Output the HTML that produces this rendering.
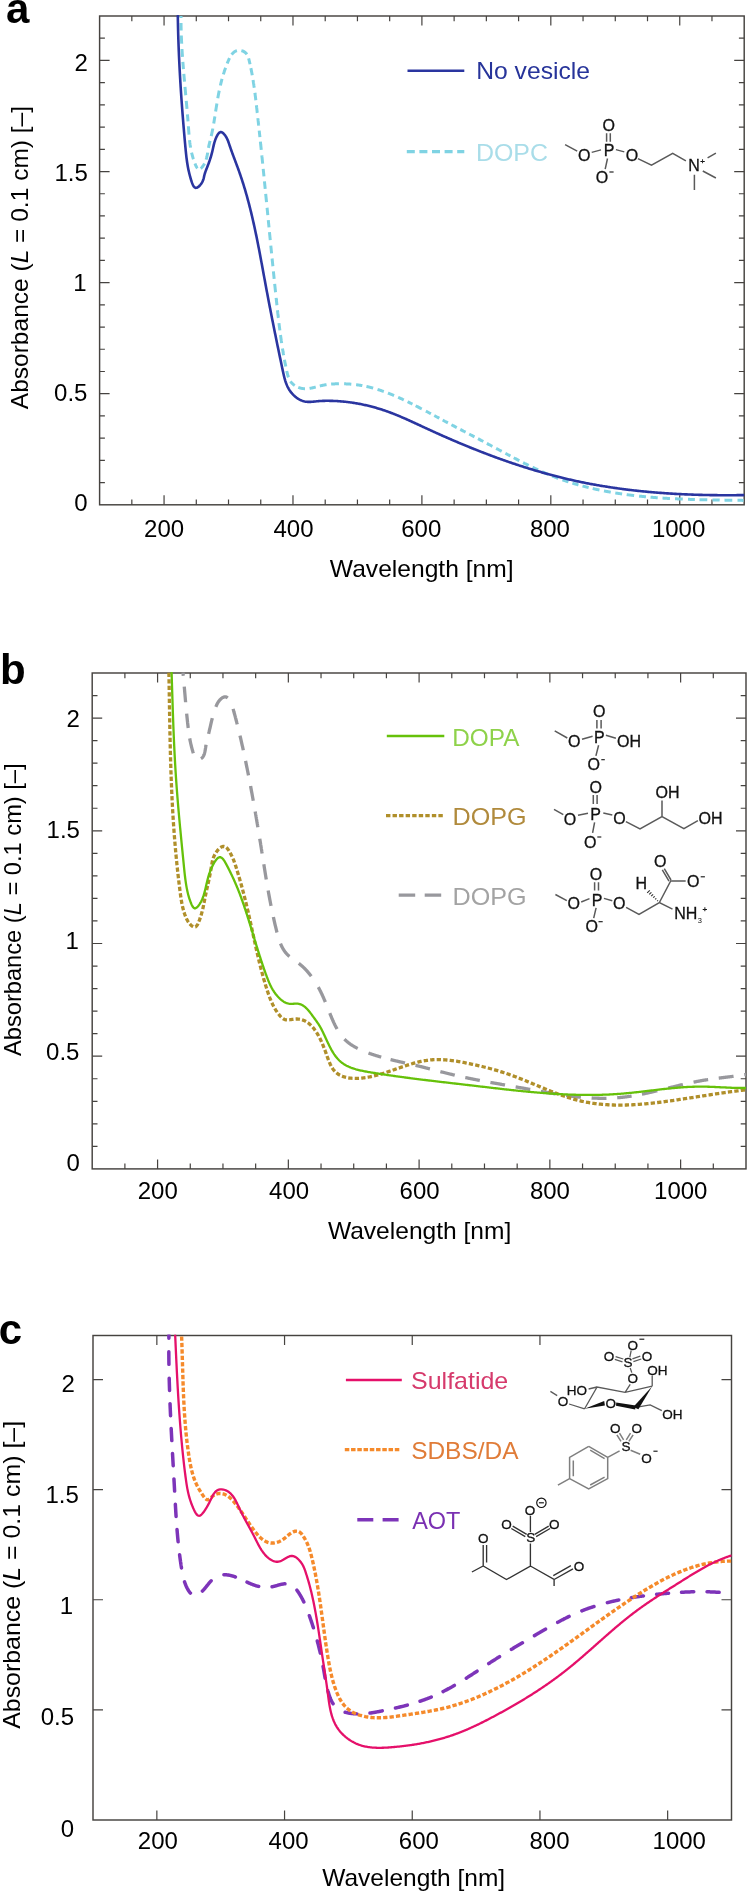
<!DOCTYPE html><html><head><meta charset="utf-8"><style>html,body{margin:0;padding:0;background:#fff;}body{width:751px;height:1892px;overflow:hidden;}svg{display:block;will-change:transform;}</style></head><body>
<svg width="751" height="1892" viewBox="0 0 751 1892" font-family="'Liberation Sans', sans-serif">
<defs>
<clipPath id="clipa"><rect x="99.6" y="15.0" width="644.6" height="489.8"/></clipPath>
<clipPath id="clipb"><rect x="92.2" y="672.0" width="653.8" height="496.9"/></clipPath>
<clipPath id="clipc"><rect x="93.0" y="1334.5" width="638.5" height="485.5"/></clipPath>
</defs>
<rect width="751" height="1892" fill="#fff"/>
<rect x="99.60" y="16.00" width="644.60" height="488.80" fill="none" stroke="#464340" stroke-width="1.45"/>
<path d="M131.83,504.80v-5.30M131.83,16.00v5.30M164.06,504.80v-9.50M164.06,16.00v9.50M196.29,504.80v-5.30M196.29,16.00v5.30M228.52,504.80v-5.30M228.52,16.00v5.30M260.75,504.80v-5.30M260.75,16.00v5.30M292.98,504.80v-9.50M292.98,16.00v9.50M325.21,504.80v-5.30M325.21,16.00v5.30M357.44,504.80v-5.30M357.44,16.00v5.30M389.67,504.80v-5.30M389.67,16.00v5.30M421.90,504.80v-9.50M421.90,16.00v9.50M454.13,504.80v-5.30M454.13,16.00v5.30M486.36,504.80v-5.30M486.36,16.00v5.30M518.59,504.80v-5.30M518.59,16.00v5.30M550.82,504.80v-9.50M550.82,16.00v9.50M583.05,504.80v-5.30M583.05,16.00v5.30M615.28,504.80v-5.30M615.28,16.00v5.30M647.51,504.80v-5.30M647.51,16.00v5.30M679.74,504.80v-9.50M679.74,16.00v9.50M711.97,504.80v-5.30M711.97,16.00v5.30M99.60,482.58h5.30M744.20,482.58h-5.30M99.60,460.36h5.30M744.20,460.36h-5.30M99.60,438.15h5.30M744.20,438.15h-5.30M99.60,415.93h5.30M744.20,415.93h-5.30M99.60,393.71h10.00M744.20,393.71h-10.00M99.60,371.49h5.30M744.20,371.49h-5.30M99.60,349.27h5.30M744.20,349.27h-5.30M99.60,327.05h5.30M744.20,327.05h-5.30M99.60,304.84h5.30M744.20,304.84h-5.30M99.60,282.62h10.00M744.20,282.62h-10.00M99.60,260.40h5.30M744.20,260.40h-5.30M99.60,238.18h5.30M744.20,238.18h-5.30M99.60,215.96h5.30M744.20,215.96h-5.30M99.60,193.75h5.30M744.20,193.75h-5.30M99.60,171.53h10.00M744.20,171.53h-10.00M99.60,149.31h5.30M744.20,149.31h-5.30M99.60,127.09h5.30M744.20,127.09h-5.30M99.60,104.87h5.30M744.20,104.87h-5.30M99.60,82.65h5.30M744.20,82.65h-5.30M99.60,60.44h10.00M744.20,60.44h-10.00M99.60,38.22h5.30M744.20,38.22h-5.30" stroke="#464340" stroke-width="1.2" fill="none"/>
<rect x="92.20" y="673.00" width="653.80" height="495.90" fill="none" stroke="#464340" stroke-width="1.45"/>
<path d="M124.89,1168.90v-5.30M124.89,673.00v5.30M157.58,1168.90v-9.50M157.58,673.00v9.50M190.27,1168.90v-5.30M190.27,673.00v5.30M222.96,1168.90v-5.30M222.96,673.00v5.30M255.65,1168.90v-5.30M255.65,673.00v5.30M288.34,1168.90v-9.50M288.34,673.00v9.50M321.03,1168.90v-5.30M321.03,673.00v5.30M353.72,1168.90v-5.30M353.72,673.00v5.30M386.41,1168.90v-5.30M386.41,673.00v5.30M419.10,1168.90v-9.50M419.10,673.00v9.50M451.79,1168.90v-5.30M451.79,673.00v5.30M484.48,1168.90v-5.30M484.48,673.00v5.30M517.17,1168.90v-5.30M517.17,673.00v5.30M549.86,1168.90v-9.50M549.86,673.00v9.50M582.55,1168.90v-5.30M582.55,673.00v5.30M615.24,1168.90v-5.30M615.24,673.00v5.30M647.93,1168.90v-5.30M647.93,673.00v5.30M680.62,1168.90v-9.50M680.62,673.00v9.50M713.31,1168.90v-5.30M713.31,673.00v5.30M92.20,1146.36h5.30M746.00,1146.36h-5.30M92.20,1123.82h5.30M746.00,1123.82h-5.30M92.20,1101.28h5.30M746.00,1101.28h-5.30M92.20,1078.74h5.30M746.00,1078.74h-5.30M92.20,1056.20h10.00M746.00,1056.20h-10.00M92.20,1033.65h5.30M746.00,1033.65h-5.30M92.20,1011.11h5.30M746.00,1011.11h-5.30M92.20,988.57h5.30M746.00,988.57h-5.30M92.20,966.03h5.30M746.00,966.03h-5.30M92.20,943.49h10.00M746.00,943.49h-10.00M92.20,920.95h5.30M746.00,920.95h-5.30M92.20,898.41h5.30M746.00,898.41h-5.30M92.20,875.87h5.30M746.00,875.87h-5.30M92.20,853.33h5.30M746.00,853.33h-5.30M92.20,830.79h10.00M746.00,830.79h-10.00M92.20,808.25h5.30M746.00,808.25h-5.30M92.20,785.70h5.30M746.00,785.70h-5.30M92.20,763.16h5.30M746.00,763.16h-5.30M92.20,740.62h5.30M746.00,740.62h-5.30M92.20,718.08h10.00M746.00,718.08h-10.00M92.20,695.54h5.30M746.00,695.54h-5.30" stroke="#464340" stroke-width="1.2" fill="none"/>
<rect x="93.00" y="1335.50" width="638.50" height="484.50" fill="none" stroke="#464340" stroke-width="1.45"/>
<path d="M156.85,1820.00v-9.50M156.85,1335.50v9.50M284.55,1820.00v-9.50M284.55,1335.50v9.50M412.25,1820.00v-9.50M412.25,1335.50v9.50M539.95,1820.00v-9.50M539.95,1335.50v9.50M667.65,1820.00v-9.50M93.00,1709.89h10.00M731.50,1709.89h-10.00M93.00,1599.77h10.00M731.50,1599.77h-10.00M93.00,1489.66h10.00M731.50,1489.66h-10.00M93.00,1379.55h10.00M731.50,1379.55h-10.00" stroke="#464340" stroke-width="1.2" fill="none"/>
<text x="6.00" y="23.15" font-size="42" font-weight="bold" fill="#000">a</text>
<text x="0.10" y="683.65" font-size="42" font-weight="bold" fill="#000">b</text>
<text x="-1.20" y="1343.65" font-size="42" font-weight="bold" fill="#000">c</text>
<text transform="translate(28.40,409.20) rotate(-90)" x="0" y="0" font-size="24" textLength="303.27" lengthAdjust="spacingAndGlyphs" fill="#000">Absorbance (<tspan font-style="italic">L</tspan> = 0.1 cm) [–]</text>
<text transform="translate(21.45,1056.00) rotate(-90)" x="0" y="0" font-size="24" textLength="292.60" lengthAdjust="spacingAndGlyphs" fill="#000">Absorbance (<tspan font-style="italic">L</tspan> = 0.1 cm) [–]</text>
<text transform="translate(20.35,1728.80) rotate(-90)" x="0" y="0" font-size="24" textLength="307.90" lengthAdjust="spacingAndGlyphs" fill="#000">Absorbance (<tspan font-style="italic">L</tspan> = 0.1 cm) [–]</text>
<text x="74.60" y="70.55" font-size="24" fill="#000">2</text>
<text x="54.45" y="180.60" font-size="24" fill="#000">1.5</text>
<text x="73.30" y="290.65" font-size="24" fill="#000">1</text>
<text x="54.05" y="400.80" font-size="24" fill="#000">0.5</text>
<text x="74.15" y="510.80" font-size="24" fill="#000">0</text>
<text x="144.05" y="536.70" font-size="24" fill="#000">200</text>
<text x="273.45" y="536.70" font-size="24" fill="#000">400</text>
<text x="401.20" y="536.70" font-size="24" fill="#000">600</text>
<text x="529.90" y="536.70" font-size="24" fill="#000">800</text>
<text x="651.90" y="536.70" font-size="24" fill="#000">1000</text>
<text x="329.85" y="576.85" font-size="24" textLength="183.73" lengthAdjust="spacingAndGlyphs" fill="#000">Wavelength [nm]</text>
<text x="476.15" y="79.10" font-size="24" textLength="113.90" lengthAdjust="spacingAndGlyphs" fill="#27349a">No vesicle</text>
<text x="475.90" y="161.40" font-size="24" textLength="72.08" lengthAdjust="spacingAndGlyphs" fill="#a9dde9">DOPC</text>
<text x="66.60" y="726.75" font-size="24" fill="#000">2</text>
<text x="46.55" y="838.05" font-size="24" fill="#000">1.5</text>
<text x="65.40" y="948.85" font-size="24" fill="#000">1</text>
<text x="46.10" y="1060.00" font-size="24" fill="#000">0.5</text>
<text x="66.45" y="1171.15" font-size="24" fill="#000">0</text>
<text x="137.70" y="1199.30" font-size="24" fill="#000">200</text>
<text x="269.05" y="1199.30" font-size="24" fill="#000">400</text>
<text x="399.55" y="1199.30" font-size="24" fill="#000">600</text>
<text x="529.90" y="1199.30" font-size="24" fill="#000">800</text>
<text x="654.05" y="1199.30" font-size="24" fill="#000">1000</text>
<text x="327.90" y="1238.85" font-size="24" textLength="183.43" lengthAdjust="spacingAndGlyphs" fill="#000">Wavelength [nm]</text>
<text x="452.30" y="745.75" font-size="24" textLength="67.06" lengthAdjust="spacingAndGlyphs" fill="#8ed24a">DOPA</text>
<text x="452.50" y="825.15" font-size="24" textLength="74.06" lengthAdjust="spacingAndGlyphs" fill="#b08a3c">DOPG</text>
<text x="452.50" y="904.60" font-size="24" textLength="74.06" lengthAdjust="spacingAndGlyphs" fill="#a3a3a3">DOPG</text>
<text x="61.50" y="1391.70" font-size="24" fill="#000">2</text>
<text x="45.40" y="1503.20" font-size="24" fill="#000">1.5</text>
<text x="59.85" y="1614.10" font-size="24" fill="#000">1</text>
<text x="40.75" y="1725.25" font-size="24" fill="#000">0.5</text>
<text x="60.75" y="1836.65" font-size="24" fill="#000">0</text>
<text x="137.85" y="1849.00" font-size="24" fill="#000">200</text>
<text x="268.55" y="1849.00" font-size="24" fill="#000">400</text>
<text x="398.80" y="1849.00" font-size="24" fill="#000">600</text>
<text x="529.50" y="1849.00" font-size="24" fill="#000">800</text>
<text x="652.55" y="1849.00" font-size="24" fill="#000">1000</text>
<text x="322.30" y="1885.70" font-size="24" textLength="182.83" lengthAdjust="spacingAndGlyphs" fill="#000">Wavelength [nm]</text>
<text x="411.05" y="1389.40" font-size="24" textLength="97.20" lengthAdjust="spacingAndGlyphs" fill="#d63a6c">Sulfatide</text>
<text x="411.15" y="1459.05" font-size="24" textLength="107.30" lengthAdjust="spacingAndGlyphs" fill="#e07c38">SDBS/DA</text>
<text x="412.15" y="1528.70" font-size="24" textLength="48.24" lengthAdjust="spacingAndGlyphs" fill="#7a30b2">AOT</text>
<path d="M181.01,16.00L181.01,16.50L181.00,17.00L181.00,17.50L181.00,18.00L181.00,18.00M181.02,23.00L181.02,23.50L181.03,24.00L181.04,24.50L181.04,25.00L181.05,25.50L181.06,26.00L181.07,26.50L181.08,27.00L181.09,27.50L181.10,28.00L181.11,28.50L181.12,29.00L181.13,29.50L181.14,30.00L181.16,30.50L181.16,30.50M181.32,35.50L181.34,36.00L181.36,36.50L181.37,37.00L181.39,37.50L181.42,38.00L181.44,38.50L181.46,39.00L181.48,39.50L181.50,40.00L181.53,40.50L181.55,41.00L181.57,41.50L181.60,42.00L181.62,42.50L181.65,43.00L181.67,43.50L181.68,43.60M181.98,48.99L182.01,49.49L182.04,49.99L182.07,50.49L182.10,50.99L182.13,51.49L182.16,51.99L182.19,52.49L182.23,52.98L182.26,53.48L182.29,53.98L182.33,54.48L182.36,54.98L182.39,55.48L182.43,55.98L182.46,56.48L182.48,56.78M182.86,61.97L182.90,62.46L182.94,62.96L182.98,63.46L183.02,63.96L183.06,64.46L183.10,64.96L183.14,65.46L183.18,65.95L183.22,66.45L183.26,66.95L183.30,67.45L183.34,67.95L183.38,68.45L183.42,68.95L183.43,69.14M183.84,73.93L183.88,74.43L183.92,74.93L183.97,75.42L184.01,75.92L184.05,76.42L184.10,76.92L184.14,77.42L184.18,77.92L184.23,78.41L184.27,78.91L184.32,79.41L184.36,79.91L184.41,80.41L184.45,80.90L184.49,81.40L184.52,81.70M184.99,86.88L185.04,87.38L185.08,87.88L185.13,88.38L185.17,88.87L185.22,89.37L185.26,89.87L185.31,90.37L185.36,90.87L185.40,91.36L185.45,91.86L185.49,92.36L185.54,92.86L185.58,93.36L185.63,93.85L185.67,94.35L185.72,94.85L185.76,95.25M186.27,100.83L186.31,101.33L186.36,101.82L186.40,102.32L186.45,102.82L186.49,103.32L186.54,103.82L186.58,104.31L186.63,104.81L186.67,105.31L186.71,105.81L186.76,106.31L186.80,106.81L186.85,107.30L186.89,107.80L186.93,108.30L186.98,108.80L186.99,108.90M187.45,114.28L187.49,114.78L187.53,115.28L187.57,115.78L187.61,116.27L187.65,116.77L187.69,117.27L187.74,117.77L187.78,118.27L187.82,118.77L187.86,119.27L187.90,119.76L187.93,120.26L187.97,120.76L188.01,121.26L188.03,121.46M188.39,126.25L188.42,126.75L188.46,127.24L188.49,127.74L188.53,128.24L188.57,128.74L188.60,129.24L188.64,129.74L188.67,130.24L188.71,130.74L188.74,131.24L188.78,131.73L188.82,132.23L188.86,132.73L188.89,133.23L188.93,133.73L188.97,134.23L189.01,134.63M189.54,140.20L189.59,140.70L189.65,141.20L189.71,141.69L189.77,142.19L189.83,142.69L189.90,143.18L189.97,143.68L190.03,144.17L190.11,144.67L190.18,145.16L190.26,145.66L190.33,146.15L190.41,146.64L190.50,147.14L190.58,147.63M191.57,152.53L191.69,153.02L191.81,153.51L191.93,153.99L192.05,154.48L192.17,154.96L192.30,155.44L192.44,155.93L192.57,156.41L192.71,156.89L192.85,157.37L193.00,157.85L193.14,158.32L193.29,158.80L193.42,159.18M194.97,163.51L195.16,163.98L195.35,164.44L195.54,164.90L195.74,165.36L195.95,165.81L196.17,166.26L196.40,166.71L196.64,167.14L196.91,167.56L197.21,167.97L197.47,168.27M200.66,168.44L201.05,168.14L201.42,167.80L201.77,167.45L202.11,167.08L202.43,166.69L202.74,166.30L203.04,165.90L203.32,165.49L203.60,165.07L203.86,164.64L204.12,164.21L204.36,163.78L204.50,163.51M206.10,159.63L206.25,159.15L206.39,158.67L206.53,158.19L206.65,157.71L206.78,157.22L206.89,156.74L207.00,156.25L207.11,155.76L207.21,155.27L207.31,154.78L207.40,154.29L207.49,153.80L207.58,153.30L207.66,152.81L207.69,152.61M208.48,147.88L208.57,147.39L208.67,146.89L208.76,146.40L208.87,145.91L208.97,145.43L209.08,144.94L209.19,144.45L209.30,143.96L209.41,143.47L209.53,142.99L209.65,142.50L209.77,142.02L209.89,141.53L210.01,141.05L210.06,140.85M211.21,136.19L211.32,135.70L211.44,135.22L211.55,134.73L211.66,134.24L211.76,133.75L211.87,133.26L211.97,132.77L212.07,132.28L212.17,131.79L212.27,131.30L212.37,130.81L212.47,130.32L212.57,129.83L212.66,129.34L212.76,128.85L212.81,128.55M213.73,123.43L213.81,122.94L213.90,122.45L213.98,121.96L214.06,121.46L214.14,120.97L214.22,120.47L214.30,119.98L214.38,119.49L214.46,118.99L214.54,118.50L214.62,118.01L214.70,117.51L214.78,117.02L214.85,116.52L214.89,116.33M215.62,111.58L215.70,111.09L215.78,110.59L215.85,110.10L215.93,109.60L216.01,109.11L216.08,108.62L216.16,108.12L216.24,107.63L216.32,107.13L216.39,106.64L216.47,106.15L216.55,105.65L216.63,105.16L216.71,104.66L216.79,104.17L216.87,103.68L216.89,103.58M217.79,98.25L217.87,97.76L217.96,97.27L218.05,96.78L218.14,96.28L218.23,95.79L218.32,95.30L218.41,94.81L218.51,94.32L218.60,93.83L218.69,93.33L218.79,92.84L218.89,92.35L218.98,91.86L219.08,91.37L219.18,90.88L219.24,90.59M220.36,85.51L220.48,85.02L220.59,84.53L220.71,84.05L220.83,83.56L220.95,83.08L221.07,82.59L221.19,82.11L221.32,81.62L221.44,81.14L221.57,80.65L221.70,80.17L221.83,79.69L221.96,79.21L222.07,78.82M223.36,74.40L223.51,73.93L223.66,73.45L223.81,72.97L223.97,72.50L224.12,72.02L224.28,71.55L224.43,71.07L224.59,70.60L224.76,70.12L224.92,69.65L225.08,69.18L225.25,68.71L225.42,68.24L225.55,67.86M227.17,63.55L227.36,63.09L227.54,62.63L227.73,62.16L227.92,61.70L228.12,61.24L228.31,60.78L228.52,60.32L228.72,59.86L228.93,59.41L229.14,58.96L229.36,58.51L229.59,58.06M231.66,54.65L231.96,54.25L232.28,53.86L232.61,53.48L232.95,53.11L233.30,52.76L233.67,52.43L234.06,52.11L234.46,51.81L234.88,51.53L235.31,51.28L235.75,51.05L236.21,50.85L236.68,50.69L236.92,50.62M241.37,50.63L241.62,50.69L242.10,50.83L242.57,50.99L243.03,51.18L243.49,51.39L243.93,51.62L244.36,51.87L244.78,52.15L245.18,52.45L245.56,52.78L245.91,53.13L246.25,53.50L246.56,53.89L246.85,54.30L246.85,54.30M248.63,58.41L248.76,58.90L248.89,59.38L249.02,59.86L249.14,60.35L249.26,60.84L249.37,61.32L249.49,61.81L249.60,62.30L249.71,62.78L249.82,63.27L249.93,63.76L250.04,64.25L250.04,64.25M250.88,68.16L250.98,68.65L251.08,69.14L251.18,69.63L251.28,70.12L251.38,70.61L251.47,71.10L251.57,71.59L251.66,72.08L251.75,72.58L251.84,73.07L251.94,73.56L252.03,74.05L252.11,74.54L252.20,75.03L252.24,75.23M253.04,79.97L253.12,80.46L253.20,80.95L253.28,81.45L253.36,81.94L253.43,82.44L253.51,82.93L253.59,83.42L253.66,83.92L253.74,84.41L253.81,84.91L253.88,85.40L253.95,85.90L254.03,86.39L254.10,86.89L254.17,87.38L254.21,87.68M254.90,92.83L254.97,93.33L255.03,93.83L255.10,94.32L255.16,94.82L255.22,95.32L255.28,95.81L255.35,96.31L255.41,96.80L255.47,97.30L255.53,97.80L255.59,98.29L255.65,98.79L255.71,99.29L255.77,99.78L255.83,100.28L255.83,100.28M256.40,105.25L256.46,105.75L256.52,106.24L256.58,106.74L256.63,107.24L256.69,107.73L256.74,108.23L256.80,108.73L256.86,109.22L256.91,109.72L256.97,110.22L257.02,110.71L257.08,111.21L257.14,111.71L257.19,112.21L257.25,112.70L257.28,113.00M257.86,118.17L257.91,118.67L257.97,119.16L258.02,119.66L258.08,120.16L258.13,120.66L258.19,121.15L258.24,121.65L258.30,122.15L258.35,122.65L258.40,123.14L258.46,123.64L258.51,124.14L258.57,124.63L258.62,125.13L258.68,125.63L258.68,125.63M259.21,130.60L259.27,131.10L259.32,131.60L259.37,132.09L259.43,132.59L259.48,133.09L259.53,133.58L259.59,134.08L259.64,134.58L259.69,135.08L259.75,135.57L259.80,136.07L259.85,136.57L259.91,137.07L259.92,137.17M260.38,141.54L260.43,142.04L260.48,142.54L260.54,143.03L260.59,143.53L260.64,144.03L260.69,144.53L260.75,145.02L260.80,145.52L260.85,146.02L260.90,146.52L260.95,147.01L261.01,147.51L261.06,148.01L261.11,148.51L261.16,149.00L261.21,149.50L261.25,149.90M261.83,155.47L261.88,155.97L261.93,156.47L261.99,156.96L262.04,157.46L262.09,157.96L262.14,158.46L262.19,158.95L262.24,159.45L262.29,159.95L262.34,160.45L262.39,160.94L262.44,161.44L262.50,161.94L262.55,162.44L262.60,162.93L262.65,163.43L262.66,163.53M263.20,168.91L263.25,169.40L263.30,169.90L263.35,170.40L263.40,170.90L263.45,171.39L263.50,171.89L263.56,172.39L263.61,172.89L263.66,173.38L263.71,173.88L263.76,174.38L263.81,174.88L263.86,175.37L263.91,175.87L263.96,176.37L263.96,176.37M264.45,181.35L264.50,181.84L264.55,182.34L264.60,182.84L264.65,183.34L264.70,183.83L264.75,184.33L264.80,184.83L264.85,185.33L264.90,185.83L264.95,186.32L265.00,186.82L265.05,187.32L265.10,187.82L265.15,188.31L265.20,188.81L265.20,188.81M265.69,193.79L265.74,194.29L265.79,194.78L265.84,195.28L265.89,195.78L265.94,196.28L265.99,196.78L266.04,197.27L266.08,197.77L266.13,198.27L266.18,198.77L266.23,199.26L266.28,199.76L266.33,200.26L266.38,200.76L266.43,201.25L266.48,201.75L266.52,202.15M267.07,207.73L267.12,208.22L267.16,208.72L267.21,209.22L267.26,209.72L267.31,210.21L267.36,210.71L267.41,211.21L267.46,211.71L267.51,212.21L267.56,212.70L267.61,213.20L267.65,213.70L267.70,214.20L267.75,214.69L267.80,215.19L267.80,215.19M268.29,220.17L268.34,220.67L268.39,221.16L268.44,221.66L268.49,222.16L268.53,222.66L268.58,223.16L268.63,223.65L268.68,224.15L268.73,224.65L268.78,225.15L268.83,225.64L268.88,226.14L268.93,226.64L268.98,227.14L269.00,227.34M269.47,232.12L269.52,232.61L269.56,233.11L269.61,233.61L269.66,234.11L269.71,234.60L269.76,235.10L269.81,235.60L269.86,236.10L269.91,236.59L269.96,237.09L270.01,237.59L270.06,238.09L270.11,238.59L270.15,239.08L270.20,239.58L270.25,240.08L270.26,240.18M270.80,245.55L270.85,246.05L270.89,246.55L270.94,247.05L270.99,247.54L271.04,248.04L271.09,248.54L271.14,249.04L271.19,249.54L271.24,250.03L271.29,250.53L271.34,251.03L271.39,251.53L271.44,252.02L271.49,252.52L271.54,253.02L271.57,253.32M272.09,258.49L272.14,258.99L272.19,259.49L272.24,259.99L272.29,260.48L272.34,260.98L272.39,261.48L272.44,261.98L272.49,262.47L272.54,262.97L272.59,263.47L272.64,263.97L272.69,264.46L272.74,264.96L272.79,265.46L272.84,265.96L272.87,266.26M273.40,271.43L273.45,271.93L273.50,272.43L273.55,272.92L273.60,273.42L273.65,273.92L273.70,274.42L273.75,274.91L273.80,275.41L273.86,275.91L273.91,276.41L273.96,276.90L274.01,277.40L274.06,277.90L274.11,278.40L274.16,278.89M274.68,283.87L274.73,284.37L274.78,284.86L274.83,285.36L274.88,285.86L274.94,286.36L274.99,286.85L275.04,287.35L275.09,287.85L275.14,288.35L275.20,288.84L275.25,289.34L275.30,289.84L275.35,290.34L275.40,290.83L275.46,291.33L275.51,291.83L275.55,292.23M276.14,297.80L276.19,298.29L276.25,298.79L276.30,299.29L276.35,299.79L276.41,300.28L276.46,300.78L276.51,301.28L276.57,301.78L276.62,302.27L276.67,302.77L276.73,303.27L276.78,303.76L276.83,304.26L276.89,304.76L276.94,305.26M277.48,310.23L277.54,310.73L277.59,311.22L277.65,311.72L277.70,312.22L277.76,312.71L277.82,313.21L277.87,313.71L277.93,314.20L277.98,314.70L278.04,315.20L278.10,315.70L278.15,316.19L278.21,316.69L278.27,317.19L278.32,317.68L278.36,317.98M278.97,323.15L279.03,323.64L279.09,324.14L279.15,324.64L279.21,325.13L279.27,325.63L279.33,326.13L279.39,326.62L279.46,327.12L279.52,327.61L279.58,328.11L279.64,328.61L279.71,329.10L279.77,329.60L279.84,330.10L279.86,330.29M280.49,335.05L280.56,335.55L280.63,336.04L280.70,336.54L280.77,337.04L280.84,337.53L280.91,338.03L280.98,338.52L281.05,339.02L281.12,339.51L281.19,340.01L281.26,340.50L281.33,341.00L281.41,341.49L281.48,341.99L281.55,342.48L281.63,342.98L281.64,343.07M282.47,348.41L282.55,348.90L282.63,349.40L282.71,349.89L282.80,350.39L282.88,350.88L282.96,351.37L283.04,351.87L283.13,352.36L283.21,352.85L283.30,353.34L283.38,353.84L283.47,354.33L283.55,354.82L283.62,355.22M284.45,359.74L284.54,360.23L284.64,360.73L284.73,361.22L284.83,361.71L284.92,362.20L285.02,362.69L285.11,363.18L285.21,363.67L285.31,364.16L285.41,364.65L285.51,365.14L285.61,365.63L285.71,366.12L285.79,366.51M286.75,371.01L286.86,371.50L286.97,371.99L287.08,372.48L287.19,372.96L287.31,373.45L287.43,373.94L287.55,374.42L287.68,374.91L287.81,375.39L287.95,375.87L288.10,376.35L288.26,376.82L288.42,377.29L288.46,377.39M290.46,381.29L290.75,381.70L291.06,382.09L291.38,382.48L291.71,382.85L292.06,383.21L292.41,383.56L292.78,383.90L293.15,384.23L293.54,384.55L293.93,384.86L294.33,385.16L294.74,385.45L294.74,385.45M298.25,387.36L298.72,387.54L299.19,387.71L299.66,387.87L300.14,388.01L300.62,388.14L301.11,388.25L301.60,388.35L302.09,388.44L302.59,388.51L303.08,388.57L303.58,388.62L304.08,388.66L304.58,388.68L304.98,388.69M309.56,388.36L310.06,388.28L310.55,388.20L311.04,388.11L311.54,388.02L312.03,387.92L312.51,387.81L313.00,387.71L313.49,387.60L313.98,387.48L314.46,387.37L314.95,387.25L315.44,387.13L315.73,387.05M319.80,386.01L320.28,385.89L320.77,385.77L321.25,385.65L321.74,385.54L322.23,385.43L322.72,385.32L323.21,385.22L323.70,385.12L324.19,385.02L324.68,384.93L325.17,384.85L325.67,384.77L326.16,384.69L326.56,384.63M331.13,384.12L331.63,384.08L332.13,384.04L332.62,384.01L333.12,383.98L333.62,383.95L334.12,383.92L334.62,383.90L335.12,383.87L335.62,383.85L336.12,383.84L336.62,383.82L337.12,383.81L337.62,383.80L338.12,383.78L338.62,383.78L338.92,383.77M344.12,383.81L344.62,383.82L345.12,383.84L345.62,383.86L346.12,383.88L346.62,383.90L347.12,383.92L347.62,383.95L348.12,383.98L348.62,384.01L349.12,384.04L349.62,384.07L350.12,384.11L350.61,384.15L351.11,384.19L351.31,384.21M356.09,384.70L356.58,384.76L357.08,384.83L357.58,384.89L358.07,384.96L358.57,385.03L359.06,385.11L359.56,385.18L360.05,385.26L360.54,385.34L361.04,385.42L361.53,385.51L362.02,385.59L362.32,385.65M366.44,386.47L366.93,386.57L367.41,386.68L367.90,386.79L368.39,386.91L368.88,387.02L369.36,387.14L369.85,387.26L370.33,387.38L370.82,387.50L371.30,387.63L371.79,387.76L372.27,387.88L372.75,388.01L373.14,388.12M377.55,389.41L378.03,389.56L378.51,389.71L378.98,389.87L379.46,390.02L379.94,390.18L380.41,390.33L380.88,390.49L381.36,390.65L381.83,390.81L382.30,390.98L382.78,391.14L383.25,391.31L383.72,391.48L383.81,391.51M387.94,393.05L388.40,393.23L388.87,393.41L389.34,393.59L389.80,393.78L390.26,393.96L390.73,394.15L391.19,394.34L391.66,394.53L392.12,394.72L392.58,394.91L393.04,395.10L393.50,395.29L393.96,395.49L394.06,395.53M398.09,397.28L398.55,397.49L399.00,397.69L399.46,397.90L399.92,398.11L400.37,398.31L400.82,398.52L401.28,398.73L401.73,398.94L402.19,399.15L402.64,399.36L403.09,399.58L403.55,399.79L403.82,399.92M407.60,401.74L408.05,401.96L408.50,402.18L408.95,402.40L409.40,402.62L409.85,402.84L410.30,403.06L410.74,403.28L411.19,403.51L411.64,403.73L412.09,403.95L412.44,404.13M415.66,405.76L416.10,405.99L416.55,406.22L416.99,406.45L417.44,406.67L417.88,406.90L418.33,407.13L418.77,407.36L419.21,407.59L419.66,407.82L420.10,408.05L420.54,408.29L420.99,408.52L421.43,408.75L421.79,408.93M425.86,411.08L426.30,411.31L426.74,411.55L427.18,411.78L427.62,412.02L428.06,412.25L428.51,412.49L428.95,412.72L429.39,412.96L429.83,413.20L430.27,413.43L430.71,413.67L430.89,413.76M434.24,415.56L434.68,415.80L435.12,416.03L435.56,416.27L436.00,416.51L436.44,416.74L436.88,416.98L437.32,417.22L437.76,417.45L438.20,417.69L438.64,417.93L439.08,418.16L439.26,418.26M442.61,420.06L443.05,420.29L443.49,420.53L443.93,420.76L444.37,421.00L444.81,421.24L445.26,421.47L445.70,421.71L446.14,421.94L446.58,422.18L447.02,422.41L447.46,422.65L447.90,422.88L447.90,422.88M451.44,424.75L451.88,424.99L452.32,425.22L452.77,425.46L453.21,425.69L453.65,425.92L454.09,426.15L454.54,426.39L454.98,426.62L455.42,426.85L455.86,427.09L456.31,427.32L456.75,427.55L456.75,427.55M460.29,429.41L460.74,429.64L461.18,429.88L461.62,430.11L462.07,430.34L462.51,430.57L462.95,430.80L463.39,431.04L463.84,431.27L464.28,431.50L464.72,431.73L465.17,431.96L465.61,432.19L465.61,432.19M469.16,434.05L469.60,434.28L470.04,434.51L470.49,434.74L470.93,434.98L471.37,435.21L471.81,435.44L472.26,435.67L472.70,435.90L473.14,436.14L473.59,436.37L474.03,436.60L474.47,436.83M478.02,438.69L478.46,438.93L478.90,439.16L479.34,439.39L479.79,439.63L480.23,439.86L480.67,440.09L481.11,440.33L481.56,440.56L482.00,440.79L482.44,441.03L482.88,441.26L483.32,441.49M486.86,443.37L487.30,443.60L487.74,443.84L488.18,444.07L488.62,444.31L489.07,444.54L489.51,444.78L489.95,445.02L490.39,445.25L490.83,445.49L491.27,445.72L491.71,445.96L492.15,446.20L492.42,446.34M496.12,448.33L496.56,448.57L497.00,448.80L497.44,449.04L497.88,449.28L498.32,449.52L498.76,449.75L499.20,449.99L499.64,450.23L500.08,450.46L500.52,450.70L500.96,450.94L501.40,451.18L501.66,451.32M505.37,453.31L505.81,453.54L506.25,453.78L506.69,454.02L507.13,454.25L507.57,454.49L508.01,454.72L508.45,454.96L508.89,455.19L509.33,455.43L509.78,455.66L510.22,455.90L510.39,455.99M513.75,457.77L514.20,458.01L514.64,458.24L515.08,458.47L515.52,458.70L515.97,458.93L516.41,459.17L516.85,459.40L517.30,459.63L517.74,459.86L518.19,460.09L518.63,460.32L519.07,460.55L519.34,460.69M523.08,462.61L523.52,462.83L523.97,463.06L524.42,463.28L524.86,463.51L525.31,463.73L525.76,463.96L526.20,464.18L526.65,464.41L527.10,464.63L527.55,464.85L528.00,465.07L528.44,465.30L528.71,465.43M532.49,467.27L532.94,467.48L533.39,467.70L533.84,467.92L534.29,468.13L534.75,468.35L535.20,468.56L535.65,468.77L536.10,468.98L536.56,469.20L537.01,469.41L537.46,469.62L537.92,469.83L538.19,469.95M542.02,471.69L542.47,471.89L542.93,472.10L543.39,472.30L543.85,472.50L544.30,472.70L544.76,472.90L545.22,473.10L545.68,473.30L546.14,473.49L546.60,473.69L547.06,473.89L547.52,474.08L547.98,474.28L548.07,474.31M552.15,475.99L552.61,476.17L553.08,476.36L553.54,476.54L554.01,476.72L554.47,476.90L554.94,477.08L555.41,477.26L555.87,477.44L556.34,477.62L556.81,477.80L557.28,477.98L557.74,478.15L558.21,478.33L558.31,478.36M562.45,479.85L562.92,480.02L563.39,480.18L563.86,480.35L564.34,480.51L564.81,480.67L565.28,480.83L565.76,480.99L566.23,481.15L566.71,481.31L567.18,481.46L567.66,481.62L568.13,481.77L568.42,481.87M572.42,483.13L572.90,483.28L573.38,483.42L573.86,483.57L574.34,483.71L574.82,483.85L575.30,484.00L575.78,484.14L576.26,484.28L576.74,484.42L577.22,484.55L577.70,484.69L578.18,484.83L578.47,484.91M582.52,486.02L583.00,486.15L583.49,486.28L583.97,486.41L584.46,486.53L584.94,486.66L585.42,486.78L585.91,486.90L586.39,487.03L586.88,487.15L587.36,487.27L587.85,487.39L588.34,487.51L588.63,487.58M592.71,488.55L593.20,488.66L593.69,488.78L594.18,488.89L594.67,488.99L595.15,489.10L595.64,489.21L596.13,489.32L596.62,489.43L597.11,489.53L597.60,489.64L598.09,489.74L598.58,489.84L599.07,489.95L599.46,490.03M603.97,490.94L604.46,491.03L604.95,491.13L605.44,491.22L605.93,491.31L606.42,491.40L606.92,491.50L607.41,491.59L607.90,491.68L608.39,491.77L608.88,491.85L609.38,491.94L609.87,492.03L610.36,492.12L610.76,492.19M615.29,492.95L615.79,493.03L616.28,493.11L616.78,493.19L617.27,493.26L617.76,493.34L618.26,493.42L618.75,493.49L619.25,493.57L619.74,493.64L620.24,493.72L620.73,493.79L621.23,493.86L621.72,493.93L622.12,493.99M626.67,494.62L627.17,494.69L627.67,494.75L628.16,494.82L628.66,494.88L629.15,494.95L629.65,495.01L630.15,495.07L630.64,495.13L631.14,495.20L631.64,495.26L632.13,495.32L632.63,495.38L633.13,495.44L633.62,495.49L634.12,495.55L634.12,495.55M639.09,496.10L639.59,496.16L640.08,496.21L640.58,496.26L641.08,496.31L641.58,496.36L642.07,496.41L642.57,496.46L643.07,496.51L643.57,496.56L644.07,496.61L644.56,496.65L645.06,496.70L645.56,496.75L645.96,496.79M650.54,497.19L651.04,497.23L651.54,497.27L652.04,497.31L652.54,497.35L653.03,497.39L653.53,497.43L654.03,497.47L654.53,497.51L655.03,497.55L655.53,497.59L656.03,497.63L656.52,497.66L657.02,497.70L657.52,497.74L657.72,497.75M662.51,498.08L663.01,498.11L663.51,498.14L664.01,498.17L664.51,498.21L665.01,498.24L665.51,498.27L666.01,498.30L666.51,498.33L667.00,498.36L667.50,498.38L668.00,498.41L668.50,498.44L669.00,498.47L669.50,498.50L670.00,498.52L670.00,498.52M675.00,498.78L675.50,498.80L675.99,498.83L676.49,498.85L676.99,498.87L677.49,498.90L677.99,498.92L678.49,498.94L678.99,498.96L679.49,498.98L679.99,499.01L680.49,499.03L680.99,499.05L681.49,499.07L681.99,499.09L682.49,499.11L682.79,499.12M687.99,499.31L688.49,499.33L688.99,499.35L689.49,499.36L689.99,499.38L690.49,499.39L690.99,499.41L691.49,499.43L691.99,499.44L692.49,499.46L692.99,499.47L693.49,499.49L693.99,499.50L694.49,499.52L694.89,499.53M699.49,499.65L699.99,499.66L700.49,499.67L700.99,499.69L701.49,499.70L701.99,499.71L702.49,499.72L702.99,499.73L703.49,499.74L703.99,499.76L704.49,499.77L704.99,499.78L705.49,499.79L705.99,499.80L706.49,499.81L706.99,499.82L707.29,499.83M712.49,499.93L712.99,499.93L713.49,499.94L713.99,499.95L714.49,499.96L714.99,499.97L715.49,499.98L715.99,499.99L716.49,499.99L716.99,500.00L717.49,500.01L717.99,500.02L718.49,500.03L718.99,500.04L719.49,500.04L719.69,500.05M724.49,500.12L724.99,500.13L725.49,500.13L725.99,500.14L726.49,500.15L726.99,500.16L727.49,500.16L727.99,500.17L728.49,500.18L728.99,500.18L729.49,500.19L729.99,500.20L730.49,500.21L730.99,500.21L731.49,500.22L731.99,500.23L732.29,500.23M737.49,500.31L737.99,500.31L738.49,500.32L738.99,500.33L739.49,500.34L739.99,500.34L740.49,500.35L740.99,500.36L741.49,500.37L741.99,500.37L742.49,500.38L742.99,500.39L743.49,500.40" fill="none" stroke="#7fd3e3" stroke-width="3.0" stroke-linecap="butt" stroke-linejoin="round" clip-path="url(#clipa)"/>
<path d="M177.81,16.00L177.82,17.00L177.84,18.00L177.85,19.00L177.87,20.00L177.89,21.00L177.91,22.01L177.93,23.01L177.95,24.01L177.97,25.01L177.99,26.01L178.01,27.01L178.04,28.01L178.06,29.01L178.09,30.01L178.11,31.01L178.14,32.01L178.17,33.01L178.19,34.01L178.22,35.01L178.25,36.01L178.28,37.01L178.31,38.01L178.35,39.01L178.38,40.01L178.41,41.01L178.45,42.01L178.48,43.01L178.52,44.01L178.55,45.01L178.59,46.01L178.63,47.01L178.66,48.01L178.70,49.01L178.74,50.01L178.78,51.01L178.82,52.01L178.87,53.01L178.91,54.01L178.95,55.01L178.99,56.01L179.04,57.01L179.08,58.01L179.13,59.01L179.18,60.01L179.22,61.01L179.27,62.01L179.32,63.01L179.37,64.01L179.42,65.01L179.47,66.01L179.52,67.00L179.57,68.00L179.62,69.00L179.67,70.00L179.73,71.00L179.78,72.00L179.84,73.00L179.89,74.00L179.95,75.00L180.00,76.00L180.06,77.00L180.12,78.00L180.18,78.99L180.24,79.99L180.29,80.99L180.35,81.99L180.41,82.99L180.48,83.99L180.54,84.99L180.60,85.99L180.66,86.99L180.73,87.98L180.79,88.98L180.85,89.98L180.92,90.98L180.98,91.98L181.05,92.98L181.12,93.98L181.19,94.97L181.25,95.97L181.32,96.97L181.39,97.97L181.46,98.97L181.53,99.97L181.60,100.96L181.67,101.96L181.74,102.96L181.81,103.96L181.89,104.96L181.96,105.95L182.03,106.95L182.11,107.95L182.18,108.95L182.26,109.95L182.33,110.94L182.41,111.94L182.49,112.94L182.56,113.94L182.64,114.93L182.72,115.93L182.80,116.93L182.88,117.93L182.96,118.92L183.04,119.92L183.12,120.92L183.20,121.92L183.28,122.91L183.36,123.91L183.45,124.91L183.53,125.91L183.61,126.90L183.70,127.90L183.78,128.90L183.87,129.89L183.95,130.89L184.04,131.89L184.12,132.89L184.21,133.88L184.30,134.88L184.39,135.88L184.47,136.87L184.56,137.87L184.65,138.87L184.74,139.86L184.83,140.86L184.92,141.86L185.01,142.85L185.11,143.85L185.20,144.85L185.29,145.84L185.38,146.84L185.48,147.83L185.57,148.83L185.66,149.83L185.76,150.82L185.86,151.82L185.96,152.81L186.06,153.81L186.17,154.80L186.28,155.80L186.39,156.79L186.51,157.79L186.64,158.78L186.77,159.77L186.90,160.76L187.04,161.75L187.19,162.74L187.35,163.73L187.51,164.72L187.68,165.71L187.85,166.69L188.04,167.68L188.23,168.66L188.43,169.64L188.64,170.62L188.85,171.59L189.08,172.57L189.31,173.54L189.56,174.51L189.81,175.48L190.07,176.45L190.34,177.41L190.62,178.37L190.91,179.33L191.21,180.28L191.51,181.24L191.83,182.19L192.17,183.13L192.53,184.06L192.93,184.98L193.39,185.86L193.95,186.70L194.65,187.41L195.54,187.84L196.53,187.82L197.45,187.45L198.29,186.90L199.05,186.25L199.76,185.54L200.41,184.78L201.02,183.99L201.59,183.17L202.10,182.31L202.57,181.42L202.97,180.51L203.31,179.56L203.58,178.60L203.82,177.63L204.03,176.65L204.25,175.68L204.50,174.71L204.77,173.74L205.07,172.79L205.40,171.84L205.74,170.90L206.09,169.96L206.45,169.03L206.81,168.10L207.18,167.17L207.55,166.24L207.92,165.31L208.28,164.37L208.63,163.44L208.97,162.50L209.31,161.56L209.63,160.61L209.95,159.66L210.26,158.71L210.56,157.75L210.85,156.80L211.14,155.84L211.41,154.87L211.68,153.91L211.93,152.94L212.18,151.97L212.42,151.00L212.64,150.03L212.86,149.05L213.08,148.07L213.29,147.09L213.50,146.12L213.73,145.14L213.96,144.17L214.21,143.20L214.49,142.24L214.78,141.28L215.09,140.33L215.44,139.39L215.80,138.46L216.20,137.54L216.62,136.63L217.07,135.74L217.56,134.87L218.11,134.03L218.73,133.25L219.47,132.57L220.35,132.11L221.33,132.07L222.25,132.47L223.05,133.07L223.76,133.77L224.43,134.52L225.04,135.31L225.61,136.13L226.14,136.98L226.63,137.85L227.08,138.75L227.50,139.65L227.88,140.58L228.25,141.51L228.59,142.45L228.92,143.39L229.24,144.34L229.56,145.29L229.88,146.24L230.20,147.19L230.52,148.13L230.85,149.08L231.18,150.02L231.52,150.97L231.86,151.91L232.20,152.85L232.54,153.79L232.89,154.73L233.24,155.67L233.59,156.60L233.94,157.54L234.29,158.48L234.64,159.41L234.99,160.35L235.35,161.29L235.70,162.22L236.05,163.16L236.40,164.10L236.75,165.03L237.10,165.97L237.45,166.91L237.80,167.85L238.14,168.79L238.48,169.73L238.82,170.67L239.16,171.61L239.49,172.56L239.82,173.50L240.15,174.45L240.47,175.39L240.79,176.34L241.11,177.29L241.43,178.24L241.74,179.19L242.05,180.14L242.36,181.09L242.67,182.05L242.97,183.00L243.27,183.95L243.57,184.91L243.86,185.87L244.16,186.82L244.45,187.78L244.74,188.74L245.02,189.70L245.31,190.66L245.59,191.62L245.86,192.58L246.14,193.54L246.41,194.50L246.69,195.47L246.96,196.43L247.22,197.39L247.49,198.36L247.75,199.32L248.01,200.29L248.27,201.26L248.53,202.22L248.78,203.19L249.04,204.16L249.29,205.13L249.53,206.10L249.78,207.07L250.03,208.04L250.27,209.01L250.51,209.98L250.75,210.95L250.99,211.92L251.22,212.90L251.46,213.87L251.69,214.84L251.92,215.82L252.15,216.79L252.38,217.76L252.60,218.74L252.83,219.71L253.05,220.69L253.27,221.67L253.49,222.64L253.71,223.62L253.93,224.60L254.14,225.57L254.36,226.55L254.57,227.53L254.78,228.51L254.99,229.49L255.20,230.46L255.41,231.44L255.61,232.42L255.82,233.40L256.02,234.38L256.23,235.36L256.43,236.34L256.63,237.32L256.83,238.30L257.03,239.28L257.22,240.26L257.42,241.24L257.62,242.23L257.81,243.21L258.01,244.19L258.20,245.17L258.39,246.15L258.58,247.14L258.77,248.12L258.96,249.10L259.15,250.08L259.34,251.07L259.53,252.05L259.72,253.03L259.91,254.01L260.09,255.00L260.28,255.98L260.46,256.96L260.65,257.95L260.83,258.93L261.02,259.91L261.20,260.90L261.38,261.88L261.56,262.87L261.75,263.85L261.93,264.83L262.11,265.82L262.29,266.80L262.47,267.79L262.66,268.77L262.84,269.75L263.02,270.74L263.20,271.72L263.38,272.71L263.56,273.69L263.74,274.68L263.92,275.66L264.10,276.64L264.28,277.63L264.46,278.61L264.64,279.60L264.83,280.58L265.01,281.56L265.19,282.55L265.37,283.53L265.55,284.52L265.73,285.50L265.92,286.48L266.10,287.47L266.28,288.45L266.47,289.44L266.65,290.42L266.84,291.40L267.02,292.39L267.21,293.37L267.39,294.35L267.58,295.34L267.76,296.32L267.95,297.30L268.14,298.29L268.33,299.27L268.51,300.25L268.70,301.23L268.89,302.22L269.08,303.20L269.27,304.18L269.46,305.16L269.65,306.15L269.84,307.13L270.03,308.11L270.22,309.09L270.41,310.08L270.60,311.06L270.79,312.04L270.99,313.02L271.18,314.00L271.37,314.99L271.57,315.97L271.76,316.95L271.95,317.93L272.15,318.91L272.34,319.90L272.54,320.88L272.73,321.86L272.93,322.84L273.12,323.82L273.32,324.80L273.52,325.78L273.71,326.76L273.91,327.75L274.11,328.73L274.30,329.71L274.50,330.69L274.70,331.67L274.90,332.65L275.10,333.63L275.30,334.61L275.50,335.59L275.69,336.57L275.89,337.55L276.09,338.53L276.29,339.51L276.50,340.50L276.70,341.48L276.90,342.46L277.10,343.44L277.30,344.42L277.50,345.40L277.70,346.38L277.91,347.36L278.11,348.34L278.31,349.32L278.52,350.30L278.72,351.28L278.92,352.26L279.13,353.24L279.33,354.21L279.53,355.19L279.74,356.17L279.94,357.15L280.15,358.13L280.35,359.11L280.56,360.09L280.76,361.07L280.97,362.05L281.18,363.03L281.38,364.01L281.59,364.99L281.80,365.97L282.00,366.95L282.21,367.93L282.42,368.90L282.62,369.88L282.83,370.86L283.04,371.84L283.25,372.82L283.47,373.80L283.69,374.77L283.92,375.75L284.16,376.72L284.40,377.69L284.66,378.65L284.94,379.62L285.22,380.58L285.53,381.53L285.85,382.48L286.19,383.42L286.55,384.35L286.93,385.27L287.34,386.19L287.77,387.09L288.23,387.98L288.72,388.86L289.23,389.72L289.77,390.56L290.34,391.38L290.94,392.18L291.56,392.96L292.22,393.72L292.90,394.46L293.60,395.17L294.33,395.85L295.08,396.51L295.86,397.14L296.66,397.74L297.48,398.31L298.33,398.85L299.19,399.35L300.08,399.82L300.98,400.24L301.91,400.62L302.85,400.96L303.81,401.25L304.78,401.49L305.76,401.67L306.76,401.80L307.75,401.88L308.75,401.91L309.75,401.91L310.75,401.87L311.75,401.81L312.75,401.73L313.75,401.63L314.74,401.53L315.74,401.42L316.73,401.31L317.73,401.22L318.72,401.13L319.72,401.06L320.72,400.99L321.72,400.94L322.72,400.90L323.72,400.86L324.72,400.84L325.72,400.82L326.72,400.81L327.72,400.81L328.72,400.82L329.72,400.83L330.72,400.84L331.72,400.87L332.72,400.90L333.72,400.93L334.72,400.97L335.72,401.02L336.72,401.07L337.72,401.13L338.72,401.20L339.72,401.27L340.72,401.35L341.71,401.43L342.71,401.52L343.71,401.61L344.70,401.72L345.70,401.82L346.69,401.93L347.69,402.05L348.68,402.17L349.67,402.30L350.66,402.44L351.65,402.58L352.64,402.72L353.63,402.88L354.62,403.03L355.61,403.20L356.59,403.36L357.58,403.54L358.56,403.72L359.55,403.90L360.53,404.09L361.51,404.28L362.49,404.49L363.47,404.69L364.45,404.90L365.43,405.12L366.40,405.34L367.38,405.57L368.35,405.80L369.32,406.04L370.29,406.28L371.26,406.53L372.23,406.78L373.20,407.04L374.16,407.31L375.13,407.58L376.09,407.85L377.05,408.13L378.01,408.42L378.97,408.71L379.92,409.00L380.88,409.30L381.83,409.61L382.78,409.92L383.73,410.23L384.68,410.55L385.62,410.88L386.57,411.21L387.51,411.55L388.45,411.89L389.39,412.23L390.33,412.58L391.27,412.93L392.20,413.29L393.13,413.65L394.06,414.02L395.00,414.39L395.92,414.76L396.85,415.14L397.78,415.52L398.70,415.90L399.62,416.29L400.55,416.67L401.47,417.07L402.39,417.46L403.31,417.86L404.22,418.26L405.14,418.66L406.05,419.06L406.97,419.47L407.88,419.88L408.80,420.29L409.71,420.70L410.62,421.11L411.53,421.53L412.44,421.94L413.35,422.36L414.26,422.78L415.17,423.20L416.08,423.62L416.98,424.04L417.89,424.46L418.80,424.88L419.71,425.30L420.61,425.72L421.52,426.14L422.43,426.57L423.34,426.99L424.24,427.41L425.15,427.83L426.06,428.25L426.97,428.67L427.88,429.09L428.79,429.51L429.70,429.93L430.61,430.34L431.52,430.76L432.43,431.17L433.34,431.59L434.25,432.00L435.16,432.41L436.07,432.83L436.98,433.24L437.90,433.65L438.81,434.06L439.72,434.47L440.64,434.87L441.55,435.28L442.47,435.69L443.38,436.09L444.30,436.49L445.21,436.90L446.13,437.30L447.05,437.70L447.96,438.10L448.88,438.50L449.80,438.90L450.72,439.30L451.64,439.69L452.55,440.09L453.47,440.48L454.39,440.88L455.31,441.27L456.23,441.66L457.16,442.05L458.08,442.44L459.00,442.83L459.92,443.22L460.84,443.61L461.77,443.99L462.69,444.38L463.62,444.76L464.54,445.15L465.47,445.53L466.39,445.91L467.32,446.29L468.24,446.67L469.17,447.05L470.10,447.42L471.02,447.80L471.95,448.17L472.88,448.55L473.81,448.92L474.74,449.29L475.67,449.66L476.60,450.03L477.53,450.40L478.46,450.76L479.39,451.13L480.32,451.49L481.26,451.86L482.19,452.22L483.12,452.58L484.06,452.94L484.99,453.30L485.92,453.66L486.86,454.01L487.80,454.37L488.73,454.72L489.67,455.07L490.60,455.42L491.54,455.77L492.48,456.12L493.42,456.47L494.36,456.82L495.30,457.16L496.24,457.51L497.18,457.85L498.12,458.19L499.06,458.53L500.00,458.87L500.94,459.21L501.88,459.54L502.83,459.88L503.77,460.21L504.71,460.55L505.66,460.88L506.60,461.21L507.55,461.54L508.49,461.86L509.44,462.19L510.39,462.51L511.33,462.84L512.28,463.16L513.23,463.48L514.18,463.80L515.13,464.11L516.08,464.43L517.03,464.74L517.98,465.06L518.93,465.37L519.88,465.68L520.83,465.99L521.78,466.29L522.74,466.60L523.69,466.90L524.64,467.21L525.60,467.51L526.55,467.81L527.51,468.11L528.46,468.40L529.42,468.70L530.38,468.99L531.33,469.29L532.29,469.58L533.25,469.87L534.21,470.15L535.17,470.44L536.12,470.72L537.08,471.01L538.04,471.29L539.01,471.57L539.97,471.85L540.93,472.12L541.89,472.40L542.85,472.67L543.82,472.94L544.78,473.21L545.74,473.48L546.71,473.75L547.67,474.01L548.64,474.28L549.60,474.54L550.57,474.80L551.54,475.06L552.50,475.31L553.47,475.57L554.44,475.82L555.41,476.07L556.38,476.32L557.35,476.57L558.32,476.82L559.29,477.06L560.26,477.30L561.23,477.55L562.20,477.78L563.17,478.02L564.15,478.26L565.12,478.49L566.09,478.72L567.07,478.95L568.04,479.18L569.02,479.41L569.99,479.63L570.97,479.85L571.94,480.08L572.92,480.29L573.90,480.51L574.87,480.73L575.85,480.94L576.83,481.15L577.81,481.36L578.79,481.57L579.77,481.77L580.75,481.98L581.73,482.18L582.71,482.38L583.69,482.58L584.67,482.78L585.65,482.97L586.63,483.16L587.61,483.36L588.60,483.55L589.58,483.73L590.56,483.92L591.55,484.10L592.53,484.28L593.51,484.47L594.50,484.64L595.48,484.82L596.47,485.00L597.45,485.17L598.44,485.34L599.43,485.51L600.41,485.68L601.40,485.85L602.39,486.01L603.37,486.17L604.36,486.34L605.35,486.50L606.34,486.65L607.33,486.81L608.31,486.96L609.30,487.12L610.29,487.27L611.28,487.42L612.27,487.57L613.26,487.71L614.25,487.86L615.24,488.00L616.23,488.14L617.22,488.28L618.21,488.42L619.21,488.56L620.20,488.69L621.19,488.82L622.18,488.96L623.17,489.09L624.17,489.22L625.16,489.34L626.15,489.47L627.14,489.59L628.14,489.71L629.13,489.84L630.12,489.95L631.12,490.07L632.11,490.19L633.11,490.30L634.10,490.42L635.09,490.53L636.09,490.64L637.08,490.75L638.08,490.85L639.07,490.96L640.07,491.06L641.06,491.17L642.06,491.27L643.06,491.37L644.05,491.47L645.05,491.56L646.04,491.66L647.04,491.75L648.04,491.85L649.03,491.94L650.03,492.03L651.03,492.12L652.02,492.20L653.02,492.29L654.02,492.37L655.01,492.45L656.01,492.54L657.01,492.62L658.01,492.70L659.00,492.77L660.00,492.85L661.00,492.92L662.00,493.00L663.00,493.07L663.99,493.14L664.99,493.21L665.99,493.28L666.99,493.34L667.99,493.41L668.99,493.47L669.99,493.54L670.98,493.60L671.98,493.66L672.98,493.72L673.98,493.78L674.98,493.83L675.98,493.89L676.98,493.94L677.98,494.00L678.98,494.05L679.98,494.10L680.98,494.15L681.98,494.20L682.97,494.24L683.97,494.29L684.97,494.33L685.97,494.38L686.97,494.42L687.97,494.46L688.97,494.50L689.97,494.54L690.97,494.57L691.97,494.61L692.97,494.65L693.97,494.68L694.97,494.71L695.97,494.75L696.97,494.78L697.97,494.81L698.97,494.83L699.97,494.86L700.98,494.89L701.98,494.91L702.98,494.94L703.98,494.96L704.98,494.98L705.98,495.00L706.98,495.02L707.98,495.04L708.98,495.06L709.98,495.08L710.98,495.09L711.98,495.11L712.98,495.12L713.98,495.14L714.98,495.15L715.98,495.16L716.98,495.17L717.98,495.18L718.98,495.18L719.99,495.19L720.99,495.20L721.99,495.20L722.99,495.21L723.99,495.21L724.99,495.21L725.99,495.21L726.99,495.21L727.99,495.21L728.99,495.21L729.99,495.21L730.99,495.21L731.99,495.20L732.99,495.20L733.99,495.19L735.00,495.18L736.00,495.18L737.00,495.17L738.00,495.16L739.00,495.15L740.00,495.14L741.00,495.13L742.00,495.11L743.00,495.10L744.00,495.09" fill="none" stroke="#2a35a0" stroke-width="2.6" stroke-linecap="round" stroke-linejoin="round" clip-path="url(#clipa)"/>
<path d="M183.00,672.70L183.04,673.20L183.09,673.70L183.14,674.20L183.19,674.69L183.24,675.19L183.28,675.69L183.30,675.85M184.27,686.65L184.31,687.14L184.35,687.64L184.40,688.14L184.44,688.64L184.48,689.14L184.53,689.64L184.57,690.13L184.61,690.63L184.65,691.13L184.70,691.63L184.74,692.13L184.78,692.63L184.82,693.12L184.87,693.62L184.91,694.12L184.95,694.62L185.00,695.12L185.04,695.61L185.08,696.11L185.12,696.61L185.17,697.11L185.21,697.61L185.25,698.11L185.30,698.60L185.34,699.10L185.38,699.60L185.43,700.10L185.47,700.60L185.51,701.09L185.56,701.59L185.60,702.09L185.61,702.25M186.66,713.54L186.71,714.04L186.75,714.54L186.80,715.04L186.85,715.53L186.90,716.03L186.95,716.53L187.00,717.03L187.05,717.52L187.11,718.02L187.16,718.52L187.21,719.02L187.26,719.51L187.31,720.01L187.37,720.51L187.42,721.01L187.47,721.50L187.53,722.00L187.58,722.50L187.64,722.99L187.69,723.49L187.75,723.99L187.81,724.49L187.86,724.98L187.92,725.48L187.98,725.98L188.04,726.47L188.10,726.97L188.16,727.47L188.22,727.96M189.71,738.36L189.79,738.85L189.88,739.34L189.97,739.83L190.07,740.32L190.16,740.81L190.26,741.30L190.36,741.79L190.46,742.28L190.56,742.77L190.67,743.26L190.77,743.75L190.88,744.24L191.00,744.73L191.11,745.21L191.23,745.70L191.35,746.18L191.47,746.67L191.59,747.15L191.72,747.64L191.85,748.12L191.98,748.60L192.11,749.09L192.24,749.57L192.38,750.05L192.52,750.53L192.66,751.01L192.81,751.49L192.95,751.97L193.10,752.44L193.25,752.92L193.36,753.27M200.92,758.65L201.34,758.39L201.75,758.09L202.12,757.76L202.47,757.40L202.78,757.01L203.07,756.60L203.33,756.17L203.57,755.74L203.79,755.28L203.98,754.82L204.16,754.36L204.32,753.88L204.47,753.41L204.61,752.92L204.73,752.44L204.85,751.95L204.95,751.46L205.05,750.97L205.14,750.48L205.23,749.99L205.31,749.50L205.39,749.00L205.47,748.51L205.55,748.02L205.62,747.52L205.69,747.03L205.77,746.53L205.84,746.04L205.92,745.54L206.01,745.05L206.07,744.69M208.59,733.85L208.71,733.36L208.83,732.87L208.94,732.39L209.06,731.90L209.18,731.42L209.29,730.93L209.41,730.44L209.52,729.96L209.63,729.47L209.74,728.98L209.86,728.49L209.97,728.01L210.08,727.52L210.19,727.03L210.30,726.54L210.41,726.06L210.53,725.57L210.64,725.08L210.75,724.59L210.86,724.11L210.98,723.62L211.09,723.13L211.20,722.65L211.32,722.16L211.43,721.67L211.55,721.19L211.67,720.70L211.79,720.22L211.91,719.73L212.03,719.24L212.15,718.76L212.27,718.28L212.33,718.04M215.88,706.84L216.07,706.37L216.26,705.91L216.46,705.45L216.66,704.99L216.87,704.54L217.09,704.09L217.31,703.64L217.55,703.20L217.80,702.77L218.06,702.34L218.33,701.92L218.61,701.51L218.90,701.10L219.21,700.71L219.53,700.32L219.86,699.95L220.20,699.58L220.56,699.23L220.92,698.89L221.30,698.57L221.69,698.26L222.10,697.96L222.52,697.69L222.95,697.44L223.40,697.23L223.87,697.05L224.35,696.92L224.85,696.85L225.35,696.84L225.84,696.92L226.32,697.08L226.77,697.30L227.19,697.56L227.58,697.87L227.67,697.94M233.09,708.91L233.23,709.39L233.36,709.87L233.50,710.35L233.63,710.83L233.77,711.31L233.90,711.80L234.04,712.28L234.17,712.76L234.30,713.24L234.43,713.72L234.57,714.21L234.70,714.69L234.83,715.17L234.96,715.65L235.09,716.14L235.22,716.62L235.35,717.10L235.47,717.59L235.60,718.07L235.73,718.55L235.86,719.04L235.99,719.52L236.11,720.00L236.24,720.49L236.36,720.97L236.49,721.46L236.61,721.94L236.74,722.42L236.86,722.91L236.99,723.39L237.11,723.88L237.22,724.31M239.97,735.54L240.08,736.02L240.19,736.51L240.31,737.00L240.42,737.48L240.54,737.97L240.65,738.46L240.76,738.94L240.87,739.43L240.99,739.92L241.10,740.41L241.21,740.89L241.32,741.38L241.43,741.87L241.54,742.36L241.65,742.84L241.76,743.33L241.87,743.82L241.98,744.31L242.09,744.80L242.20,745.28L242.31,745.77L242.42,746.26L242.53,746.75L242.63,747.24L242.74,747.72L242.85,748.21L242.96,748.70L243.06,749.19L243.17,749.68L243.28,750.17L243.29,750.25M245.56,760.93L245.67,761.42L245.77,761.91L245.87,762.40L245.97,762.89L246.07,763.38L246.17,763.87L246.27,764.36L246.37,764.85L246.47,765.34L246.57,765.83L246.67,766.32L246.77,766.81L246.87,767.30L246.97,767.79L247.07,768.28L247.17,768.77L247.27,769.26L247.37,769.75L247.46,770.24L247.56,770.73L247.66,771.22L247.76,771.71L247.86,772.20L247.95,772.69L248.05,773.18L248.15,773.67L248.25,774.16L248.34,774.65L248.44,775.14L248.50,775.43M250.53,785.94L250.62,786.43L250.71,786.93L250.81,787.42L250.90,787.91L250.99,788.40L251.08,788.89L251.18,789.38L251.27,789.87L251.36,790.37L251.45,790.86L251.54,791.35L251.63,791.84L251.73,792.33L251.82,792.82L251.91,793.32L252.00,793.81L252.09,794.30L252.18,794.79L252.27,795.28L252.36,795.78L252.45,796.27L252.54,796.76L252.63,797.25L252.72,797.74L252.81,798.23L252.90,798.73L252.99,799.22L253.08,799.71L253.17,800.20L253.26,800.69L253.27,800.77M255.18,811.53L255.27,812.02L255.35,812.51L255.44,813.00L255.52,813.50L255.61,813.99L255.70,814.48L255.78,814.98L255.87,815.47L255.95,815.96L256.04,816.45L256.12,816.95L256.21,817.44L256.29,817.93L256.37,818.43L256.46,818.92L256.54,819.41L256.63,819.90L256.71,820.40L256.79,820.89L256.88,821.38L256.96,821.88L257.05,822.37L257.13,822.86L257.21,823.36L257.30,823.85L257.38,824.34L257.46,824.83L257.54,825.33L257.63,825.82L257.71,826.31L257.79,826.81L257.87,827.25M259.74,838.65L259.82,839.14L259.90,839.64L259.98,840.13L260.06,840.62L260.14,841.12L260.22,841.61L260.30,842.11L260.38,842.60L260.46,843.09L260.54,843.59L260.62,844.08L260.70,844.57L260.77,845.07L260.85,845.56L260.93,846.06L261.01,846.55L261.09,847.04L261.17,847.54L261.25,848.03L261.32,848.53L261.40,849.02L261.48,849.51L261.56,850.01L261.64,850.50L261.72,850.99L261.79,851.49L261.87,851.98L261.95,852.48L262.03,852.97L262.11,853.46L262.12,853.54M263.82,864.33L263.90,864.83L263.98,865.32L264.06,865.81L264.14,866.31L264.21,866.80L264.29,867.29L264.37,867.79L264.45,868.28L264.53,868.78L264.61,869.27L264.69,869.76L264.77,870.26L264.85,870.75L264.93,871.24L265.01,871.74L265.09,872.23L265.17,872.73L265.25,873.22L265.33,873.71L265.41,874.21L265.49,874.70L265.57,875.19L265.65,875.69L265.73,876.18L265.81,876.67L265.89,877.17L265.97,877.66L266.05,878.15L266.14,878.65L266.22,879.14L266.28,879.51M268.16,890.48L268.25,890.97L268.33,891.46L268.42,891.95L268.51,892.45L268.60,892.94L268.69,893.43L268.77,893.92L268.86,894.41L268.95,894.91L269.04,895.40L269.13,895.89L269.22,896.38L269.31,896.87L269.41,897.37L269.50,897.86L269.59,898.35L269.68,898.84L269.77,899.33L269.87,899.82L269.96,900.32L270.05,900.81L270.15,901.30L270.24,901.79L270.33,902.28L270.43,902.77L270.52,903.26L270.62,903.75L270.71,904.24L270.81,904.73L270.91,905.22L271.00,905.72L271.04,905.87M273.35,916.98L273.45,917.46L273.56,917.95L273.67,918.44L273.78,918.93L273.88,919.42L273.99,919.91L274.10,920.39L274.21,920.88L274.32,921.37L274.44,921.86L274.55,922.34L274.66,922.83L274.77,923.32L274.89,923.81L275.00,924.29L275.11,924.78L275.23,925.27L275.34,925.75L275.46,926.24L275.58,926.73L275.69,927.21L275.81,927.70L275.93,928.18L276.05,928.67L276.17,929.16L276.29,929.64L276.41,930.13L276.53,930.61L276.65,931.10L276.77,931.58L276.89,932.07L277.00,932.50M280.46,943.52L280.65,943.98L280.85,944.44L281.05,944.90L281.25,945.35L281.46,945.80L281.68,946.26L281.90,946.70L282.13,947.15L282.36,947.59L282.60,948.03L282.85,948.47L283.10,948.90L283.36,949.33L283.62,949.75L283.89,950.17L284.17,950.59L284.45,951.00L284.74,951.41L285.04,951.81L285.35,952.21L285.66,952.60L285.97,952.98L286.30,953.36L286.63,953.74L286.97,954.11L287.31,954.47L287.66,954.83L288.02,955.17L288.38,955.52L288.75,955.85L289.13,956.19L289.47,956.48M298.75,963.35L299.15,963.66L299.54,963.97L299.93,964.28L300.32,964.60L300.70,964.92L301.08,965.24L301.46,965.56L301.84,965.89L302.21,966.23L302.58,966.56L302.95,966.90L303.32,967.24L303.68,967.59L304.04,967.94L304.39,968.29L304.75,968.64L305.10,969.00L305.44,969.36L305.79,969.72L306.13,970.08L306.47,970.45L306.81,970.82L307.14,971.20L307.47,971.57L307.80,971.95L308.12,972.33L308.44,972.71L308.76,973.10L309.08,973.48L309.39,973.87L309.71,974.26L310.02,974.65L310.32,975.05L310.63,975.45L310.93,975.84L311.22,976.23M318.28,987.16L318.52,987.59L318.76,988.03L319.00,988.47L319.24,988.91L319.47,989.36L319.70,989.80L319.93,990.24L320.16,990.69L320.39,991.13L320.61,991.58L320.83,992.03L321.06,992.48L321.27,992.93L321.49,993.38L321.71,993.83L321.92,994.28L322.13,994.73L322.34,995.19L322.55,995.64L322.76,996.10L322.96,996.55L323.17,997.01L323.37,997.47L323.57,997.93L323.77,998.38L323.97,998.84L324.17,999.30L324.36,999.76L324.56,1000.22L324.75,1000.68L324.95,1001.14L325.14,1001.61L325.33,1002.07L325.34,1002.09M329.80,1013.21L329.99,1013.67L330.17,1014.13L330.36,1014.60L330.55,1015.06L330.74,1015.52L330.93,1015.99L331.12,1016.45L331.31,1016.91L331.50,1017.37L331.69,1017.83L331.89,1018.29L332.08,1018.75L332.28,1019.21L332.48,1019.67L332.68,1020.13L332.88,1020.59L333.08,1021.05L333.29,1021.50L333.49,1021.96L333.70,1022.41L333.91,1022.87L334.13,1023.32L334.34,1023.77L334.56,1024.22L334.78,1024.67L335.00,1025.12L335.22,1025.57L335.45,1026.01L335.68,1026.46L335.91,1026.90L336.14,1027.34L336.38,1027.78L336.62,1028.22L336.86,1028.66L337.06,1029.01M344.48,1039.15L344.83,1039.51L345.18,1039.86L345.54,1040.20L345.91,1040.55L346.28,1040.88L346.65,1041.22L347.03,1041.54L347.41,1041.87L347.80,1042.18L348.19,1042.50L348.58,1042.81L348.98,1043.11L349.38,1043.41L349.78,1043.71L350.18,1044.00L350.59,1044.29L351.01,1044.57L351.42,1044.85L351.84,1045.13L352.26,1045.40L352.68,1045.67L353.11,1045.93L353.53,1046.19L353.96,1046.44L354.40,1046.70L354.83,1046.94L355.27,1047.19L355.70,1047.43L356.14,1047.67L356.58,1047.90L357.03,1048.13L357.47,1048.36L357.69,1048.47M368.51,1053.05L368.98,1053.22L369.45,1053.39L369.92,1053.56L370.40,1053.72L370.87,1053.89L371.34,1054.05L371.81,1054.21L372.29,1054.37L372.76,1054.53L373.24,1054.69L373.71,1054.84L374.19,1055.00L374.66,1055.15L375.14,1055.30L375.62,1055.45L376.09,1055.60L376.57,1055.75L377.05,1055.90L377.53,1056.04L378.01,1056.19L378.49,1056.33L378.97,1056.48L379.45,1056.62L379.93,1056.76L380.41,1056.90L380.89,1057.03L381.21,1057.13M390.55,1059.60L391.04,1059.72L391.52,1059.84L392.01,1059.95L392.50,1060.07L392.98,1060.19L393.47,1060.31L393.95,1060.42L394.44,1060.54L394.93,1060.65L395.41,1060.77L395.90,1060.88L396.39,1061.00L396.88,1061.11L397.36,1061.22L397.85,1061.34L398.34,1061.45L398.82,1061.56L399.31,1061.67L399.80,1061.78L400.29,1061.90L400.77,1062.01L401.26,1062.12L401.75,1062.23L402.24,1062.34L402.72,1062.45L403.21,1062.56L403.70,1062.67L404.19,1062.78L404.68,1062.89L405.02,1062.97M415.51,1065.35L415.89,1065.44L416.38,1065.55L416.87,1065.67L417.35,1065.78L417.84,1065.90L418.33,1066.01L418.81,1066.13L419.30,1066.25L419.78,1066.36L420.27,1066.48L420.76,1066.60L421.24,1066.72L421.73,1066.84L422.21,1066.96L422.70,1067.08L423.18,1067.20L423.67,1067.32L424.15,1067.44L424.64,1067.56L425.12,1067.68L425.61,1067.80L426.09,1067.93L426.58,1068.05L427.06,1068.17L427.55,1068.29L428.03,1068.42L428.52,1068.54L429.00,1068.66L429.49,1068.79L429.94,1068.90M440.36,1071.59L440.62,1071.66L441.11,1071.78L441.59,1071.91L442.08,1072.03L442.56,1072.15L443.05,1072.28L443.53,1072.40L444.02,1072.52L444.50,1072.65L444.99,1072.77L445.47,1072.89L445.96,1073.01L446.44,1073.14L446.93,1073.26L447.41,1073.38L447.90,1073.50L448.38,1073.62L448.87,1073.74L449.35,1073.86L449.84,1073.98L450.32,1074.10L450.81,1074.22L451.30,1074.34L451.78,1074.45L452.27,1074.57L452.75,1074.69L453.24,1074.80L453.73,1074.92L454.21,1075.03L454.70,1075.15L454.77,1075.17M465.27,1077.52L465.44,1077.55L465.92,1077.65L466.41,1077.76L466.90,1077.86L467.39,1077.96L467.88,1078.07L468.37,1078.17L468.86,1078.27L469.35,1078.37L469.84,1078.47L470.33,1078.57L470.82,1078.67L471.31,1078.77L471.80,1078.87L472.29,1078.97L472.78,1079.07L473.27,1079.17L473.76,1079.26L474.25,1079.36L474.74,1079.46L475.23,1079.55L475.72,1079.65L476.22,1079.75L476.71,1079.84L477.20,1079.94L477.69,1080.03L478.18,1080.13L478.67,1080.22L479.16,1080.32L479.65,1080.41L479.84,1080.45M490.41,1082.41L490.47,1082.42L490.96,1082.51L491.45,1082.59L491.95,1082.68L492.44,1082.77L492.93,1082.86L493.42,1082.95L493.91,1083.04L494.41,1083.12L494.90,1083.21L495.39,1083.30L495.88,1083.39L496.38,1083.47L496.87,1083.56L497.36,1083.65L497.85,1083.73L498.35,1083.82L498.84,1083.91L499.33,1083.99L499.82,1084.08L500.32,1084.17L500.81,1084.25L501.30,1084.34L501.79,1084.43L502.29,1084.51L502.78,1084.60L503.27,1084.68L503.76,1084.77L504.26,1084.86L504.75,1084.94L505.04,1084.99M515.64,1086.85L516.08,1086.92L516.57,1087.01L517.06,1087.10L517.56,1087.19L518.05,1087.27L518.54,1087.36L519.03,1087.45L519.53,1087.53L520.02,1087.62L520.51,1087.71L521.00,1087.80L521.50,1087.89L521.99,1087.97L522.48,1088.06L522.97,1088.15L523.46,1088.24L523.96,1088.33L524.45,1088.42L524.94,1088.50L525.43,1088.59L525.92,1088.68L526.42,1088.77L526.91,1088.86L527.40,1088.95L527.89,1089.04L528.38,1089.13L528.88,1089.22L529.37,1089.31L529.86,1089.40L530.26,1089.47M540.85,1091.38L541.18,1091.44L541.67,1091.53L542.16,1091.61L542.66,1091.70L543.15,1091.79L543.64,1091.87L544.13,1091.96L544.63,1092.05L545.12,1092.13L545.61,1092.22L546.10,1092.30L546.60,1092.39L547.09,1092.47L547.58,1092.56L548.08,1092.64L548.57,1092.73L549.06,1092.81L549.56,1092.89L550.05,1092.98L550.54,1093.06L551.03,1093.14L551.53,1093.23L552.02,1093.31L552.51,1093.39L553.01,1093.47L553.50,1093.55L554.00,1093.63L554.49,1093.71L554.98,1093.79L555.48,1093.87L555.50,1093.87M566.14,1095.47L566.36,1095.50L566.85,1095.56L567.35,1095.63L567.84,1095.70L568.34,1095.76L568.83,1095.83L569.33,1095.89L569.83,1095.96L570.32,1096.02L570.82,1096.08L571.32,1096.14L571.81,1096.21L572.31,1096.27L572.80,1096.33L573.30,1096.39L573.80,1096.44L574.29,1096.50L574.79,1096.56L575.29,1096.61L575.78,1096.67L576.28,1096.73L576.78,1096.78L577.28,1096.83L577.77,1096.88L578.27,1096.94L578.77,1096.99L579.27,1097.04L579.76,1097.09L580.26,1097.13L580.76,1097.18L580.89,1097.19M591.62,1097.99L591.73,1098.00L592.23,1098.02L592.73,1098.05L593.23,1098.07L593.73,1098.09L594.23,1098.11L594.73,1098.14L595.23,1098.15L595.73,1098.17L596.23,1098.19L596.73,1098.21L597.23,1098.22L597.73,1098.23L598.23,1098.25L598.73,1098.26L599.23,1098.27L599.73,1098.28L600.23,1098.28L600.73,1098.29L601.23,1098.30L601.73,1098.30L602.23,1098.30L602.73,1098.30L603.23,1098.30L603.73,1098.30L604.23,1098.30L604.73,1098.30L605.23,1098.29L605.73,1098.29L606.23,1098.28L606.47,1098.27M617.21,1097.77L617.71,1097.73L618.21,1097.69L618.71,1097.65L619.21,1097.60L619.71,1097.56L620.20,1097.51L620.70,1097.46L621.20,1097.41L621.70,1097.36L622.19,1097.31L622.69,1097.25L623.19,1097.19L623.68,1097.14L624.18,1097.08L624.68,1097.02L625.17,1096.96L625.67,1096.89L626.16,1096.83L626.66,1096.76L627.16,1096.70L627.65,1096.63L628.15,1096.56L628.64,1096.49L629.14,1096.42L629.63,1096.34L630.13,1096.27L630.62,1096.19L631.11,1096.11L631.61,1096.04L631.61,1096.04M641.94,1094.16L642.43,1094.06L642.92,1093.96L643.41,1093.86L643.90,1093.76L644.39,1093.66L644.88,1093.55L645.37,1093.45L645.86,1093.35L646.35,1093.24L646.83,1093.14L647.32,1093.03L647.81,1092.92L648.30,1092.82L648.79,1092.71L649.28,1092.60L649.76,1092.49L650.25,1092.38L650.74,1092.27L651.23,1092.16L651.71,1092.05L652.20,1091.93L652.69,1091.82L653.18,1091.71L653.66,1091.60L654.15,1091.48L654.64,1091.37L655.12,1091.25L655.61,1091.14L656.10,1091.02L656.58,1090.91L657.07,1090.79L657.23,1090.75M668.24,1088.06L668.73,1087.94L669.21,1087.82L669.70,1087.70L670.18,1087.58L670.67,1087.46L671.16,1087.34L671.64,1087.22L672.13,1087.10L672.61,1086.98L673.10,1086.86L673.58,1086.74L674.07,1086.62L674.55,1086.50L675.04,1086.38L675.53,1086.27L676.01,1086.15L676.50,1086.03L676.98,1085.91L677.47,1085.79L677.96,1085.68L678.44,1085.56L678.93,1085.44L679.41,1085.33L679.90,1085.21L680.39,1085.09L680.87,1084.98L681.36,1084.86L681.85,1084.75L682.33,1084.63L682.82,1084.52L682.90,1084.50M693.56,1082.15L694.05,1082.05L694.54,1081.95L695.03,1081.86L695.53,1081.76L696.02,1081.66L696.51,1081.57L697.00,1081.47L697.49,1081.38L697.98,1081.28L698.47,1081.19L698.96,1081.10L699.46,1081.01L699.95,1080.92L700.44,1080.83L700.93,1080.75L701.42,1080.66L701.92,1080.57L702.41,1080.49L702.90,1080.41L703.40,1080.33L703.89,1080.24L704.38,1080.16L704.88,1080.08L705.37,1080.00L705.87,1079.93L706.36,1079.85L706.85,1079.77L707.35,1079.70L707.84,1079.62L708.13,1079.58M718.74,1078.13L719.24,1078.07L719.73,1078.00L720.23,1077.94L720.73,1077.88L721.22,1077.82L721.72,1077.75L722.21,1077.69L722.71,1077.63L723.21,1077.57L723.70,1077.51L724.20,1077.45L724.70,1077.38L725.19,1077.32L725.69,1077.26L726.18,1077.20L726.68,1077.14L727.18,1077.08L727.67,1077.01L728.17,1076.95L728.67,1076.89L729.16,1076.83L729.66,1076.77L730.15,1076.70L730.65,1076.64L731.15,1076.58L731.64,1076.52L732.14,1076.45L732.63,1076.39L733.13,1076.32L733.56,1076.27M744.27,1074.76L744.52,1074.73L745.01,1074.65L745.51,1074.57L746.00,1074.49" fill="none" stroke="#98989d" stroke-width="3.3" stroke-linecap="butt" stroke-linejoin="round" clip-path="url(#clipb)"/>
<path d="M168.90,672.70L168.92,673.70L168.94,674.70L168.95,675.70L168.97,676.70L168.99,677.70L169.01,678.70L169.03,679.70L169.04,680.71L169.06,681.71L169.08,682.71L169.09,683.71L169.11,684.71L169.13,685.71L169.15,686.71L169.16,687.71L169.18,688.71L169.20,689.71L169.21,690.71L169.23,691.71L169.25,692.71L169.26,693.71L169.28,694.71L169.29,695.71L169.31,696.72L169.33,697.72L169.34,698.72L169.36,699.72L169.38,700.72L169.39,701.72L169.41,702.72L169.43,703.72L169.44,704.72L169.46,705.72L169.47,706.72L169.49,707.72L169.51,708.72L169.52,709.72L169.54,710.72L169.56,711.73L169.57,712.73L169.59,713.73L169.61,714.73L169.63,715.73L169.64,716.73L169.66,717.73L169.68,718.73L169.70,719.73L169.71,720.73L169.73,721.73L169.75,722.73L169.77,723.73L169.79,724.73L169.81,725.73L169.82,726.74L169.84,727.74L169.86,728.74L169.88,729.74L169.90,730.74L169.92,731.74L169.94,732.74L169.96,733.74L169.98,734.74L170.00,735.74L170.02,736.74L170.04,737.74L170.07,738.74L170.09,739.74L170.11,740.74L170.13,741.74L170.15,742.74L170.18,743.74L170.20,744.75L170.22,745.75L170.25,746.75L170.27,747.75L170.29,748.75L170.32,749.75L170.34,750.75L170.37,751.75L170.39,752.75L170.42,753.75L170.45,754.75L170.47,755.75L170.50,756.75L170.53,757.75L170.56,758.75L170.58,759.75L170.61,760.75L170.64,761.75L170.67,762.75L170.70,763.75L170.73,764.75L170.76,765.75L170.79,766.75L170.82,767.76L170.86,768.76L170.89,769.76L170.92,770.76L170.95,771.76L170.99,772.76L171.02,773.76L171.06,774.76L171.09,775.76L171.13,776.76L171.16,777.76L171.20,778.76L171.24,779.76L171.28,780.76L171.32,781.76L171.35,782.76L171.39,783.76L171.43,784.76L171.47,785.76L171.52,786.76L171.56,787.76L171.60,788.76L171.64,789.76L171.69,790.76L171.73,791.76L171.77,792.76L171.82,793.76L171.87,794.76L171.91,795.76L171.96,796.76L172.01,797.76L172.05,798.75L172.10,799.75L172.15,800.75L172.20,801.75L172.25,802.75L172.31,803.75L172.36,804.75L172.41,805.75L172.47,806.75L172.52,807.75L172.58,808.75L172.63,809.75L172.69,810.75L172.74,811.75L172.80,812.75L172.86,813.75L172.92,814.74L172.98,815.74L173.04,816.74L173.10,817.74L173.17,818.74L173.23,819.74L173.29,820.74L173.36,821.74L173.42,822.73L173.49,823.73L173.56,824.73L173.63,825.73L173.70,826.73L173.77,827.73L173.84,828.73L173.91,829.72L173.98,830.72L174.05,831.72L174.13,832.72L174.20,833.72L174.28,834.71L174.35,835.71L174.43,836.71L174.51,837.71L174.59,838.70L174.67,839.70L174.75,840.70L174.83,841.70L174.91,842.69L175.00,843.69L175.08,844.69L175.17,845.69L175.25,846.68L175.34,847.68L175.43,848.68L175.51,849.67L175.60,850.67L175.69,851.67L175.79,852.66L175.88,853.66L175.97,854.66L176.07,855.65L176.16,856.65L176.26,857.65L176.35,858.64L176.45,859.64L176.55,860.63L176.65,861.63L176.75,862.63L176.85,863.62L176.95,864.62L177.06,865.61L177.16,866.61L177.27,867.60L177.37,868.60L177.48,869.59L177.59,870.59L177.70,871.58L177.81,872.58L177.92,873.57L178.03,874.57L178.14,875.56L178.26,876.56L178.37,877.55L178.49,878.54L178.60,879.54L178.72,880.53L178.84,881.53L178.96,882.52L179.08,883.51L179.20,884.51L179.33,885.50L179.45,886.49L179.57,887.49L179.70,888.48L179.83,889.47L179.95,890.46L180.08,891.46L180.21,892.45L180.34,893.44L180.48,894.43L180.61,895.42L180.75,896.42L180.89,897.41L181.04,898.40L181.19,899.39L181.35,900.37L181.51,901.36L181.68,902.35L181.86,903.33L182.05,904.31L182.25,905.29L182.46,906.27L182.69,907.25L182.92,908.22L183.17,909.19L183.43,910.16L183.70,911.12L183.99,912.08L184.30,913.03L184.62,913.98L184.96,914.92L185.32,915.85L185.70,916.78L186.09,917.70L186.50,918.61L186.93,919.52L187.40,920.40L187.89,921.27L188.43,922.12L189.01,922.93L189.63,923.71L190.31,924.45L191.03,925.15L191.80,925.79L192.62,926.35L193.52,926.79L194.49,927.01L195.46,926.82L196.28,926.25L196.93,925.49L197.46,924.64L197.93,923.76L198.34,922.85L198.73,921.92L199.10,921.00L199.46,920.06L199.81,919.12L200.15,918.18L200.47,917.23L200.78,916.28L201.08,915.33L201.37,914.37L201.64,913.40L201.90,912.44L202.16,911.47L202.40,910.50L202.63,909.53L202.85,908.55L203.07,907.57L203.28,906.59L203.48,905.61L203.68,904.63L203.87,903.65L204.06,902.67L204.25,901.69L204.44,900.70L204.63,899.72L204.82,898.74L205.01,897.76L205.21,896.77L205.41,895.79L205.62,894.82L205.82,893.84L206.03,892.86L206.25,891.88L206.46,890.90L206.68,889.93L206.90,888.95L207.12,887.97L207.33,887.00L207.55,886.02L207.77,885.04L207.99,884.07L208.21,883.09L208.42,882.11L208.64,881.13L208.85,880.16L209.06,879.18L209.27,878.20L209.47,877.22L209.67,876.24L209.87,875.26L210.06,874.27L210.25,873.29L210.44,872.31L210.62,871.32L210.79,870.34L210.96,869.35L211.12,868.36L211.28,867.38L211.43,866.39L211.59,865.40L211.76,864.41L211.94,863.43L212.13,862.45L212.35,861.47L212.58,860.50L212.84,859.53L213.13,858.57L213.46,857.63L213.82,856.69L214.21,855.77L214.64,854.87L215.11,853.98L215.62,853.12L216.16,852.28L216.74,851.46L217.35,850.67L218.00,849.91L218.68,849.18L219.40,848.48L220.17,847.84L220.99,847.27L221.87,846.80L222.82,846.49L223.82,846.40L224.79,846.61L225.68,847.07L226.47,847.68L227.18,848.39L227.82,849.15L228.41,849.96L228.97,850.79L229.49,851.65L229.99,852.51L230.47,853.39L230.94,854.27L231.40,855.17L231.84,856.06L232.26,856.97L232.67,857.88L233.07,858.80L233.46,859.72L233.83,860.65L234.18,861.59L234.53,862.53L234.86,863.47L235.18,864.42L235.50,865.37L235.80,866.32L236.11,867.28L236.40,868.23L236.70,869.19L236.99,870.15L237.28,871.10L237.57,872.06L237.86,873.02L238.15,873.98L238.44,874.94L238.72,875.90L239.01,876.85L239.29,877.81L239.57,878.78L239.85,879.74L240.13,880.70L240.40,881.66L240.68,882.62L240.95,883.59L241.22,884.55L241.49,885.51L241.75,886.48L242.02,887.44L242.28,888.41L242.54,889.38L242.80,890.34L243.05,891.31L243.31,892.28L243.56,893.25L243.81,894.22L244.06,895.19L244.31,896.15L244.55,897.12L244.80,898.10L245.04,899.07L245.28,900.04L245.52,901.01L245.76,901.98L246.00,902.95L246.23,903.93L246.46,904.90L246.70,905.87L246.93,906.85L247.16,907.82L247.39,908.80L247.61,909.77L247.84,910.75L248.07,911.72L248.29,912.70L248.51,913.67L248.73,914.65L248.96,915.62L249.18,916.60L249.39,917.58L249.61,918.55L249.83,919.53L250.05,920.51L250.26,921.48L250.48,922.46L250.69,923.44L250.91,924.42L251.12,925.39L251.33,926.37L251.55,927.35L251.76,928.33L251.97,929.31L252.18,930.28L252.40,931.26L252.61,932.24L252.82,933.22L253.03,934.20L253.24,935.17L253.45,936.15L253.67,937.13L253.88,938.11L254.09,939.09L254.30,940.06L254.52,941.04L254.73,942.02L254.94,943.00L255.16,943.98L255.38,944.95L255.59,945.93L255.81,946.91L256.03,947.88L256.24,948.86L256.46,949.84L256.68,950.81L256.91,951.79L257.13,952.76L257.35,953.74L257.58,954.72L257.80,955.69L258.03,956.66L258.26,957.64L258.49,958.61L258.72,959.59L258.95,960.56L259.19,961.53L259.43,962.51L259.66,963.48L259.90,964.45L260.15,965.42L260.39,966.39L260.63,967.36L260.88,968.33L261.13,969.30L261.38,970.27L261.64,971.24L261.89,972.20L262.15,973.17L262.41,974.14L262.68,975.10L262.94,976.07L263.21,977.03L263.48,978.00L263.75,978.96L264.03,979.92L264.30,980.88L264.59,981.84L264.87,982.80L265.16,983.76L265.44,984.72L265.74,985.68L266.03,986.63L266.33,987.59L266.63,988.54L266.94,989.50L267.24,990.45L267.56,991.40L267.87,992.35L268.19,993.30L268.52,994.24L268.86,995.19L269.20,996.13L269.55,997.06L269.90,998.00L270.27,998.93L270.64,999.86L271.03,1000.78L271.43,1001.70L271.83,1002.62L272.25,1003.52L272.68,1004.43L273.13,1005.32L273.58,1006.21L274.06,1007.10L274.54,1007.97L275.04,1008.84L275.56,1009.69L276.09,1010.54L276.64,1011.38L277.21,1012.21L277.79,1013.02L278.39,1013.82L279.00,1014.61L279.63,1015.39L280.29,1016.15L280.97,1016.88L281.69,1017.57L282.46,1018.21L283.28,1018.78L284.17,1019.25L285.11,1019.59L286.08,1019.79L287.08,1019.88L288.08,1019.88L289.08,1019.82L290.07,1019.72L291.07,1019.59L292.06,1019.44L293.05,1019.30L294.04,1019.17L295.04,1019.07L296.04,1019.01L297.04,1019.00L298.04,1019.05L299.03,1019.14L300.02,1019.30L301.00,1019.51L301.96,1019.77L302.91,1020.08L303.85,1020.45L304.76,1020.86L305.64,1021.32L306.51,1021.83L307.35,1022.37L308.17,1022.95L308.96,1023.56L309.72,1024.21L310.46,1024.88L311.18,1025.58L311.87,1026.30L312.55,1027.04L313.20,1027.80L313.83,1028.58L314.44,1029.37L315.03,1030.18L315.60,1031.00L316.16,1031.83L316.70,1032.67L317.23,1033.52L317.74,1034.38L318.24,1035.25L318.72,1036.13L319.19,1037.01L319.65,1037.90L320.10,1038.79L320.54,1039.69L320.97,1040.60L321.39,1041.50L321.81,1042.42L322.21,1043.33L322.60,1044.25L322.98,1045.18L323.36,1046.11L323.73,1047.04L324.09,1047.97L324.45,1048.90L324.80,1049.84L325.14,1050.78L325.49,1051.72L325.83,1052.66L326.17,1053.60L326.50,1054.55L326.84,1055.49L327.17,1056.43L327.51,1057.37L327.85,1058.32L328.19,1059.26L328.54,1060.19L328.91,1061.12L329.28,1062.05L329.67,1062.97L330.08,1063.89L330.50,1064.80L330.95,1065.69L331.42,1066.58L331.92,1067.44L332.44,1068.29L333.01,1069.12L333.61,1069.92L334.25,1070.69L334.93,1071.42L335.65,1072.12L336.40,1072.78L337.18,1073.41L337.99,1073.99L338.84,1074.53L339.70,1075.03L340.59,1075.49L341.50,1075.91L342.42,1076.29L343.36,1076.64L344.32,1076.94L345.28,1077.22L346.25,1077.46L347.23,1077.67L348.21,1077.85L349.20,1078.00L350.20,1078.12L351.19,1078.22L352.19,1078.30L353.19,1078.35L354.19,1078.38L355.19,1078.40L356.19,1078.39L357.19,1078.37L358.19,1078.33L359.19,1078.28L360.19,1078.21L361.19,1078.13L362.18,1078.03L363.18,1077.92L364.17,1077.80L365.16,1077.66L366.15,1077.52L367.14,1077.36L368.13,1077.18L369.11,1077.00L370.09,1076.81L371.07,1076.61L372.05,1076.39L373.03,1076.17L374.00,1075.94L374.97,1075.70L375.94,1075.45L376.91,1075.20L377.87,1074.93L378.84,1074.66L379.80,1074.39L380.76,1074.11L381.72,1073.82L382.68,1073.52L383.63,1073.23L384.58,1072.92L385.54,1072.62L386.49,1072.30L387.44,1071.99L388.39,1071.67L389.33,1071.35L390.28,1071.03L391.23,1070.70L392.17,1070.38L393.12,1070.05L394.07,1069.72L395.01,1069.39L395.95,1069.06L396.90,1068.73L397.84,1068.40L398.79,1068.07L399.73,1067.74L400.68,1067.41L401.63,1067.09L402.57,1066.76L403.52,1066.44L404.47,1066.12L405.42,1065.81L406.37,1065.49L407.32,1065.19L408.28,1064.88L409.23,1064.58L410.19,1064.29L411.14,1064.00L412.10,1063.71L413.07,1063.44L414.03,1063.16L414.99,1062.90L415.96,1062.64L416.93,1062.39L417.90,1062.15L418.87,1061.92L419.85,1061.69L420.83,1061.47L421.81,1061.27L422.79,1061.07L423.77,1060.89L424.76,1060.71L425.74,1060.55L426.73,1060.40L427.72,1060.26L428.72,1060.13L429.71,1060.02L430.71,1059.92L431.70,1059.84L432.70,1059.76L433.70,1059.70L434.70,1059.66L435.70,1059.62L436.70,1059.60L437.70,1059.59L438.70,1059.60L439.70,1059.61L440.71,1059.63L441.71,1059.67L442.71,1059.71L443.70,1059.77L444.70,1059.83L445.70,1059.91L446.70,1059.99L447.70,1060.08L448.69,1060.18L449.69,1060.29L450.68,1060.40L451.67,1060.52L452.67,1060.65L453.66,1060.79L454.65,1060.93L455.64,1061.08L456.63,1061.23L457.61,1061.39L458.60,1061.56L459.59,1061.73L460.57,1061.90L461.56,1062.08L462.54,1062.27L463.53,1062.45L464.51,1062.64L465.49,1062.84L466.47,1063.04L467.45,1063.24L468.43,1063.44L469.41,1063.65L470.39,1063.85L471.37,1064.06L472.35,1064.28L473.32,1064.49L474.30,1064.71L475.28,1064.92L476.25,1065.14L477.23,1065.37L478.20,1065.59L479.18,1065.82L480.15,1066.05L481.13,1066.28L482.10,1066.52L483.07,1066.75L484.04,1066.99L485.01,1067.24L485.98,1067.48L486.95,1067.73L487.92,1067.98L488.89,1068.24L489.86,1068.50L490.82,1068.76L491.79,1069.02L492.75,1069.29L493.72,1069.56L494.68,1069.84L495.64,1070.11L496.60,1070.39L497.56,1070.68L498.52,1070.97L499.48,1071.26L500.43,1071.55L501.39,1071.85L502.34,1072.15L503.29,1072.46L504.25,1072.77L505.20,1073.08L506.15,1073.40L507.09,1073.72L508.04,1074.05L508.99,1074.38L509.93,1074.71L510.87,1075.05L511.81,1075.39L512.75,1075.73L513.69,1076.08L514.63,1076.43L515.56,1076.78L516.50,1077.14L517.43,1077.50L518.37,1077.86L519.30,1078.23L520.23,1078.60L521.16,1078.97L522.09,1079.34L523.02,1079.71L523.94,1080.09L524.87,1080.46L525.80,1080.84L526.72,1081.22L527.65,1081.60L528.57,1081.99L529.50,1082.37L530.42,1082.76L531.34,1083.14L532.27,1083.53L533.19,1083.91L534.11,1084.30L535.04,1084.69L535.96,1085.07L536.88,1085.46L537.81,1085.85L538.73,1086.23L539.65,1086.62L540.58,1087.00L541.50,1087.39L542.42,1087.77L543.35,1088.15L544.27,1088.54L545.20,1088.92L546.13,1089.29L547.05,1089.67L547.98,1090.05L548.91,1090.42L549.84,1090.79L550.77,1091.16L551.70,1091.53L552.63,1091.90L553.56,1092.26L554.50,1092.62L555.43,1092.98L556.37,1093.33L557.30,1093.69L558.24,1094.04L559.18,1094.38L560.12,1094.72L561.06,1095.06L562.01,1095.40L562.95,1095.73L563.90,1096.05L564.84,1096.38L565.79,1096.70L566.74,1097.01L567.70,1097.32L568.65,1097.62L569.60,1097.92L570.56,1098.22L571.52,1098.51L572.48,1098.79L573.44,1099.07L574.40,1099.34L575.37,1099.60L576.33,1099.86L577.30,1100.12L578.27,1100.36L579.24,1100.61L580.22,1100.84L581.19,1101.07L582.17,1101.29L583.15,1101.50L584.12,1101.70L585.11,1101.90L586.09,1102.10L587.07,1102.28L588.06,1102.46L589.04,1102.63L590.03,1102.80L591.02,1102.96L592.01,1103.11L592.99,1103.26L593.99,1103.40L594.98,1103.54L595.97,1103.67L596.96,1103.79L597.96,1103.91L598.95,1104.02L599.95,1104.12L600.94,1104.22L601.94,1104.31L602.94,1104.40L603.93,1104.48L604.93,1104.56L605.93,1104.63L606.93,1104.70L607.93,1104.76L608.93,1104.81L609.93,1104.86L610.93,1104.91L611.93,1104.95L612.93,1104.98L613.93,1105.01L614.93,1105.04L615.93,1105.06L616.93,1105.07L617.93,1105.08L618.93,1105.09L619.93,1105.09L620.93,1105.09L621.93,1105.08L622.93,1105.07L623.93,1105.06L624.93,1105.04L625.93,1105.01L626.94,1104.98L627.94,1104.95L628.94,1104.92L629.94,1104.88L630.94,1104.84L631.94,1104.79L632.93,1104.74L633.93,1104.68L634.93,1104.63L635.93,1104.57L636.93,1104.50L637.93,1104.44L638.93,1104.37L639.93,1104.29L640.92,1104.21L641.92,1104.14L642.92,1104.05L643.92,1103.97L644.91,1103.88L645.91,1103.79L646.91,1103.69L647.90,1103.60L648.90,1103.50L649.89,1103.40L650.89,1103.29L651.88,1103.19L652.88,1103.08L653.87,1102.97L654.87,1102.85L655.86,1102.74L656.86,1102.62L657.85,1102.50L658.84,1102.38L659.84,1102.26L660.83,1102.13L661.82,1102.01L662.81,1101.88L663.81,1101.75L664.80,1101.62L665.79,1101.48L666.78,1101.35L667.77,1101.21L668.77,1101.08L669.76,1100.94L670.75,1100.80L671.74,1100.66L672.73,1100.51L673.72,1100.37L674.71,1100.23L675.70,1100.08L676.69,1099.93L677.68,1099.79L678.67,1099.64L679.66,1099.49L680.65,1099.34L681.64,1099.19L682.63,1099.04L683.62,1098.89L684.61,1098.74L685.60,1098.59L686.58,1098.44L687.57,1098.28L688.56,1098.13L689.55,1097.98L690.54,1097.82L691.53,1097.67L692.52,1097.52L693.51,1097.36L694.50,1097.21L695.49,1097.05L696.47,1096.90L697.46,1096.74L698.45,1096.59L699.44,1096.44L700.43,1096.28L701.42,1096.13L702.41,1095.97L703.40,1095.82L704.38,1095.66L705.37,1095.51L706.36,1095.36L707.35,1095.20L708.34,1095.05L709.33,1094.90L710.32,1094.75L711.31,1094.59L712.30,1094.44L713.29,1094.29L714.28,1094.14L715.27,1093.99L716.26,1093.84L717.25,1093.70L718.24,1093.55L719.22,1093.40L720.22,1093.26L721.21,1093.11L722.20,1092.97L723.19,1092.82L724.18,1092.68L725.17,1092.54L726.16,1092.40L727.15,1092.26L728.14,1092.12L729.13,1091.98L730.12,1091.84L731.11,1091.71L732.11,1091.57L733.10,1091.44L734.09,1091.31L735.08,1091.17L736.07,1091.04L737.07,1090.92L738.06,1090.79L739.05,1090.66L740.05,1090.54L741.04,1090.42L742.03,1090.29L743.03,1090.17L744.02,1090.05L745.01,1089.94L746.01,1089.82" fill="none" stroke="#b08f2a" stroke-width="3.3" stroke-linecap="butt" stroke-linejoin="round" stroke-dasharray="4.3 2.2" clip-path="url(#clipb)"/>
<path d="M171.60,672.70L171.63,673.70L171.66,674.70L171.70,675.70L171.73,676.70L171.76,677.70L171.79,678.70L171.82,679.70L171.85,680.70L171.89,681.70L171.92,682.70L171.95,683.70L171.98,684.70L172.01,685.70L172.04,686.70L172.08,687.70L172.11,688.70L172.14,689.70L172.17,690.70L172.20,691.70L172.23,692.70L172.26,693.70L172.30,694.70L172.33,695.70L172.36,696.70L172.39,697.70L172.42,698.70L172.46,699.69L172.49,700.69L172.52,701.69L172.55,702.69L172.59,703.69L172.62,704.69L172.65,705.69L172.68,706.69L172.72,707.69L172.75,708.69L172.78,709.69L172.82,710.69L172.85,711.69L172.89,712.69L172.92,713.69L172.96,714.69L172.99,715.69L173.03,716.69L173.06,717.69L173.10,718.69L173.13,719.69L173.17,720.69L173.21,721.69L173.24,722.69L173.28,723.69L173.32,724.69L173.35,725.69L173.39,726.69L173.43,727.69L173.47,728.69L173.51,729.69L173.55,730.69L173.59,731.68L173.63,732.68L173.67,733.68L173.71,734.68L173.75,735.68L173.79,736.68L173.84,737.68L173.88,738.68L173.92,739.68L173.97,740.68L174.01,741.68L174.06,742.68L174.10,743.68L174.15,744.68L174.19,745.68L174.24,746.68L174.29,747.67L174.33,748.67L174.38,749.67L174.43,750.67L174.48,751.67L174.53,752.67L174.58,753.67L174.63,754.67L174.68,755.67L174.74,756.67L174.79,757.66L174.84,758.66L174.90,759.66L174.95,760.66L175.01,761.66L175.06,762.66L175.12,763.66L175.18,764.66L175.24,765.65L175.29,766.65L175.35,767.65L175.41,768.65L175.47,769.65L175.54,770.65L175.60,771.65L175.66,772.64L175.73,773.64L175.79,774.64L175.86,775.64L175.92,776.64L175.99,777.63L176.06,778.63L176.13,779.63L176.19,780.63L176.26,781.63L176.34,782.62L176.41,783.62L176.48,784.62L176.55,785.62L176.62,786.61L176.70,787.61L176.77,788.61L176.85,789.61L176.93,790.60L177.00,791.60L177.08,792.60L177.16,793.60L177.24,794.59L177.32,795.59L177.39,796.59L177.48,797.59L177.56,798.58L177.64,799.58L177.72,800.58L177.80,801.57L177.89,802.57L177.97,803.57L178.05,804.56L178.14,805.56L178.22,806.56L178.31,807.55L178.40,808.55L178.48,809.55L178.57,810.54L178.66,811.54L178.75,812.54L178.83,813.53L178.92,814.53L179.01,815.52L179.10,816.52L179.19,817.52L179.28,818.51L179.37,819.51L179.47,820.51L179.56,821.50L179.65,822.50L179.74,823.49L179.83,824.49L179.93,825.49L180.02,826.48L180.11,827.48L180.21,828.47L180.30,829.47L180.40,830.47L180.49,831.46L180.59,832.46L180.68,833.45L180.78,834.45L180.88,835.44L180.97,836.44L181.07,837.44L181.16,838.43L181.26,839.43L181.36,840.42L181.46,841.42L181.55,842.41L181.65,843.41L181.75,844.40L181.85,845.40L181.94,846.40L182.04,847.39L182.14,848.39L182.24,849.38L182.34,850.38L182.44,851.37L182.54,852.37L182.63,853.36L182.73,854.36L182.83,855.35L182.93,856.35L183.03,857.34L183.13,858.34L183.23,859.34L183.33,860.33L183.43,861.33L183.53,862.32L183.63,863.32L183.73,864.31L183.83,865.31L183.92,866.30L184.02,867.30L184.12,868.29L184.22,869.29L184.33,870.28L184.43,871.28L184.53,872.27L184.64,873.27L184.75,874.26L184.86,875.26L184.98,876.25L185.10,877.24L185.22,878.24L185.35,879.23L185.48,880.22L185.61,881.21L185.76,882.20L185.90,883.19L186.06,884.18L186.22,885.17L186.39,886.15L186.56,887.14L186.74,888.12L186.94,889.10L187.13,890.08L187.34,891.06L187.56,892.04L187.79,893.01L188.03,893.98L188.28,894.95L188.55,895.91L188.83,896.88L189.12,897.83L189.43,898.78L189.75,899.73L190.08,900.67L190.43,901.61L190.78,902.55L191.15,903.48L191.54,904.40L191.97,905.30L192.44,906.19L192.98,907.03L193.64,907.77L194.49,908.29L195.48,908.28L196.37,907.84L197.14,907.20L197.83,906.48L198.46,905.70L199.05,904.90L199.61,904.07L200.14,903.22L200.64,902.35L201.12,901.47L201.56,900.58L201.98,899.67L202.38,898.75L202.74,897.82L203.09,896.88L203.42,895.94L203.73,894.98L204.02,894.03L204.30,893.07L204.57,892.11L204.83,891.14L205.08,890.17L205.32,889.20L205.55,888.23L205.78,887.25L206.00,886.28L206.23,885.30L206.45,884.33L206.67,883.35L206.89,882.38L207.12,881.40L207.36,880.43L207.60,879.46L207.86,878.49L208.12,877.53L208.39,876.57L208.68,875.61L208.98,874.65L209.29,873.70L209.62,872.76L209.96,871.82L210.31,870.88L210.68,869.95L211.07,869.03L211.47,868.11L211.88,867.20L212.31,866.30L212.75,865.40L213.21,864.51L213.68,863.63L214.17,862.76L214.69,861.90L215.23,861.06L215.80,860.24L216.42,859.45L217.09,858.71L217.83,858.04L218.67,857.49L219.61,857.18L220.60,857.26L221.50,857.69L222.28,858.32L222.97,859.05L223.59,859.83L224.16,860.65L224.70,861.49L225.21,862.35L225.70,863.22L226.18,864.10L226.65,864.99L227.11,865.87L227.57,866.76L228.03,867.65L228.48,868.54L228.94,869.43L229.39,870.33L229.83,871.22L230.28,872.12L230.72,873.02L231.15,873.92L231.59,874.82L232.02,875.72L232.45,876.63L232.87,877.53L233.29,878.44L233.71,879.35L234.12,880.26L234.53,881.17L234.93,882.09L235.33,883.00L235.73,883.92L236.12,884.84L236.51,885.76L236.90,886.69L237.28,887.61L237.66,888.54L238.03,889.47L238.40,890.39L238.77,891.33L239.13,892.26L239.49,893.19L239.85,894.13L240.20,895.06L240.55,896.00L240.90,896.94L241.24,897.88L241.58,898.82L241.92,899.76L242.25,900.70L242.59,901.64L242.92,902.59L243.25,903.53L243.57,904.48L243.90,905.43L244.22,906.37L244.54,907.32L244.85,908.27L245.17,909.22L245.48,910.17L245.80,911.12L246.11,912.07L246.42,913.02L246.72,913.97L247.03,914.92L247.33,915.88L247.64,916.83L247.94,917.78L248.24,918.74L248.54,919.69L248.84,920.65L249.14,921.60L249.43,922.56L249.73,923.51L250.02,924.47L250.32,925.42L250.61,926.38L250.91,927.34L251.20,928.29L251.49,929.25L251.78,930.21L252.07,931.16L252.37,932.12L252.66,933.08L252.95,934.03L253.24,934.99L253.53,935.95L253.82,936.91L254.11,937.86L254.40,938.82L254.69,939.78L254.99,940.73L255.28,941.69L255.57,942.65L255.86,943.60L256.16,944.56L256.45,945.52L256.74,946.47L257.04,947.43L257.34,948.38L257.63,949.34L257.93,950.29L258.23,951.25L258.53,952.20L258.83,953.16L259.13,954.11L259.43,955.06L259.74,956.02L260.04,956.97L260.35,957.92L260.66,958.87L260.96,959.83L261.28,960.78L261.59,961.73L261.90,962.68L262.22,963.63L262.54,964.57L262.85,965.52L263.18,966.47L263.50,967.42L263.82,968.36L264.15,969.31L264.48,970.25L264.81,971.19L265.15,972.14L265.48,973.08L265.82,974.02L266.17,974.96L266.51,975.90L266.86,976.84L267.21,977.77L267.57,978.71L267.94,979.64L268.31,980.57L268.69,981.49L269.08,982.41L269.48,983.33L269.90,984.24L270.32,985.14L270.76,986.04L271.21,986.93L271.68,987.82L272.17,988.69L272.67,989.56L273.19,990.41L273.72,991.26L274.28,992.09L274.85,992.91L275.44,993.72L276.06,994.51L276.69,995.28L277.34,996.04L278.01,996.78L278.70,997.51L279.41,998.21L280.14,998.90L280.89,999.56L281.66,1000.20L282.45,1000.81L283.28,1001.38L284.12,1001.91L285.00,1002.39L285.91,1002.81L286.84,1003.17L287.80,1003.46L288.78,1003.66L289.77,1003.78L290.77,1003.83L291.77,1003.83L292.77,1003.79L293.77,1003.74L294.77,1003.68L295.77,1003.65L296.77,1003.65L297.76,1003.71L298.76,1003.84L299.73,1004.07L300.68,1004.38L301.60,1004.78L302.48,1005.24L303.33,1005.77L304.15,1006.34L304.94,1006.96L305.69,1007.62L306.42,1008.31L307.12,1009.02L307.80,1009.75L308.46,1010.51L309.10,1011.27L309.73,1012.05L310.34,1012.84L310.95,1013.64L311.54,1014.44L312.14,1015.25L312.73,1016.06L313.32,1016.86L313.91,1017.67L314.50,1018.48L315.09,1019.28L315.68,1020.09L316.26,1020.90L316.84,1021.72L317.41,1022.54L317.97,1023.37L318.52,1024.21L319.06,1025.05L319.58,1025.91L320.08,1026.77L320.58,1027.64L321.06,1028.52L321.52,1029.40L321.98,1030.29L322.43,1031.18L322.87,1032.08L323.31,1032.98L323.74,1033.88L324.17,1034.79L324.59,1035.70L325.01,1036.60L325.43,1037.51L325.85,1038.42L326.26,1039.33L326.68,1040.24L327.11,1041.14L327.53,1042.05L327.96,1042.95L328.39,1043.86L328.83,1044.76L329.27,1045.65L329.72,1046.55L330.18,1047.44L330.64,1048.32L331.12,1049.20L331.60,1050.08L332.10,1050.94L332.61,1051.81L333.13,1052.66L333.67,1053.50L334.22,1054.34L334.79,1055.16L335.37,1055.97L335.97,1056.77L336.60,1057.55L337.24,1058.32L337.91,1059.07L338.59,1059.79L339.30,1060.50L340.04,1061.18L340.79,1061.83L341.57,1062.46L342.37,1063.06L343.19,1063.64L344.02,1064.19L344.88,1064.71L345.74,1065.21L346.62,1065.69L347.52,1066.14L348.42,1066.57L349.33,1066.97L350.26,1067.36L351.19,1067.73L352.12,1068.07L353.07,1068.40L354.02,1068.72L354.97,1069.01L355.93,1069.30L356.90,1069.56L357.87,1069.82L358.84,1070.06L359.81,1070.29L360.78,1070.51L361.76,1070.73L362.74,1070.93L363.72,1071.13L364.70,1071.32L365.69,1071.50L366.67,1071.68L367.66,1071.85L368.64,1072.02L369.63,1072.19L370.62,1072.35L371.60,1072.51L372.59,1072.68L373.58,1072.84L374.56,1073.00L375.55,1073.16L376.54,1073.31L377.53,1073.47L378.52,1073.63L379.50,1073.78L380.49,1073.94L381.48,1074.09L382.47,1074.24L383.46,1074.39L384.45,1074.54L385.44,1074.69L386.43,1074.84L387.42,1074.99L388.40,1075.13L389.39,1075.28L390.38,1075.42L391.37,1075.57L392.36,1075.71L393.35,1075.85L394.34,1075.99L395.34,1076.13L396.33,1076.27L397.32,1076.41L398.31,1076.55L399.30,1076.68L400.29,1076.82L401.28,1076.96L402.27,1077.09L403.26,1077.23L404.25,1077.36L405.25,1077.49L406.24,1077.62L407.23,1077.75L408.22,1077.88L409.21,1078.01L410.20,1078.14L411.20,1078.27L412.19,1078.40L413.18,1078.53L414.17,1078.65L415.17,1078.78L416.16,1078.91L417.15,1079.03L418.14,1079.16L419.14,1079.28L420.13,1079.40L421.12,1079.53L422.11,1079.65L423.11,1079.77L424.10,1079.89L425.09,1080.01L426.08,1080.14L427.08,1080.26L428.07,1080.38L429.06,1080.50L430.06,1080.61L431.05,1080.73L432.04,1080.85L433.04,1080.97L434.03,1081.09L435.02,1081.21L436.02,1081.32L437.01,1081.44L438.00,1081.56L439.00,1081.67L439.99,1081.79L440.98,1081.90L441.98,1082.02L442.97,1082.14L443.97,1082.25L444.96,1082.37L445.95,1082.48L446.95,1082.60L447.94,1082.71L448.93,1082.83L449.93,1082.94L450.92,1083.06L451.92,1083.17L452.91,1083.28L453.90,1083.40L454.90,1083.51L455.89,1083.63L456.88,1083.74L457.88,1083.86L458.87,1083.97L459.87,1084.09L460.86,1084.20L461.85,1084.31L462.85,1084.43L463.84,1084.54L464.83,1084.66L465.83,1084.77L466.82,1084.89L467.81,1085.00L468.81,1085.12L469.80,1085.24L470.80,1085.35L471.79,1085.47L472.78,1085.58L473.78,1085.70L474.77,1085.82L475.76,1085.93L476.76,1086.05L477.75,1086.17L478.74,1086.28L479.74,1086.40L480.73,1086.52L481.72,1086.63L482.72,1086.75L483.71,1086.87L484.70,1086.98L485.70,1087.10L486.69,1087.22L487.68,1087.33L488.68,1087.45L489.67,1087.57L490.67,1087.68L491.66,1087.80L492.65,1087.91L493.65,1088.03L494.64,1088.14L495.63,1088.26L496.63,1088.37L497.62,1088.48L498.61,1088.60L499.61,1088.71L500.60,1088.82L501.60,1088.94L502.59,1089.05L503.58,1089.16L504.58,1089.27L505.57,1089.38L506.57,1089.49L507.56,1089.60L508.56,1089.71L509.55,1089.82L510.54,1089.93L511.54,1090.04L512.53,1090.14L513.53,1090.25L514.52,1090.35L515.52,1090.46L516.51,1090.56L517.51,1090.67L518.50,1090.77L519.50,1090.87L520.49,1090.97L521.49,1091.07L522.48,1091.17L523.48,1091.27L524.47,1091.37L525.47,1091.47L526.47,1091.56L527.46,1091.66L528.46,1091.75L529.45,1091.84L530.45,1091.94L531.45,1092.03L532.44,1092.12L533.44,1092.21L534.43,1092.30L535.43,1092.38L536.43,1092.47L537.42,1092.55L538.42,1092.64L539.42,1092.72L540.41,1092.80L541.41,1092.88L542.41,1092.96L543.41,1093.04L544.40,1093.12L545.40,1093.19L546.40,1093.27L547.40,1093.34L548.39,1093.41L549.39,1093.48L550.39,1093.55L551.39,1093.62L552.39,1093.69L553.38,1093.75L554.38,1093.81L555.38,1093.87L556.38,1093.94L557.38,1093.99L558.38,1094.05L559.38,1094.11L560.37,1094.16L561.37,1094.21L562.37,1094.26L563.37,1094.31L564.37,1094.36L565.37,1094.41L566.37,1094.45L567.37,1094.50L568.37,1094.54L569.37,1094.58L570.37,1094.61L571.37,1094.65L572.37,1094.68L573.37,1094.71L574.37,1094.74L575.37,1094.77L576.37,1094.80L577.37,1094.82L578.37,1094.85L579.37,1094.87L580.37,1094.89L581.37,1094.90L582.37,1094.92L583.37,1094.93L584.37,1094.94L585.37,1094.95L586.37,1094.95L587.37,1094.96L588.37,1094.96L589.37,1094.96L590.37,1094.96L591.37,1094.95L592.37,1094.95L593.37,1094.94L594.37,1094.93L595.37,1094.91L596.37,1094.90L597.37,1094.88L598.37,1094.86L599.37,1094.84L600.37,1094.81L601.37,1094.79L602.37,1094.76L603.37,1094.72L604.37,1094.69L605.37,1094.65L606.37,1094.61L607.37,1094.57L608.37,1094.53L609.37,1094.48L610.37,1094.43L611.36,1094.38L612.36,1094.32L613.36,1094.26L614.36,1094.20L615.36,1094.14L616.36,1094.07L617.36,1094.01L618.35,1093.93L619.35,1093.86L620.35,1093.78L621.35,1093.70L622.34,1093.62L623.34,1093.54L624.34,1093.45L625.33,1093.36L626.33,1093.27L627.32,1093.18L628.32,1093.08L629.31,1092.98L630.31,1092.88L631.31,1092.78L632.30,1092.68L633.29,1092.57L634.29,1092.47L635.28,1092.36L636.28,1092.25L637.27,1092.14L638.27,1092.03L639.26,1091.91L640.25,1091.80L641.25,1091.68L642.24,1091.57L643.23,1091.45L644.23,1091.34L645.22,1091.22L646.22,1091.10L647.21,1090.98L648.20,1090.86L649.20,1090.75L650.19,1090.63L651.18,1090.51L652.17,1090.39L653.17,1090.27L654.16,1090.15L655.15,1090.04L656.15,1089.92L657.14,1089.80L658.14,1089.69L659.13,1089.57L660.12,1089.46L661.12,1089.34L662.11,1089.23L663.10,1089.12L664.10,1089.01L665.09,1088.90L666.09,1088.79L667.08,1088.69L668.08,1088.58L669.07,1088.48L670.07,1088.38L671.06,1088.28L672.06,1088.18L673.05,1088.09L674.05,1088.00L675.05,1087.90L676.04,1087.82L677.04,1087.73L678.04,1087.65L679.03,1087.57L680.03,1087.49L681.03,1087.41L682.03,1087.34L683.02,1087.27L684.02,1087.20L685.02,1087.14L686.02,1087.08L687.02,1087.02L688.02,1086.97L689.01,1086.92L690.01,1086.87L691.01,1086.83L692.01,1086.79L693.01,1086.76L694.01,1086.73L695.01,1086.70L696.01,1086.68L697.01,1086.66L698.01,1086.64L699.01,1086.63L700.01,1086.63L701.01,1086.63L702.01,1086.63L703.01,1086.64L704.01,1086.65L705.01,1086.67L706.01,1086.69L707.01,1086.71L708.01,1086.74L709.01,1086.77L710.01,1086.80L711.01,1086.84L712.01,1086.87L713.01,1086.91L714.01,1086.95L715.01,1087.00L716.01,1087.04L717.01,1087.09L718.01,1087.13L719.01,1087.18L720.01,1087.23L721.01,1087.28L722.01,1087.33L723.01,1087.38L724.00,1087.43L725.00,1087.47L726.00,1087.52L727.00,1087.57L728.00,1087.61L729.00,1087.66L730.00,1087.70L731.00,1087.74L732.00,1087.78L733.00,1087.81L734.00,1087.85L735.00,1087.88L736.00,1087.91L737.00,1087.93L738.00,1087.95L739.00,1087.97L740.00,1087.99L741.00,1088.00L742.00,1088.00L743.00,1088.00L744.00,1088.00L745.00,1087.99L746.00,1087.98" fill="none" stroke="#66c10a" stroke-width="2.3" stroke-linecap="round" stroke-linejoin="round" clip-path="url(#clipb)"/>
<path d="M168.91,1335.40L168.90,1335.90L168.89,1336.40L168.89,1336.90L168.88,1337.40L168.88,1337.90L168.87,1338.13M168.82,1351.65L168.82,1351.90L168.82,1352.40L168.83,1352.90L168.83,1353.40L168.83,1353.90L168.83,1354.40L168.84,1354.90L168.84,1355.40L168.84,1355.90L168.84,1356.40L168.85,1356.90L168.85,1357.40L168.86,1357.90L168.86,1358.40L168.87,1358.90L168.87,1359.40L168.87,1359.90L168.88,1360.40L168.89,1360.90L168.89,1361.40L168.90,1361.90L168.90,1362.40L168.91,1362.90L168.92,1363.40L168.92,1363.90L168.93,1364.37M169.20,1378.15L169.20,1378.40L169.22,1378.90L169.23,1379.40L169.24,1379.90L169.25,1380.40L169.27,1380.90L169.28,1381.40L169.29,1381.90L169.31,1382.40L169.32,1382.90L169.34,1383.40L169.35,1383.90L169.36,1384.40L169.38,1384.90L169.39,1385.40L169.41,1385.90L169.42,1386.40L169.44,1386.90L169.45,1387.40L169.47,1387.90L169.49,1388.40L169.50,1388.90L169.52,1389.40L169.53,1389.90L169.55,1390.39M170.04,1403.64L170.05,1403.89L170.07,1404.39L170.09,1404.89L170.11,1405.39L170.13,1405.89L170.15,1406.39L170.17,1406.89L170.19,1407.39L170.21,1407.89L170.23,1408.39L170.25,1408.89L170.28,1409.39L170.30,1409.89L170.32,1410.39L170.34,1410.89L170.36,1411.39L170.38,1411.89L170.41,1412.39L170.43,1412.88L170.45,1413.38L170.47,1413.88L170.50,1414.38L170.52,1414.88L170.54,1415.38L170.55,1415.63M171.18,1428.62L171.19,1428.87L171.22,1429.37L171.25,1429.87L171.27,1430.37L171.30,1430.87L171.32,1431.37L171.35,1431.87L171.37,1432.36L171.40,1432.86L171.43,1433.36L171.45,1433.86L171.48,1434.36L171.50,1434.86L171.53,1435.36L171.56,1435.86L171.58,1436.36L171.61,1436.86L171.63,1437.36L171.66,1437.86L171.69,1438.36L171.71,1438.86L171.74,1439.36L171.77,1439.86L171.79,1440.35L171.81,1440.60M172.52,1453.59L172.53,1453.84L172.56,1454.34L172.59,1454.83L172.62,1455.33L172.65,1455.83L172.67,1456.33L172.70,1456.83L172.73,1457.33L172.76,1457.83L172.79,1458.33L172.81,1458.83L172.84,1459.33L172.87,1459.83L172.90,1460.33L172.93,1460.83L172.96,1461.33L172.98,1461.82L173.01,1462.32L173.04,1462.82L173.07,1463.32L173.10,1463.82L173.12,1464.32L173.15,1464.82L173.18,1465.32L173.21,1465.75M173.95,1478.92L173.97,1479.30L174.00,1479.80L174.02,1480.30L174.05,1480.80L174.08,1481.30L174.11,1481.80L174.14,1482.29L174.16,1482.79L174.19,1483.29L174.22,1483.79L174.25,1484.29L174.27,1484.79L174.30,1485.29L174.33,1485.79L174.36,1486.29L174.38,1486.79L174.41,1487.29L174.44,1487.79L174.47,1488.29L174.49,1488.79L174.52,1489.29L174.55,1489.78L174.58,1490.28L174.60,1490.78L174.62,1491.09M175.35,1504.26L175.35,1504.26L175.37,1504.76L175.40,1505.26L175.43,1505.76L175.46,1506.26L175.49,1506.76L175.52,1507.26L175.55,1507.76L175.58,1508.26L175.61,1508.76L175.64,1509.26L175.67,1509.76L175.70,1510.26L175.73,1510.75L175.76,1511.25L175.79,1511.75L175.82,1512.25L175.85,1512.75L175.88,1513.25L175.91,1513.75L175.94,1514.25L175.97,1514.75L176.01,1515.25L176.04,1515.75L176.07,1516.24L176.08,1516.42M177.03,1529.59L177.04,1529.71L177.08,1530.21L177.12,1530.71L177.16,1531.21L177.20,1531.70L177.24,1532.20L177.29,1532.70L177.33,1533.20L177.37,1533.70L177.42,1534.20L177.46,1534.69L177.50,1535.19L177.55,1535.69L177.59,1536.19L177.64,1536.69L177.68,1537.18L177.73,1537.68L177.77,1538.18L177.82,1538.68L177.87,1539.18L177.92,1539.67L177.96,1540.17L178.01,1540.67L178.06,1541.17L178.11,1541.66L178.12,1541.72M179.60,1554.83L179.63,1555.08L179.70,1555.58L179.76,1556.07L179.83,1556.57L179.89,1557.06L179.96,1557.56L180.03,1558.05L180.09,1558.55L180.16,1559.05L180.23,1559.54L180.30,1560.04L180.37,1560.53L180.44,1561.03L180.51,1561.52L180.58,1562.02L180.66,1562.51L180.73,1563.01L180.80,1563.50L180.88,1563.99L180.95,1564.49L181.03,1564.98L181.10,1565.48L181.18,1565.97L181.26,1566.47L181.34,1566.96L181.42,1567.45L181.49,1567.90M184.53,1581.86L184.61,1582.09L184.77,1582.57L184.93,1583.04L185.10,1583.51L185.28,1583.98L185.46,1584.45L185.64,1584.91L185.83,1585.37L186.03,1585.83L186.23,1586.29L186.44,1586.74L186.66,1587.20L186.88,1587.64L187.10,1588.09L187.34,1588.53L187.57,1588.97L187.82,1589.41L188.07,1589.84L188.33,1590.27L188.59,1590.70L188.86,1591.11L189.15,1591.53L189.44,1591.93L189.75,1592.32L190.08,1592.70L190.40,1593.04M202.44,1591.07L202.61,1590.89L202.96,1590.53L203.30,1590.17L203.64,1589.79L203.97,1589.42L204.29,1589.04L204.61,1588.66L204.93,1588.27L205.25,1587.89L205.57,1587.50L205.88,1587.11L206.19,1586.72L206.50,1586.33L206.81,1585.94L207.13,1585.54L207.44,1585.15L207.75,1584.76L208.07,1584.38L208.38,1583.99L208.70,1583.60L209.02,1583.22L209.34,1582.84L209.67,1582.46L210.00,1582.08L210.33,1581.71L210.67,1581.33L211.01,1580.97L211.14,1580.83M223.88,1574.75L224.13,1574.74L224.63,1574.74L225.13,1574.75L225.63,1574.77L226.13,1574.80L226.62,1574.84L227.12,1574.89L227.62,1574.95L228.11,1575.02L228.61,1575.09L229.10,1575.18L229.59,1575.27L230.08,1575.37L230.57,1575.47L231.06,1575.59L231.54,1575.71L232.03,1575.84L232.51,1575.98L232.99,1576.12L233.46,1576.27L233.94,1576.43L234.41,1576.59L234.88,1576.75L235.35,1576.92L235.36,1576.93M246.98,1582.15L247.21,1582.26L247.66,1582.46L248.12,1582.67L248.58,1582.87L249.04,1583.07L249.49,1583.27L249.95,1583.46L250.42,1583.66L250.88,1583.85L251.34,1584.03L251.81,1584.22L252.27,1584.40L252.74,1584.57L253.21,1584.75L253.68,1584.92L254.15,1585.08L254.63,1585.25L255.10,1585.40L255.58,1585.56L256.05,1585.71L256.53,1585.85L257.01,1585.99L257.50,1586.12L257.98,1586.25L258.46,1586.37L258.69,1586.43M272.08,1586.76L272.33,1586.70L272.82,1586.59L273.30,1586.48L273.79,1586.36L274.27,1586.23L274.76,1586.11L275.24,1585.97L275.72,1585.84L276.20,1585.71L276.68,1585.57L277.17,1585.44L277.65,1585.30L278.13,1585.17L278.61,1585.03L279.09,1584.90L279.58,1584.77L280.06,1584.65L280.55,1584.52L281.03,1584.41L281.52,1584.30L282.01,1584.19L282.50,1584.10L282.99,1584.01L283.49,1583.93L283.98,1583.86L284.48,1583.81L284.93,1583.77M296.90,1590.21L297.05,1590.41L297.35,1590.81L297.64,1591.21L297.93,1591.62L298.22,1592.03L298.50,1592.45L298.77,1592.87L299.04,1593.29L299.31,1593.71L299.57,1594.13L299.83,1594.56L300.09,1594.99L300.34,1595.42L300.60,1595.85L300.85,1596.29L301.09,1596.72L301.34,1597.16L301.58,1597.59L301.82,1598.03L302.06,1598.47L302.29,1598.92L302.52,1599.36L302.75,1599.80L302.98,1600.25L303.20,1600.69L303.43,1601.14L303.65,1601.59L303.83,1601.98M309.36,1615.72L309.45,1615.96L309.61,1616.43L309.78,1616.90L309.95,1617.37L310.11,1617.85L310.27,1618.32L310.44,1618.79L310.60,1619.26L310.76,1619.74L310.92,1620.21L311.08,1620.68L311.24,1621.16L311.40,1621.63L311.56,1622.11L311.72,1622.58L311.88,1623.06L312.03,1623.53L312.19,1624.01L312.34,1624.48L312.50,1624.96L312.65,1625.43L312.80,1625.91L312.96,1626.39L313.11,1626.86L313.26,1627.34L313.40,1627.79M317.28,1641.01L317.34,1641.25L317.47,1641.74L317.60,1642.22L317.73,1642.70L317.86,1643.18L317.99,1643.67L318.11,1644.15L318.24,1644.64L318.36,1645.12L318.49,1645.60L318.61,1646.09L318.74,1646.57L318.86,1647.06L318.98,1647.54L319.10,1648.03L319.22,1648.51L319.34,1649.00L319.46,1649.49L319.58,1649.97L319.70,1650.46L319.81,1650.94L319.93,1651.43L320.04,1651.92L320.16,1652.40L320.27,1652.89L320.32,1653.11M323.07,1666.35L323.12,1666.60L323.21,1667.09L323.30,1667.58L323.38,1668.08L323.47,1668.57L323.56,1669.06L323.64,1669.55L323.73,1670.05L323.81,1670.54L323.90,1671.03L323.98,1671.52L324.07,1672.02L324.15,1672.51L324.23,1673.00L324.32,1673.50L324.40,1673.99L324.49,1674.48L324.57,1674.97L324.66,1675.47L324.74,1675.96L324.83,1676.45L324.91,1676.95L325.00,1677.44L325.09,1677.93L325.13,1678.18M327.90,1690.88L327.96,1691.12L328.10,1691.60L328.23,1692.08L328.37,1692.56L328.51,1693.04L328.65,1693.52L328.80,1694.00L328.95,1694.48L329.10,1694.95L329.26,1695.43L329.42,1695.90L329.59,1696.37L329.76,1696.84L329.93,1697.31L330.11,1697.78L330.30,1698.24L330.49,1698.71L330.68,1699.17L330.88,1699.62L331.09,1700.08L331.30,1700.53L331.52,1700.98L331.75,1701.42L331.98,1701.87L332.23,1702.30L332.48,1702.74L332.74,1703.17L333.00,1703.59L333.09,1703.73M345.15,1712.21L345.39,1712.28L345.87,1712.41L346.35,1712.54L346.84,1712.66L347.33,1712.77L347.81,1712.88L348.30,1712.98L348.80,1713.07L349.29,1713.16L349.78,1713.24L350.28,1713.32L350.77,1713.39L351.27,1713.45L351.76,1713.51L352.26,1713.57L352.76,1713.62L353.25,1713.67L353.75,1713.71L354.25,1713.75L354.75,1713.78L355.25,1713.81L355.75,1713.83L356.25,1713.85L356.75,1713.87L357.00,1713.88M369.96,1713.08L370.21,1713.05L370.70,1712.98L371.20,1712.90L371.69,1712.83L372.19,1712.75L372.68,1712.68L373.18,1712.60L373.67,1712.52L374.16,1712.43L374.66,1712.35L375.15,1712.26L375.64,1712.17L376.13,1712.08L376.62,1711.99L377.12,1711.90L377.61,1711.81L378.10,1711.72L378.59,1711.62L379.08,1711.53L379.57,1711.43L380.06,1711.33L380.55,1711.23L381.04,1711.14L381.53,1711.04L382.02,1710.94L382.25,1710.89M395.47,1708.04L395.71,1707.99L396.20,1707.87L396.68,1707.76L397.17,1707.64L397.66,1707.53L398.14,1707.41L398.63,1707.30L399.12,1707.18L399.60,1707.06L400.09,1706.94L400.57,1706.82L401.06,1706.70L401.54,1706.58L402.03,1706.46L402.51,1706.34L403.00,1706.22L403.48,1706.09L403.97,1705.97L404.45,1705.84L404.93,1705.71L405.42,1705.59L405.90,1705.46L406.38,1705.33L406.87,1705.20L407.34,1705.07M420.03,1701.23L420.27,1701.15L420.74,1700.99L421.22,1700.83L421.69,1700.67L422.16,1700.50L422.63,1700.34L423.10,1700.17L423.58,1700.00L424.05,1699.83L424.52,1699.66L424.99,1699.49L425.45,1699.32L425.92,1699.14L426.39,1698.97L426.86,1698.79L427.33,1698.61L427.79,1698.43L428.26,1698.25L428.72,1698.06L429.19,1697.88L429.65,1697.69L430.12,1697.51L430.58,1697.32L431.04,1697.13L431.27,1697.03M443.07,1691.57L443.29,1691.46L443.74,1691.23L444.18,1691.01L444.63,1690.78L445.07,1690.55L445.51,1690.31L445.96,1690.08L446.40,1689.85L446.84,1689.61L447.28,1689.38L447.72,1689.14L448.16,1688.90L448.60,1688.66L449.04,1688.42L449.48,1688.18L449.92,1687.94L450.35,1687.70L450.79,1687.45L451.23,1687.21L451.66,1686.96L452.10,1686.72L452.53,1686.47L452.97,1686.22L453.40,1685.97L453.83,1685.72L454.27,1685.47L454.36,1685.42M466.26,1678.18L466.65,1677.93L467.07,1677.66L467.49,1677.39L467.91,1677.12L468.34,1676.85L468.76,1676.58L469.18,1676.31L469.60,1676.04L470.02,1675.77L470.44,1675.50L470.86,1675.23L471.28,1674.96L471.70,1674.69L472.12,1674.42L472.54,1674.14L472.96,1673.87L473.38,1673.60L473.80,1673.33L474.22,1673.05L474.63,1672.78L475.05,1672.51L475.47,1672.23L475.89,1671.96L476.31,1671.68L476.73,1671.41L477.06,1671.20M488.71,1663.56L488.86,1663.46L489.28,1663.19L489.69,1662.92L490.11,1662.64L490.53,1662.37L490.95,1662.10L491.37,1661.83L491.79,1661.56L492.22,1661.29L492.64,1661.02L493.06,1660.75L493.48,1660.48L493.90,1660.21L494.32,1659.94L494.74,1659.67L495.17,1659.41L495.59,1659.14L496.01,1658.87L496.43,1658.60L496.86,1658.34L497.28,1658.07L497.70,1657.80L498.13,1657.54L498.55,1657.27L498.97,1657.01L499.40,1656.74L499.55,1656.65M511.42,1649.36L511.76,1649.16L512.19,1648.90L512.62,1648.64L513.04,1648.38L513.47,1648.13L513.90,1647.87L514.33,1647.61L514.76,1647.35L515.19,1647.10L515.62,1646.84L516.05,1646.58L516.48,1646.33L516.90,1646.07L517.33,1645.81L517.76,1645.56L518.19,1645.30L518.62,1645.05L519.05,1644.79L519.48,1644.53L519.91,1644.28L520.34,1644.02L520.77,1643.77L521.20,1643.51L521.63,1643.26L522.06,1643.00L522.46,1642.77M534.45,1635.68L534.55,1635.63L534.98,1635.37L535.41,1635.12L535.84,1634.86L536.27,1634.61L536.70,1634.35L537.13,1634.10L537.56,1633.85L537.99,1633.59L538.42,1633.34L538.85,1633.08L539.28,1632.83L539.72,1632.58L540.15,1632.32L540.58,1632.07L541.01,1631.82L541.44,1631.56L541.87,1631.31L542.30,1631.06L542.73,1630.80L543.17,1630.55L543.60,1630.30L544.03,1630.05L544.46,1629.79L544.89,1629.54L545.33,1629.29L545.54,1629.17M557.68,1622.32L557.96,1622.17L558.40,1621.93L558.84,1621.70L559.28,1621.46L559.72,1621.22L560.16,1620.99L560.60,1620.75L561.05,1620.52L561.49,1620.29L561.93,1620.06L562.37,1619.82L562.82,1619.59L563.26,1619.36L563.71,1619.14L564.15,1618.91L564.60,1618.68L565.04,1618.45L565.49,1618.23L565.94,1618.00L566.38,1617.78L566.83,1617.56L567.28,1617.34L567.73,1617.11L568.18,1616.89L568.63,1616.68L569.08,1616.46L569.11,1616.44M581.85,1610.83L581.89,1610.81L582.35,1610.63L582.82,1610.45L583.28,1610.27L583.75,1610.09L584.22,1609.91L584.69,1609.73L585.15,1609.55L585.62,1609.38L586.09,1609.21L586.56,1609.03L587.03,1608.86L587.50,1608.69L587.97,1608.52L588.44,1608.36L588.91,1608.19L589.39,1608.03L589.86,1607.86L590.33,1607.70L590.81,1607.54L591.28,1607.38L591.75,1607.22L592.23,1607.06L592.70,1606.90L593.18,1606.75L593.65,1606.59L593.96,1606.50M607.35,1602.65L607.59,1602.59L608.07,1602.47L608.56,1602.35L609.05,1602.23L609.53,1602.11L610.02,1601.99L610.50,1601.87L610.99,1601.76L611.48,1601.64L611.96,1601.53L612.45,1601.41L612.94,1601.30L613.42,1601.19L613.91,1601.08L614.40,1600.97L614.89,1600.86L615.38,1600.75L615.86,1600.64L616.35,1600.54L616.84,1600.43L617.33,1600.33L617.82,1600.22L618.31,1600.12L618.80,1600.02L618.81,1600.02M631.34,1597.69L631.58,1597.65L632.08,1597.57L632.57,1597.49L633.06,1597.41L633.56,1597.33L634.05,1597.26L634.55,1597.18L635.04,1597.10L635.53,1597.03L636.03,1596.95L636.52,1596.88L637.02,1596.80L637.51,1596.73L638.01,1596.66L638.50,1596.59L639.00,1596.51L639.49,1596.44L639.99,1596.37L640.48,1596.30L640.98,1596.23L641.47,1596.17L641.97,1596.10L642.46,1596.03L642.96,1595.96L643.44,1595.90M656.61,1594.34L656.86,1594.32L657.36,1594.26L657.86,1594.21L658.36,1594.16L658.85,1594.11L659.35,1594.06L659.85,1594.01L660.35,1593.96L660.84,1593.91L661.34,1593.86L661.84,1593.82L662.34,1593.77L662.83,1593.72L663.33,1593.67L663.83,1593.63L664.33,1593.58L664.83,1593.53L665.32,1593.49L665.82,1593.44L666.32,1593.40L666.82,1593.35L667.32,1593.31L667.81,1593.27L668.31,1593.22L668.56,1593.20M681.53,1592.28L681.78,1592.26L682.28,1592.24L682.78,1592.21L683.28,1592.18L683.78,1592.16L684.28,1592.13L684.78,1592.11L685.28,1592.08L685.78,1592.06L686.27,1592.04L686.77,1592.02L687.27,1592.00L687.77,1591.98L688.27,1591.96L688.77,1591.94L689.27,1591.92L689.77,1591.90L690.27,1591.89L690.77,1591.87L691.27,1591.85L691.77,1591.84L692.27,1591.83L692.77,1591.81L693.27,1591.80L693.76,1591.79M707.02,1591.78L707.27,1591.79L707.77,1591.80L708.27,1591.82L708.77,1591.83L709.27,1591.84L709.77,1591.86L710.27,1591.88L710.77,1591.90L711.27,1591.91L711.77,1591.93L712.27,1591.96L712.77,1591.98L713.27,1592.00L713.77,1592.02L714.27,1592.05L714.77,1592.07L715.27,1592.10L715.77,1592.13L716.27,1592.16L716.76,1592.19L717.26,1592.22L717.76,1592.25L718.26,1592.28L718.76,1592.32L719.13,1592.34" fill="none" stroke="#7d34b9" stroke-width="3.5" stroke-linecap="round" stroke-linejoin="round" clip-path="url(#clipc)"/>
<path d="M181.60,1336.50L181.64,1337.50L181.68,1338.50L181.72,1339.50L181.75,1340.50L181.79,1341.50L181.83,1342.50L181.86,1343.50L181.90,1344.50L181.93,1345.50L181.96,1346.50L182.00,1347.50L182.03,1348.50L182.06,1349.50L182.09,1350.50L182.12,1351.50L182.15,1352.50L182.19,1353.50L182.22,1354.50L182.25,1355.50L182.27,1356.50L182.30,1357.50L182.33,1358.50L182.36,1359.50L182.39,1360.50L182.42,1361.50L182.45,1362.50L182.48,1363.50L182.51,1364.50L182.53,1365.50L182.56,1366.50L182.59,1367.50L182.62,1368.50L182.65,1369.50L182.68,1370.50L182.71,1371.50L182.74,1372.50L182.77,1373.49L182.80,1374.49L182.83,1375.49L182.86,1376.49L182.89,1377.49L182.92,1378.49L182.95,1379.49L182.98,1380.49L183.01,1381.49L183.05,1382.49L183.08,1383.49L183.11,1384.49L183.15,1385.49L183.18,1386.49L183.22,1387.49L183.26,1388.49L183.29,1389.49L183.33,1390.49L183.37,1391.49L183.41,1392.49L183.45,1393.49L183.49,1394.49L183.54,1395.49L183.58,1396.49L183.62,1397.49L183.67,1398.49L183.71,1399.49L183.76,1400.49L183.81,1401.49L183.86,1402.48L183.91,1403.48L183.96,1404.48L184.01,1405.48L184.07,1406.48L184.12,1407.48L184.18,1408.48L184.24,1409.48L184.29,1410.48L184.35,1411.47L184.42,1412.47L184.48,1413.47L184.54,1414.47L184.61,1415.47L184.68,1416.47L184.75,1417.46L184.82,1418.46L184.89,1419.46L184.96,1420.46L185.04,1421.45L185.12,1422.45L185.20,1423.45L185.28,1424.45L185.36,1425.44L185.44,1426.44L185.53,1427.44L185.62,1428.43L185.71,1429.43L185.80,1430.43L185.89,1431.42L185.99,1432.42L186.08,1433.41L186.18,1434.41L186.29,1435.40L186.39,1436.40L186.50,1437.39L186.60,1438.39L186.71,1439.38L186.83,1440.38L186.94,1441.37L187.06,1442.36L187.18,1443.36L187.30,1444.35L187.42,1445.34L187.55,1446.33L187.68,1447.33L187.81,1448.32L187.94,1449.31L188.08,1450.30L188.22,1451.29L188.36,1452.28L188.50,1453.27L188.65,1454.26L188.80,1455.25L188.95,1456.24L189.10,1457.23L189.26,1458.21L189.42,1459.20L189.59,1460.19L189.76,1461.17L189.93,1462.16L190.12,1463.14L190.30,1464.13L190.49,1465.11L190.69,1466.09L190.90,1467.07L191.12,1468.04L191.34,1469.02L191.57,1469.99L191.81,1470.96L192.06,1471.93L192.32,1472.90L192.60,1473.86L192.88,1474.82L193.17,1475.78L193.48,1476.73L193.80,1477.68L194.13,1478.62L194.47,1479.56L194.83,1480.49L195.20,1481.42L195.59,1482.35L195.99,1483.26L196.40,1484.17L196.83,1485.07L197.28,1485.97L197.74,1486.86L198.21,1487.74L198.70,1488.61L199.20,1489.48L199.71,1490.34L200.23,1491.20L200.75,1492.05L201.29,1492.89L201.83,1493.73L202.38,1494.57L202.94,1495.40L203.50,1496.22L204.10,1497.03L204.73,1497.81L205.41,1498.54L206.17,1499.18L207.05,1499.66L208.03,1499.77L208.97,1499.43L209.79,1498.86L210.54,1498.19L211.26,1497.50L211.97,1496.80L212.71,1496.12L213.49,1495.50L214.32,1494.94L215.20,1494.47L216.13,1494.09L217.09,1493.80L218.06,1493.60L219.06,1493.48L220.06,1493.45L221.06,1493.50L222.05,1493.64L223.02,1493.86L223.98,1494.15L224.91,1494.51L225.82,1494.93L226.70,1495.41L227.55,1495.94L228.37,1496.51L229.16,1497.12L229.93,1497.76L230.68,1498.42L231.40,1499.11L232.11,1499.82L232.79,1500.55L233.46,1501.29L234.12,1502.05L234.76,1502.82L235.38,1503.60L236.00,1504.39L236.61,1505.18L237.22,1505.98L237.81,1506.78L238.40,1507.59L238.99,1508.40L239.57,1509.21L240.15,1510.03L240.72,1510.85L241.29,1511.67L241.85,1512.50L242.42,1513.33L242.97,1514.16L243.53,1514.99L244.08,1515.82L244.63,1516.65L245.19,1517.49L245.74,1518.32L246.29,1519.16L246.84,1519.99L247.39,1520.83L247.95,1521.66L248.51,1522.49L249.07,1523.32L249.63,1524.14L250.20,1524.97L250.77,1525.79L251.34,1526.61L251.92,1527.42L252.51,1528.24L253.09,1529.05L253.69,1529.85L254.29,1530.65L254.90,1531.44L255.52,1532.23L256.15,1533.01L256.79,1533.78L257.44,1534.53L258.11,1535.28L258.79,1536.01L259.49,1536.72L260.21,1537.42L260.95,1538.10L261.70,1538.75L262.49,1539.37L263.29,1539.97L264.12,1540.53L264.97,1541.05L265.86,1541.52L266.76,1541.94L267.70,1542.30L268.65,1542.59L269.63,1542.82L270.62,1542.97L271.61,1543.04L272.61,1543.05L273.61,1543.00L274.61,1542.88L275.59,1542.70L276.56,1542.47L277.52,1542.19L278.47,1541.86L279.39,1541.48L280.30,1541.05L281.18,1540.59L282.05,1540.08L282.88,1539.53L283.70,1538.95L284.49,1538.34L285.27,1537.71L286.03,1537.07L286.79,1536.42L287.55,1535.77L288.32,1535.12L289.10,1534.50L289.90,1533.89L290.72,1533.32L291.56,1532.79L292.43,1532.29L293.33,1531.86L294.27,1531.50L295.23,1531.22L296.22,1531.08L297.21,1531.09L298.19,1531.31L299.10,1531.72L299.92,1532.29L300.67,1532.95L301.35,1533.68L301.99,1534.45L302.58,1535.26L303.15,1536.08L303.70,1536.91L304.24,1537.76L304.76,1538.62L305.26,1539.48L305.74,1540.36L306.20,1541.25L306.64,1542.14L307.07,1543.05L307.47,1543.96L307.86,1544.88L308.24,1545.81L308.60,1546.75L308.94,1547.69L309.27,1548.63L309.58,1549.58L309.88,1550.53L310.18,1551.49L310.46,1552.45L310.73,1553.41L310.99,1554.38L311.24,1555.35L311.49,1556.32L311.73,1557.29L311.97,1558.26L312.20,1559.23L312.43,1560.21L312.66,1561.18L312.88,1562.16L313.10,1563.13L313.32,1564.11L313.54,1565.08L313.75,1566.06L313.96,1567.04L314.17,1568.02L314.37,1569.00L314.57,1569.98L314.77,1570.96L314.97,1571.94L315.16,1572.92L315.36,1573.90L315.55,1574.88L315.74,1575.87L315.92,1576.85L316.10,1577.83L316.29,1578.82L316.46,1579.80L316.64,1580.78L316.82,1581.77L316.99,1582.75L317.16,1583.74L317.33,1584.73L317.50,1585.71L317.66,1586.70L317.83,1587.69L317.99,1588.67L318.15,1589.66L318.31,1590.65L318.47,1591.64L318.63,1592.62L318.78,1593.61L318.93,1594.60L319.09,1595.59L319.24,1596.58L319.39,1597.57L319.54,1598.56L319.68,1599.55L319.83,1600.54L319.98,1601.53L320.12,1602.52L320.26,1603.51L320.41,1604.50L320.55,1605.49L320.69,1606.48L320.83,1607.47L320.97,1608.46L321.11,1609.45L321.24,1610.44L321.38,1611.43L321.52,1612.42L321.65,1613.41L321.79,1614.40L321.93,1615.39L322.06,1616.39L322.20,1617.38L322.33,1618.37L322.46,1619.36L322.60,1620.35L322.73,1621.34L322.87,1622.33L323.00,1623.32L323.13,1624.32L323.27,1625.31L323.40,1626.30L323.54,1627.29L323.67,1628.28L323.81,1629.27L323.94,1630.26L324.08,1631.25L324.21,1632.25L324.35,1633.24L324.49,1634.23L324.62,1635.22L324.76,1636.21L324.90,1637.20L325.04,1638.19L325.18,1639.18L325.32,1640.17L325.46,1641.16L325.60,1642.15L325.74,1643.14L325.89,1644.13L326.03,1645.12L326.18,1646.11L326.33,1647.10L326.48,1648.09L326.63,1649.08L326.78,1650.07L326.93,1651.06L327.08,1652.05L327.24,1653.03L327.39,1654.02L327.55,1655.01L327.71,1656.00L327.87,1656.98L328.03,1657.97L328.20,1658.96L328.36,1659.94L328.53,1660.93L328.71,1661.92L328.88,1662.90L329.06,1663.89L329.24,1664.87L329.43,1665.85L329.61,1666.83L329.81,1667.82L330.00,1668.80L330.21,1669.78L330.41,1670.76L330.62,1671.73L330.84,1672.71L331.06,1673.69L331.29,1674.66L331.52,1675.63L331.76,1676.60L332.01,1677.57L332.26,1678.54L332.52,1679.51L332.78,1680.47L333.05,1681.44L333.33,1682.40L333.62,1683.35L333.91,1684.31L334.22,1685.26L334.52,1686.22L334.84,1687.17L335.17,1688.11L335.50,1689.05L335.84,1689.99L336.19,1690.93L336.56,1691.86L336.93,1692.79L337.32,1693.71L337.72,1694.63L338.13,1695.54L338.56,1696.45L339.00,1697.34L339.46,1698.23L339.94,1699.11L340.43,1699.98L340.95,1700.84L341.48,1701.68L342.04,1702.51L342.62,1703.33L343.22,1704.13L343.84,1704.91L344.49,1705.68L345.16,1706.42L345.86,1707.13L346.58,1707.83L347.32,1708.49L348.09,1709.13L348.88,1709.75L349.70,1710.33L350.53,1710.89L351.37,1711.42L352.24,1711.92L353.12,1712.40L354.01,1712.86L354.91,1713.29L355.82,1713.70L356.75,1714.08L357.68,1714.44L358.62,1714.79L359.57,1715.11L360.52,1715.40L361.48,1715.68L362.45,1715.95L363.42,1716.19L364.39,1716.41L365.37,1716.62L366.35,1716.80L367.34,1716.97L368.33,1717.13L369.32,1717.27L370.31,1717.39L371.31,1717.49L372.30,1717.58L373.30,1717.66L374.30,1717.72L375.30,1717.76L376.30,1717.79L377.30,1717.81L378.30,1717.82L379.30,1717.81L380.30,1717.79L381.30,1717.76L382.30,1717.72L383.30,1717.67L384.30,1717.61L385.29,1717.54L386.29,1717.46L387.29,1717.37L388.28,1717.28L389.28,1717.18L390.27,1717.07L391.27,1716.96L392.26,1716.84L393.25,1716.71L394.25,1716.59L395.24,1716.45L396.23,1716.32L397.22,1716.18L398.21,1716.04L399.20,1715.90L400.19,1715.75L401.18,1715.61L402.17,1715.46L403.16,1715.32L404.15,1715.18L405.14,1715.03L406.13,1714.89L407.12,1714.74L408.11,1714.60L409.10,1714.45L410.09,1714.31L411.08,1714.16L412.07,1714.02L413.06,1713.87L414.05,1713.72L415.04,1713.57L416.03,1713.42L417.01,1713.27L418.00,1713.11L418.99,1712.96L419.98,1712.80L420.97,1712.65L421.95,1712.49L422.94,1712.32L423.93,1712.16L424.91,1711.99L425.90,1711.83L426.89,1711.65L427.87,1711.48L428.86,1711.30L429.84,1711.13L430.82,1710.94L431.81,1710.76L432.79,1710.57L433.77,1710.38L434.75,1710.19L435.73,1709.99L436.71,1709.79L437.69,1709.58L438.67,1709.37L439.65,1709.16L440.62,1708.94L441.60,1708.72L442.57,1708.49L443.55,1708.26L444.52,1708.03L445.49,1707.79L446.46,1707.55L447.43,1707.30L448.40,1707.04L449.37,1706.78L450.33,1706.52L451.29,1706.25L452.26,1705.98L453.22,1705.70L454.18,1705.42L455.14,1705.13L456.09,1704.84L457.05,1704.54L458.00,1704.24L458.95,1703.94L459.91,1703.63L460.85,1703.31L461.80,1702.99L462.75,1702.67L463.70,1702.35L464.64,1702.01L465.58,1701.68L466.52,1701.34L467.46,1701.00L468.40,1700.65L469.34,1700.30L470.27,1699.94L471.21,1699.59L472.14,1699.22L473.07,1698.86L474.00,1698.49L474.93,1698.11L475.85,1697.74L476.78,1697.36L477.70,1696.97L478.63,1696.59L479.55,1696.19L480.47,1695.80L481.38,1695.40L482.30,1695.00L483.22,1694.60L484.13,1694.19L485.04,1693.78L485.95,1693.37L486.86,1692.95L487.77,1692.53L488.68,1692.11L489.58,1691.68L490.49,1691.26L491.39,1690.83L492.29,1690.39L493.19,1689.96L494.09,1689.52L494.99,1689.07L495.88,1688.63L496.78,1688.18L497.67,1687.73L498.56,1687.28L499.45,1686.82L500.34,1686.36L501.23,1685.90L502.12,1685.44L503.00,1684.97L503.89,1684.51L504.77,1684.04L505.65,1683.56L506.53,1683.09L507.41,1682.61L508.29,1682.13L509.17,1681.65L510.04,1681.16L510.91,1680.68L511.79,1680.19L512.66,1679.70L513.53,1679.20L514.40,1678.71L515.26,1678.21L516.13,1677.71L517.00,1677.21L517.86,1676.70L518.72,1676.20L519.59,1675.69L520.45,1675.18L521.31,1674.67L522.16,1674.15L523.02,1673.64L523.88,1673.12L524.73,1672.60L525.59,1672.08L526.44,1671.56L527.29,1671.03L528.14,1670.50L528.99,1669.98L529.84,1669.45L530.69,1668.91L531.53,1668.38L532.38,1667.85L533.22,1667.31L534.07,1666.77L534.91,1666.23L535.75,1665.69L536.59,1665.15L537.43,1664.61L538.27,1664.06L539.11,1663.51L539.94,1662.97L540.78,1662.42L541.61,1661.87L542.45,1661.31L543.28,1660.76L544.11,1660.21L544.95,1659.65L545.78,1659.09L546.61,1658.53L547.44,1657.98L548.27,1657.42L549.09,1656.85L549.92,1656.29L550.75,1655.73L551.57,1655.16L552.40,1654.60L553.22,1654.03L554.05,1653.46L554.87,1652.90L555.69,1652.33L556.51,1651.76L557.34,1651.19L558.16,1650.61L558.98,1650.04L559.80,1649.47L560.62,1648.89L561.43,1648.32L562.25,1647.74L563.07,1647.17L563.89,1646.59L564.70,1646.01L565.52,1645.43L566.34,1644.85L567.15,1644.28L567.97,1643.70L568.78,1643.11L569.60,1642.53L570.41,1641.95L571.22,1641.37L572.04,1640.79L572.85,1640.21L573.66,1639.62L574.48,1639.04L575.29,1638.46L576.10,1637.87L576.91,1637.29L577.72,1636.70L578.54,1636.12L579.35,1635.53L580.16,1634.95L580.97,1634.36L581.78,1633.78L582.59,1633.19L583.40,1632.60L584.21,1632.02L585.02,1631.43L585.83,1630.85L586.65,1630.26L587.46,1629.67L588.27,1629.09L589.08,1628.50L589.89,1627.92L590.70,1627.33L591.51,1626.74L592.32,1626.16L593.13,1625.57L593.94,1624.99L594.76,1624.40L595.57,1623.82L596.38,1623.23L597.19,1622.65L598.00,1622.07L598.82,1621.48L599.63,1620.90L600.44,1620.32L601.25,1619.73L602.07,1619.15L602.88,1618.57L603.70,1617.99L604.51,1617.41L605.33,1616.83L606.14,1616.25L606.96,1615.67L607.77,1615.09L608.59,1614.51L609.41,1613.93L610.22,1613.36L611.04,1612.78L611.86,1612.21L612.68,1611.63L613.50,1611.06L614.32,1610.48L615.14,1609.91L615.96,1609.34L616.78,1608.77L617.60,1608.20L618.43,1607.63L619.25,1607.06L620.07,1606.50L620.90,1605.93L621.72,1605.36L622.55,1604.80L623.38,1604.24L624.20,1603.67L625.03,1603.11L625.86,1602.55L626.69,1601.99L627.52,1601.44L628.35,1600.88L629.18,1600.32L630.02,1599.77L630.85,1599.22L631.68,1598.67L632.52,1598.11L633.36,1597.57L634.19,1597.02L635.03,1596.47L635.87,1595.93L636.71,1595.38L637.55,1594.84L638.39,1594.30L639.23,1593.76L640.08,1593.22L640.92,1592.69L641.77,1592.15L642.62,1591.62L643.46,1591.09L644.31,1590.56L645.17,1590.04L646.02,1589.51L646.87,1588.99L647.73,1588.47L648.58,1587.96L649.44,1587.44L650.30,1586.93L651.16,1586.42L652.02,1585.92L652.89,1585.41L653.75,1584.91L654.62,1584.41L655.49,1583.92L656.36,1583.42L657.23,1582.94L658.11,1582.45L658.98,1581.97L659.86,1581.49L660.74,1581.01L661.62,1580.54L662.51,1580.07L663.39,1579.60L664.28,1579.14L665.17,1578.68L666.06,1578.23L666.95,1577.78L667.85,1577.33L668.75,1576.89L669.65,1576.45L670.55,1576.02L671.45,1575.59L672.36,1575.17L673.27,1574.75L674.18,1574.33L675.09,1573.92L676.00,1573.51L676.92,1573.11L677.84,1572.72L678.76,1572.33L679.68,1571.94L680.61,1571.56L681.53,1571.19L682.46,1570.82L683.40,1570.45L684.33,1570.09L685.27,1569.74L686.20,1569.39L687.14,1569.05L688.09,1568.72L689.03,1568.39L689.98,1568.07L690.93,1567.75L691.88,1567.44L692.83,1567.14L693.79,1566.84L694.74,1566.55L695.70,1566.26L696.66,1565.99L697.63,1565.72L698.59,1565.45L699.56,1565.20L700.53,1564.95L701.50,1564.71L702.47,1564.47L703.45,1564.24L704.42,1564.02L705.40,1563.81L706.38,1563.61L707.36,1563.41L708.34,1563.22L709.33,1563.04L710.31,1562.87L711.30,1562.70L712.28,1562.54L713.27,1562.39L714.26,1562.25L715.26,1562.12L716.25,1561.99L717.24,1561.87L718.24,1561.77L719.23,1561.66L720.23,1561.57L721.22,1561.49L722.22,1561.41L723.22,1561.35L724.22,1561.29L725.22,1561.24L726.22,1561.20L727.22,1561.16L728.22,1561.14L729.22,1561.12L730.22,1561.11L731.22,1561.11" fill="none" stroke="#f58a2b" stroke-width="3.4" stroke-linecap="butt" stroke-linejoin="round" stroke-dasharray="4.3 2.1" clip-path="url(#clipc)"/>
<path d="M175.20,1335.40L175.24,1336.40L175.28,1337.40L175.33,1338.40L175.37,1339.40L175.41,1340.40L175.46,1341.40L175.50,1342.40L175.55,1343.40L175.59,1344.40L175.63,1345.40L175.68,1346.39L175.72,1347.39L175.77,1348.39L175.81,1349.39L175.86,1350.39L175.90,1351.39L175.95,1352.39L175.99,1353.39L176.04,1354.39L176.09,1355.39L176.13,1356.39L176.18,1357.38L176.22,1358.38L176.27,1359.38L176.32,1360.38L176.37,1361.38L176.41,1362.38L176.46,1363.38L176.51,1364.38L176.56,1365.38L176.61,1366.37L176.66,1367.37L176.70,1368.37L176.75,1369.37L176.80,1370.37L176.85,1371.37L176.90,1372.37L176.96,1373.37L177.01,1374.37L177.06,1375.36L177.11,1376.36L177.16,1377.36L177.22,1378.36L177.27,1379.36L177.32,1380.36L177.38,1381.36L177.43,1382.36L177.48,1383.35L177.54,1384.35L177.59,1385.35L177.65,1386.35L177.71,1387.35L177.76,1388.35L177.82,1389.34L177.88,1390.34L177.94,1391.34L177.99,1392.34L178.05,1393.34L178.11,1394.34L178.17,1395.33L178.23,1396.33L178.29,1397.33L178.36,1398.33L178.42,1399.33L178.48,1400.33L178.54,1401.32L178.61,1402.32L178.67,1403.32L178.74,1404.32L178.80,1405.32L178.87,1406.31L178.93,1407.31L179.00,1408.31L179.07,1409.31L179.14,1410.31L179.21,1411.30L179.28,1412.30L179.35,1413.30L179.42,1414.30L179.49,1415.29L179.56,1416.29L179.63,1417.29L179.71,1418.29L179.78,1419.28L179.86,1420.28L179.93,1421.28L180.01,1422.27L180.08,1423.27L180.16,1424.27L180.24,1425.27L180.32,1426.26L180.40,1427.26L180.48,1428.26L180.56,1429.25L180.64,1430.25L180.73,1431.25L180.81,1432.24L180.89,1433.24L180.98,1434.24L181.07,1435.23L181.15,1436.23L181.24,1437.23L181.33,1438.22L181.42,1439.22L181.51,1440.21L181.60,1441.21L181.69,1442.21L181.79,1443.20L181.88,1444.20L181.98,1445.19L182.07,1446.19L182.17,1447.18L182.27,1448.18L182.36,1449.17L182.46,1450.17L182.57,1451.16L182.67,1452.16L182.77,1453.15L182.87,1454.15L182.98,1455.14L183.08,1456.14L183.19,1457.13L183.30,1458.13L183.41,1459.12L183.52,1460.11L183.63,1461.11L183.74,1462.10L183.85,1463.10L183.97,1464.09L184.08,1465.08L184.20,1466.08L184.32,1467.07L184.44,1468.06L184.56,1469.05L184.68,1470.05L184.80,1471.04L184.93,1472.03L185.05,1473.02L185.18,1474.02L185.31,1475.01L185.43,1476.00L185.57,1476.99L185.70,1477.98L185.83,1478.97L185.97,1479.96L186.10,1480.96L186.24,1481.95L186.39,1482.93L186.54,1483.92L186.69,1484.91L186.86,1485.90L187.02,1486.88L187.20,1487.87L187.38,1488.85L187.57,1489.83L187.77,1490.81L187.98,1491.79L188.20,1492.77L188.43,1493.74L188.67,1494.71L188.91,1495.68L189.17,1496.65L189.44,1497.61L189.73,1498.57L190.02,1499.53L190.32,1500.48L190.64,1501.43L190.97,1502.37L191.30,1503.31L191.65,1504.25L192.01,1505.18L192.39,1506.11L192.77,1507.04L193.16,1507.96L193.57,1508.87L193.98,1509.78L194.41,1510.68L194.86,1511.58L195.34,1512.45L195.87,1513.30L196.45,1514.12L197.12,1514.86L197.91,1515.47L198.85,1515.78L199.83,1515.62L200.71,1515.15L201.48,1514.52L202.19,1513.81L202.84,1513.05L203.46,1512.27L204.05,1511.46L204.63,1510.64L205.18,1509.81L205.73,1508.97L206.26,1508.13L206.78,1507.27L207.28,1506.41L207.77,1505.53L208.25,1504.65L208.71,1503.77L209.17,1502.88L209.61,1501.98L210.05,1501.08L210.48,1500.18L210.92,1499.28L211.35,1498.38L211.78,1497.48L212.23,1496.59L212.70,1495.70L213.19,1494.83L213.72,1493.98L214.28,1493.15L214.90,1492.37L215.57,1491.63L216.32,1490.96L217.14,1490.40L218.04,1489.96L218.99,1489.64L219.97,1489.45L220.97,1489.38L221.97,1489.40L222.96,1489.52L223.94,1489.73L224.90,1490.01L225.83,1490.36L226.74,1490.77L227.62,1491.25L228.46,1491.79L229.27,1492.38L230.04,1493.02L230.77,1493.71L231.46,1494.43L232.11,1495.18L232.73,1495.97L233.32,1496.77L233.89,1497.60L234.42,1498.44L234.94,1499.30L235.43,1500.17L235.91,1501.05L236.37,1501.94L236.82,1502.83L237.25,1503.73L237.68,1504.64L238.11,1505.54L238.52,1506.45L238.94,1507.36L239.36,1508.27L239.78,1509.17L240.21,1510.08L240.64,1510.98L241.08,1511.88L241.52,1512.78L241.97,1513.67L242.42,1514.56L242.88,1515.45L243.34,1516.34L243.80,1517.23L244.27,1518.11L244.74,1518.99L245.22,1519.87L245.69,1520.75L246.17,1521.63L246.65,1522.51L247.13,1523.39L247.61,1524.26L248.09,1525.14L248.58,1526.01L249.06,1526.89L249.54,1527.77L250.02,1528.64L250.50,1529.52L250.98,1530.40L251.46,1531.28L251.93,1532.16L252.41,1533.04L252.87,1533.92L253.34,1534.81L253.80,1535.70L254.26,1536.58L254.71,1537.48L255.16,1538.37L255.61,1539.26L256.06,1540.16L256.51,1541.05L256.96,1541.94L257.41,1542.83L257.87,1543.72L258.34,1544.61L258.81,1545.49L259.29,1546.36L259.79,1547.23L260.29,1548.10L260.81,1548.95L261.34,1549.80L261.89,1550.64L262.46,1551.46L263.04,1552.27L263.64,1553.07L264.27,1553.85L264.91,1554.62L265.58,1555.36L266.28,1556.08L266.99,1556.78L267.73,1557.45L268.50,1558.09L269.29,1558.70L270.11,1559.28L270.95,1559.82L271.82,1560.31L272.72,1560.74L273.65,1561.11L274.60,1561.42L275.58,1561.63L276.57,1561.76L277.57,1561.77L278.57,1561.68L279.55,1561.48L280.49,1561.17L281.41,1560.77L282.30,1560.32L283.18,1559.83L284.03,1559.31L284.88,1558.79L285.73,1558.26L286.59,1557.75L287.47,1557.26L288.36,1556.82L289.29,1556.44L290.24,1556.15L291.23,1555.98L292.23,1555.98L293.21,1556.14L294.17,1556.44L295.08,1556.86L295.94,1557.36L296.76,1557.93L297.54,1558.56L298.28,1559.23L298.99,1559.94L299.66,1560.68L300.30,1561.45L300.91,1562.24L301.49,1563.06L302.03,1563.89L302.54,1564.75L303.02,1565.63L303.47,1566.53L303.88,1567.44L304.27,1568.36L304.63,1569.29L304.97,1570.23L305.30,1571.18L305.62,1572.13L305.93,1573.08L306.24,1574.03L306.54,1574.98L306.84,1575.93L307.14,1576.89L307.43,1577.84L307.72,1578.80L308.01,1579.76L308.29,1580.72L308.57,1581.68L308.84,1582.64L309.11,1583.61L309.37,1584.57L309.64,1585.54L309.89,1586.50L310.15,1587.47L310.40,1588.44L310.64,1589.41L310.89,1590.38L311.12,1591.35L311.36,1592.32L311.59,1593.29L311.82,1594.27L312.04,1595.24L312.27,1596.22L312.48,1597.19L312.70,1598.17L312.91,1599.15L313.12,1600.12L313.33,1601.10L313.53,1602.08L313.73,1603.06L313.93,1604.04L314.13,1605.02L314.32,1606.00L314.51,1606.99L314.70,1607.97L314.88,1608.95L315.07,1609.93L315.25,1610.92L315.43,1611.90L315.61,1612.88L315.79,1613.87L315.96,1614.85L316.13,1615.84L316.30,1616.82L316.47,1617.81L316.64,1618.80L316.81,1619.78L316.97,1620.77L317.13,1621.75L317.30,1622.74L317.46,1623.73L317.62,1624.72L317.77,1625.70L317.93,1626.69L318.09,1627.68L318.24,1628.67L318.39,1629.66L318.55,1630.64L318.70,1631.63L318.85,1632.62L319.00,1633.61L319.15,1634.60L319.30,1635.59L319.45,1636.58L319.59,1637.57L319.74,1638.56L319.89,1639.54L320.03,1640.53L320.18,1641.52L320.33,1642.51L320.47,1643.50L320.62,1644.49L320.76,1645.48L320.91,1646.47L321.05,1647.46L321.20,1648.45L321.34,1649.44L321.49,1650.43L321.63,1651.42L321.78,1652.41L321.93,1653.40L322.07,1654.39L322.22,1655.38L322.37,1656.36L322.52,1657.35L322.66,1658.34L322.81,1659.33L322.96,1660.32L323.11,1661.31L323.27,1662.30L323.42,1663.29L323.57,1664.27L323.72,1665.26L323.87,1666.25L324.02,1667.24L324.18,1668.23L324.33,1669.22L324.48,1670.21L324.63,1671.19L324.78,1672.18L324.93,1673.17L325.08,1674.16L325.23,1675.15L325.38,1676.14L325.53,1677.13L325.68,1678.12L325.83,1679.10L325.97,1680.09L326.12,1681.08L326.26,1682.07L326.41,1683.06L326.55,1684.05L326.69,1685.04L326.83,1686.03L326.96,1687.02L327.10,1688.01L327.24,1689.01L327.37,1690.00L327.50,1690.99L327.63,1691.98L327.76,1692.97L327.89,1693.96L328.02,1694.96L328.14,1695.95L328.27,1696.94L328.40,1697.93L328.54,1698.92L328.67,1699.91L328.81,1700.90L328.96,1701.89L329.11,1702.88L329.26,1703.87L329.42,1704.86L329.59,1705.84L329.77,1706.83L329.95,1707.81L330.15,1708.79L330.35,1709.77L330.56,1710.75L330.79,1711.72L331.03,1712.69L331.28,1713.66L331.54,1714.62L331.82,1715.58L332.12,1716.54L332.43,1717.49L332.75,1718.44L333.10,1719.38L333.46,1720.31L333.84,1721.23L334.25,1722.15L334.67,1723.05L335.11,1723.95L335.58,1724.84L336.06,1725.71L336.57,1726.57L337.10,1727.42L337.66,1728.25L338.23,1729.07L338.82,1729.88L339.43,1730.67L340.06,1731.44L340.71,1732.21L341.38,1732.95L342.06,1733.68L342.76,1734.39L343.48,1735.09L344.21,1735.77L344.96,1736.44L345.72,1737.09L346.50,1737.72L347.29,1738.33L348.09,1738.93L348.91,1739.50L349.73,1740.06L350.58,1740.60L351.43,1741.13L352.29,1741.63L353.17,1742.11L354.05,1742.58L354.95,1743.02L355.85,1743.45L356.77,1743.85L357.69,1744.23L358.63,1744.60L359.57,1744.94L360.51,1745.25L361.47,1745.55L362.43,1745.83L363.40,1746.08L364.37,1746.31L365.35,1746.53L366.33,1746.72L367.31,1746.90L368.30,1747.06L369.29,1747.20L370.28,1747.32L371.28,1747.43L372.27,1747.53L373.27,1747.61L374.27,1747.67L375.27,1747.72L376.26,1747.76L377.26,1747.79L378.26,1747.80L379.26,1747.81L380.26,1747.81L381.26,1747.79L382.26,1747.77L383.26,1747.74L384.26,1747.70L385.26,1747.65L386.26,1747.60L387.26,1747.54L388.26,1747.48L389.26,1747.41L390.25,1747.34L391.25,1747.26L392.25,1747.18L393.24,1747.10L394.24,1747.01L395.24,1746.92L396.23,1746.83L397.23,1746.73L398.22,1746.63L399.22,1746.53L400.21,1746.42L401.21,1746.32L402.20,1746.20L403.19,1746.09L404.19,1745.97L405.18,1745.85L406.17,1745.72L407.16,1745.59L408.15,1745.46L409.14,1745.32L410.13,1745.18L411.12,1745.04L412.11,1744.89L413.10,1744.74L414.09,1744.59L415.08,1744.43L416.07,1744.27L417.05,1744.10L418.04,1743.93L419.02,1743.76L420.01,1743.58L420.99,1743.40L421.97,1743.22L422.95,1743.03L423.94,1742.83L424.92,1742.64L425.90,1742.44L426.87,1742.23L427.85,1742.02L428.83,1741.81L429.81,1741.59L430.78,1741.37L431.75,1741.14L432.73,1740.91L433.70,1740.68L434.67,1740.44L435.64,1740.19L436.61,1739.94L437.58,1739.69L438.54,1739.44L439.51,1739.17L440.47,1738.91L441.44,1738.64L442.40,1738.36L443.36,1738.08L444.32,1737.80L445.27,1737.51L446.23,1737.22L447.19,1736.92L448.14,1736.62L449.09,1736.31L450.04,1736.00L450.99,1735.68L451.94,1735.36L452.88,1735.04L453.83,1734.71L454.77,1734.37L455.71,1734.03L456.65,1733.69L457.59,1733.34L458.52,1732.98L459.45,1732.62L460.39,1732.26L461.32,1731.89L462.24,1731.52L463.17,1731.14L464.09,1730.76L465.02,1730.38L465.94,1729.99L466.86,1729.59L467.78,1729.20L468.69,1728.80L469.61,1728.39L470.52,1727.98L471.43,1727.57L472.34,1727.16L473.25,1726.74L474.16,1726.32L475.06,1725.90L475.97,1725.47L476.87,1725.04L477.77,1724.61L478.67,1724.17L479.57,1723.73L480.47,1723.29L481.37,1722.85L482.26,1722.40L483.15,1721.95L484.05,1721.50L484.94,1721.05L485.83,1720.60L486.72,1720.14L487.61,1719.68L488.50,1719.22L489.38,1718.76L490.27,1718.29L491.16,1717.83L492.04,1717.36L492.92,1716.89L493.81,1716.42L494.69,1715.95L495.57,1715.48L496.45,1715.01L497.33,1714.53L498.21,1714.06L499.09,1713.58L499.97,1713.10L500.85,1712.62L501.72,1712.14L502.60,1711.66L503.48,1711.18L504.35,1710.69L505.22,1710.21L506.10,1709.72L506.97,1709.23L507.84,1708.74L508.71,1708.25L509.58,1707.76L510.45,1707.26L511.32,1706.77L512.19,1706.27L513.06,1705.77L513.92,1705.27L514.79,1704.77L515.65,1704.27L516.52,1703.76L517.38,1703.26L518.24,1702.75L519.10,1702.24L519.96,1701.73L520.82,1701.22L521.68,1700.70L522.54,1700.19L523.39,1699.67L524.25,1699.15L525.10,1698.63L525.95,1698.11L526.81,1697.59L527.66,1697.06L528.51,1696.53L529.36,1696.01L530.20,1695.48L531.05,1694.94L531.90,1694.41L532.74,1693.87L533.58,1693.33L534.42,1692.80L535.27,1692.25L536.11,1691.71L536.94,1691.17L537.78,1690.62L538.62,1690.07L539.45,1689.52L540.28,1688.97L541.12,1688.41L541.95,1687.85L542.78,1687.30L543.61,1686.74L544.43,1686.17L545.26,1685.61L546.08,1685.04L546.91,1684.47L547.73,1683.90L548.55,1683.33L549.37,1682.76L550.18,1682.18L551.00,1681.60L551.81,1681.02L552.62,1680.44L553.44,1679.85L554.25,1679.27L555.05,1678.68L555.86,1678.08L556.67,1677.49L557.47,1676.90L558.27,1676.30L559.07,1675.70L559.87,1675.10L560.67,1674.49L561.46,1673.88L562.25,1673.28L563.05,1672.66L563.84,1672.05L564.62,1671.44L565.41,1670.82L566.20,1670.20L566.98,1669.58L567.76,1668.95L568.54,1668.33L569.32,1667.70L570.09,1667.07L570.87,1666.44L571.64,1665.80L572.42,1665.17L573.19,1664.53L573.96,1663.89L574.72,1663.25L575.49,1662.61L576.26,1661.96L577.02,1661.32L577.78,1660.67L578.55,1660.02L579.31,1659.38L580.07,1658.72L580.82,1658.07L581.58,1657.42L582.34,1656.77L583.10,1656.11L583.85,1655.46L584.61,1654.80L585.36,1654.14L586.11,1653.49L586.87,1652.83L587.62,1652.17L588.37,1651.51L589.12,1650.85L589.87,1650.19L590.62,1649.52L591.37,1648.86L592.12,1648.20L592.87,1647.54L593.62,1646.87L594.36,1646.21L595.11,1645.55L595.86,1644.88L596.61,1644.22L597.36,1643.55L598.10,1642.89L598.85,1642.23L599.60,1641.56L600.35,1640.90L601.10,1640.24L601.85,1639.57L602.59,1638.91L603.34,1638.25L604.09,1637.59L604.84,1636.93L605.59,1636.26L606.35,1635.60L607.10,1634.94L607.85,1634.28L608.60,1633.63L609.36,1632.97L610.11,1632.31L610.86,1631.66L611.62,1631.00L612.38,1630.35L613.13,1629.69L613.89,1629.04L614.65,1628.39L615.41,1627.74L616.17,1627.09L616.94,1626.45L617.70,1625.80L618.46,1625.16L619.23,1624.51L620.00,1623.87L620.77,1623.23L621.54,1622.59L622.31,1621.96L623.08,1621.32L623.85,1620.69L624.63,1620.06L625.41,1619.43L626.19,1618.80L626.97,1618.18L627.75,1617.55L628.53,1616.93L629.32,1616.31L630.11,1615.70L630.89,1615.08L631.69,1614.47L632.48,1613.86L633.27,1613.25L634.07,1612.65L634.87,1612.04L635.67,1611.45L636.47,1610.85L637.28,1610.25L638.08,1609.66L638.89,1609.07L639.70,1608.49L640.51,1607.90L641.33,1607.32L642.14,1606.74L642.96,1606.17L643.78,1605.59L644.60,1605.02L645.42,1604.45L646.24,1603.88L647.07,1603.32L647.89,1602.75L648.72,1602.19L649.55,1601.63L650.38,1601.07L651.21,1600.51L652.04,1599.96L652.87,1599.40L653.71,1598.85L654.54,1598.30L655.38,1597.75L656.21,1597.21L657.05,1596.66L657.89,1596.11L658.73,1595.57L659.57,1595.03L660.41,1594.49L661.25,1593.95L662.10,1593.41L662.94,1592.87L663.78,1592.33L664.63,1591.80L665.47,1591.26L666.31,1590.72L667.16,1590.19L668.01,1589.66L668.85,1589.12L669.70,1588.59L670.54,1588.06L671.39,1587.52L672.24,1586.99L673.08,1586.46L673.93,1585.93L674.78,1585.40L675.63,1584.87L676.47,1584.33L677.32,1583.80L678.17,1583.27L679.01,1582.74L679.86,1582.21L680.71,1581.67L681.55,1581.14L682.40,1580.61L683.25,1580.07L684.09,1579.54L684.94,1579.01L685.79,1578.48L686.63,1577.95L687.48,1577.42L688.33,1576.89L689.18,1576.36L690.03,1575.83L690.88,1575.31L691.73,1574.78L692.58,1574.26L693.44,1573.74L694.29,1573.22L695.15,1572.70L696.01,1572.19L696.86,1571.68L697.73,1571.17L698.59,1570.66L699.45,1570.16L700.32,1569.65L701.18,1569.16L702.05,1568.66L702.93,1568.17L703.80,1567.68L704.67,1567.20L705.55,1566.72L706.43,1566.25L707.31,1565.78L708.20,1565.31L709.09,1564.85L709.98,1564.39L710.87,1563.94L711.76,1563.49L712.66,1563.05L713.56,1562.61L714.46,1562.18L715.37,1561.76L716.28,1561.34L717.19,1560.93L718.10,1560.52L719.02,1560.12L719.94,1559.73L720.86,1559.35L721.79,1558.97L722.72,1558.59L723.65,1558.23L724.58,1557.87L725.52,1557.52L726.46,1557.18L727.40,1556.85L728.35,1556.53L729.30,1556.21L730.25,1555.90L731.20,1555.60" fill="none" stroke="#e5106a" stroke-width="2.3" stroke-linecap="round" stroke-linejoin="round" clip-path="url(#clipc)"/>
<path d="M407.5,70.7H464.3" stroke="#2a35a0" stroke-width="2.6" stroke-linecap="butt"/>
<path d="M406.8,151.7H464.3" stroke="#7fd3e3" stroke-width="3.2" stroke-linecap="butt" stroke-dasharray="8 4.6"/>
<path d="M386.8,736.0H444.3" stroke="#66c10a" stroke-width="2.4" stroke-linecap="butt"/>
<path d="M386.0,815.6H443.0" stroke="#b08f2a" stroke-width="3.3" stroke-linecap="butt" stroke-dasharray="4.4 2.15"/>
<path d="M398.7,895.1H441.4" stroke="#98989d" stroke-width="3.3" stroke-linecap="butt" stroke-dasharray="16.5 9.5"/>
<path d="M345.9,1380.0H401.8" stroke="#e5106a" stroke-width="2.4" stroke-linecap="butt"/>
<path d="M344.8,1449.7H400.7" stroke="#f58a2b" stroke-width="3.3" stroke-linecap="butt" stroke-dasharray="4.5 1.75"/>
<path d="M357.3,1519.8H398.6" stroke="#7d34b9" stroke-width="3.5" stroke-linecap="butt" stroke-dasharray="16 9.3"/>
<path d="M565.1,144.7 L577.2,151.2M591.7,152.4 L601.0,149.9M606.6,133.3 L606.6,141.7M610.3,133.3 L610.3,141.7M615.9,149.6 L624.3,151.9M637.9,158.6 L651.5,165.2 L672.7,153.4 L685.9,160.8M707.6,157.8 L715.9,153.1M702.8,171.0 L715.9,178.0M694.4,174.7 L694.4,190.0M607.5,158.5 L605.2,169.2" fill="none" stroke="#5a5a5a" stroke-width="1.5" stroke-linecap="butt" stroke-linejoin="miter"/>
<text x="584.2" y="161.0" font-size="16" text-anchor="middle" fill="#111" stroke="#111" stroke-width="0.3">O</text>
<text x="609.0" y="155.9" font-size="16" text-anchor="middle" fill="#111" stroke="#111" stroke-width="0.3">P</text>
<text x="608.7" y="130.6" font-size="16" text-anchor="middle" fill="#111" stroke="#111" stroke-width="0.3">O</text>
<text x="631.9" y="160.6" font-size="16" text-anchor="middle" fill="#111" stroke="#111" stroke-width="0.3">O</text>
<text x="694.0" y="170.6" font-size="16" text-anchor="middle" fill="#111" stroke="#111" stroke-width="0.3">N</text>
<text x="702.5" y="163.9" font-size="8" text-anchor="middle" fill="#111" stroke="#111" stroke-width="0.3">+</text>
<text x="602.1" y="182.9" font-size="16" text-anchor="middle" fill="#111" stroke="#111" stroke-width="0.3">O</text>
<path d="M609.4,172.0H613.6" stroke="#111" stroke-width="1.1"/>
<path d="M554.7,730.9 L567.3,738.0M582.0,739.3 L592.6,736.2M596.9,720.0 L596.9,728.6M601.1,720.0 L601.1,728.6M605.9,735.3 L615.9,738.3M598.6,745.3 L595.9,755.9" fill="none" stroke="#5a5a5a" stroke-width="1.5" stroke-linecap="butt" stroke-linejoin="miter"/>
<text x="574.3" y="747.1" font-size="16" text-anchor="middle" fill="#111" stroke="#111" stroke-width="0.3">O</text>
<text x="599.3" y="742.5" font-size="16" text-anchor="middle" fill="#111" stroke="#111" stroke-width="0.3">P</text>
<text x="599.2" y="717.1" font-size="16" text-anchor="middle" fill="#111" stroke="#111" stroke-width="0.3">O</text>
<text x="617.0" y="746.9" font-size="16" text-anchor="start" fill="#111" stroke="#111" stroke-width="0.3">OH</text>
<text x="593.7" y="770.4" font-size="16" text-anchor="middle" fill="#111" stroke="#111" stroke-width="0.3">O</text>
<path d="M601.3,759.7H604.8" stroke="#111" stroke-width="1.1"/>
<path d="M554.0,809.4 L563.3,814.7M578.0,815.2 L588.0,813.3M593.3,795.0 L593.3,804.0M597.1,795.0 L597.1,804.0M603.3,813.0 L612.3,815.0M625.9,821.6 L640.0,829.0 L662.0,816.6 L683.9,828.6 L697.9,820.6M662.0,816.6 L662.0,800.6M594.6,822.3 L592.6,832.9" fill="none" stroke="#5a5a5a" stroke-width="1.5" stroke-linecap="butt" stroke-linejoin="miter"/>
<text x="570.0" y="824.8" font-size="16" text-anchor="middle" fill="#111" stroke="#111" stroke-width="0.3">O</text>
<text x="595.7" y="819.8" font-size="16" text-anchor="middle" fill="#111" stroke="#111" stroke-width="0.3">P</text>
<text x="595.8" y="793.0" font-size="16" text-anchor="middle" fill="#111" stroke="#111" stroke-width="0.3">O</text>
<text x="619.4" y="824.3" font-size="16" text-anchor="middle" fill="#111" stroke="#111" stroke-width="0.3">O</text>
<text x="655.5" y="797.8" font-size="16" text-anchor="start" fill="#111" stroke="#111" stroke-width="0.3">OH</text>
<text x="698.6" y="823.8" font-size="16" text-anchor="start" fill="#111" stroke="#111" stroke-width="0.3">OH</text>
<text x="590.2" y="847.8" font-size="16" text-anchor="middle" fill="#111" stroke="#111" stroke-width="0.3">O</text>
<path d="M597.3,837.0H601.3" stroke="#111" stroke-width="1.1"/>
<path d="M555.4,894.5 L566.8,900.7M581.2,902.0 L589.5,898.6M594.6,882.2 L594.6,890.6M598.5,882.2 L598.5,890.6M603.9,898.4 L612.3,900.7M626.1,907.3 L639.0,914.3 L659.4,902.5 L672.5,909.1M659.4,902.5 L670.7,881.0 L685.7,881.0M596.1,907.9 L593.7,918.1M671.0,880.0 L664.3,868.7M669.0,881.2 L662.3,869.9" fill="none" stroke="#5a5a5a" stroke-width="1.5" stroke-linecap="butt" stroke-linejoin="miter"/>
<path d="M657.2,901.1L658.0,900.3M655.2,899.4L656.3,898.3M653.2,897.7L654.7,896.3M651.2,896.1L653.1,894.3M649.2,894.4L651.4,892.3M647.2,892.8L649.8,890.3" stroke="#333" stroke-width="1.15" fill="none"/>
<text x="573.7" y="909.1" font-size="16" text-anchor="middle" fill="#111" stroke="#111" stroke-width="0.3">O</text>
<text x="597.0" y="905.7" font-size="16" text-anchor="middle" fill="#111" stroke="#111" stroke-width="0.3">P</text>
<text x="596.0" y="879.9" font-size="16" text-anchor="middle" fill="#111" stroke="#111" stroke-width="0.3">O</text>
<text x="619.2" y="909.0" font-size="16" text-anchor="middle" fill="#111" stroke="#111" stroke-width="0.3">O</text>
<text x="591.7" y="932.0" font-size="16" text-anchor="middle" fill="#111" stroke="#111" stroke-width="0.3">O</text>
<path d="M598.5,921.7H602.7" stroke="#111" stroke-width="1.1"/>
<text x="641.4" y="889.4" font-size="16" text-anchor="middle" fill="#111" stroke="#111" stroke-width="0.3">H</text>
<text x="660.3" y="867.4" font-size="16" text-anchor="middle" fill="#111" stroke="#111" stroke-width="0.3">O</text>
<text x="693.2" y="887.3" font-size="16" text-anchor="middle" fill="#111" stroke="#111" stroke-width="0.3">O</text>
<path d="M700.7,876.8H704.9" stroke="#111" stroke-width="1.1"/>
<text x="674.2" y="919.4" font-size="16" text-anchor="start" fill="#111" stroke="#111" stroke-width="0.3">NH</text>
<text x="697.8" y="922.9" font-size="7.5" fill="#111">3</text>
<text x="704.8" y="912.1" font-size="8" text-anchor="middle" fill="#111" stroke="#111" stroke-width="0.3">+</text>
<path d="M550.4,1391.4 L557.2,1395.6M569.1,1404.0 L584.6,1408.8M584.6,1408.8 L597.1,1387.0 L625.1,1392.4 L652.2,1386.2M597.1,1387.0 L588.6,1389.0M625.1,1392.4 L630.2,1384.3M652.2,1386.2 L652.2,1375.6M635.7,1407.4 L650.2,1404.9 L661.8,1410.7M631.2,1350.4 L629.8,1357.4M630.2,1368.0 L631.8,1372.6M614.8,1359.4 L622.5,1361.8M615.6,1356.6 L623.3,1359.0M633.4,1361.7 L641.3,1359.0M632.4,1358.9 L640.3,1356.2" fill="none" stroke="#5a5a5a" stroke-width="1.3" stroke-linecap="butt" stroke-linejoin="miter"/>
<path d="M584.6,1408.8 L604.2,1401.0 L604.9,1405.4 Z" fill="#111"/>
<path d="M616.2,1402.6 L635.7,1405.6 L635.2,1409.4 L616.0,1405.8 Z" fill="#111"/>
<path d="M633.3,1407.0 L638.4,1409.2 L652.2,1386.2 Z" fill="#111"/>
<text x="632.8" y="1349.8" font-size="13.5" text-anchor="middle" fill="#111" stroke="#111" stroke-width="0.3">O</text>
<path d="M639.4,1339.2H644.3" stroke="#111" stroke-width="1.1"/>
<text x="628.0" y="1367.4" font-size="13.5" text-anchor="middle" fill="#111" stroke="#111" stroke-width="0.3">S</text>
<text x="609.1" y="1361.4" font-size="13.5" text-anchor="middle" fill="#111" stroke="#111" stroke-width="0.3">O</text>
<text x="647.0" y="1361.4" font-size="13.5" text-anchor="middle" fill="#111" stroke="#111" stroke-width="0.3">O</text>
<text x="632.8" y="1383.3" font-size="13.5" text-anchor="middle" fill="#111" stroke="#111" stroke-width="0.3">O</text>
<text x="647.2" y="1374.5" font-size="13.5" text-anchor="start" fill="#111" stroke="#111" stroke-width="0.3">OH</text>
<text x="586.9" y="1394.6" font-size="13.5" text-anchor="end" fill="#111" stroke="#111" stroke-width="0.3">HO</text>
<text x="562.9" y="1405.8" font-size="13.5" text-anchor="middle" fill="#111" stroke="#111" stroke-width="0.3">O</text>
<text x="610.7" y="1408.3" font-size="13.5" text-anchor="middle" fill="#111" stroke="#111" stroke-width="0.3">O</text>
<text x="662.3" y="1418.8" font-size="13.5" text-anchor="start" fill="#111" stroke="#111" stroke-width="0.3">OH</text>
<path d="M588.7,1446.4 L607.7,1457.4 L607.7,1478.6 L588.7,1488.8 L569.6,1478.6 L569.6,1457.4 L588.7,1446.4M573.3,1460.5 L573.3,1476.2M590.2,1450.2 L604.6,1458.6M590.2,1485.0 L604.6,1477.2M569.6,1478.6 L557.9,1485.2M607.7,1457.4 L619.6,1450.8M630.6,1450.2 L640.2,1454.2M623.6,1439.8 L619.5,1433.2M621.0,1441.4 L616.9,1434.8M628.9,1441.4 L633.1,1434.8M626.3,1439.8 L630.5,1433.2" fill="none" stroke="#7f7f7f" stroke-width="1.5" stroke-linecap="butt" stroke-linejoin="miter"/>
<text x="626.0" y="1451.3" font-size="13.5" text-anchor="middle" fill="#111" stroke="#111" stroke-width="0.3">S</text>
<text x="615.3" y="1432.8" font-size="13.5" text-anchor="middle" fill="#111" stroke="#111" stroke-width="0.3">O</text>
<text x="636.8" y="1432.8" font-size="13.5" text-anchor="middle" fill="#111" stroke="#111" stroke-width="0.3">O</text>
<text x="646.5" y="1462.7" font-size="13.5" text-anchor="middle" fill="#111" stroke="#111" stroke-width="0.3">O</text>
<path d="M653.4,1451.2H657.6" stroke="#111" stroke-width="1.1"/>
<path d="M530.4,1515.8 L530.4,1532.0M530.4,1543.5 L530.4,1566.0 L506.5,1579.5 L483.2,1566.0 L471.9,1572.0M530.4,1566.0 L554.1,1579.5 L554.1,1585.9M483.2,1566.0 L483.2,1545.0M486.6,1562.5 L486.6,1545.0M511.3,1528.5 L525.3,1536.7M512.7,1526.1 L526.7,1534.3M536.1,1536.7 L550.1,1528.5M534.7,1534.3 L548.7,1526.1M554.1,1579.5 L573.0,1568.8M553.3,1575.6 L570.9,1565.6" fill="none" stroke="#333" stroke-width="1.35" stroke-linecap="butt" stroke-linejoin="miter"/>
<text x="529.9" y="1514.6" font-size="13.5" text-anchor="middle" fill="#111" stroke="#111" stroke-width="0.3">O</text>
<circle cx="541.4" cy="1502.8" r="4.7" fill="none" stroke="#111" stroke-width="1.15"/>
<path d="M538.9,1502.8H543.9" stroke="#111" stroke-width="1.15"/>
<text x="530.8" y="1542.3" font-size="13.5" text-anchor="middle" fill="#111" stroke="#111" stroke-width="0.3">S</text>
<text x="506.6" y="1528.5" font-size="13.5" text-anchor="middle" fill="#111" stroke="#111" stroke-width="0.3">O</text>
<text x="554.2" y="1528.5" font-size="13.5" text-anchor="middle" fill="#111" stroke="#111" stroke-width="0.3">O</text>
<text x="483.2" y="1543.2" font-size="13.5" text-anchor="middle" fill="#111" stroke="#111" stroke-width="0.3">O</text>
<text x="578.9" y="1570.9" font-size="13.5" text-anchor="middle" fill="#111" stroke="#111" stroke-width="0.3">O</text>
</svg></body></html>
